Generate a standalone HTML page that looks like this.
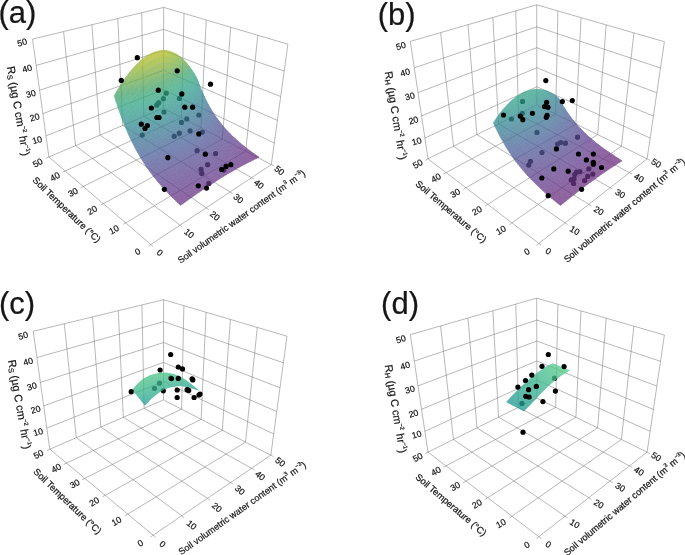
<!DOCTYPE html><html><head><meta charset="utf-8"><title>Figure</title><style>html,body{margin:0;padding:0;background:#fff}svg{display:block;will-change:transform}text{font-family:"Liberation Sans",Arial,sans-serif;fill:#161616;stroke:#161616;stroke-width:0.22px}</style></head><body>
<svg width="685" height="555" viewBox="0 0 685 555">
<rect width="685" height="555" fill="#fff"/>
<defs></defs>
<g id="panel-a">
<line x1="150.9" y1="244.5" x2="48.9" y2="157.0" stroke="#7c7c7c" stroke-width="0.55"/>
<line x1="150.9" y1="244.5" x2="271.3" y2="164.6" stroke="#7c7c7c" stroke-width="0.55"/>
<line x1="48.9" y1="157.0" x2="32.5" y2="39.1" stroke="#7c7c7c" stroke-width="0.55"/>
<line x1="271.3" y1="164.6" x2="287.9" y2="44.2" stroke="#7c7c7c" stroke-width="0.55"/>
<line x1="180.0" y1="225.2" x2="75.5" y2="145.6" stroke="#7c7c7c" stroke-width="0.55"/>
<line x1="125.7" y1="222.9" x2="245.7" y2="151.2" stroke="#7c7c7c" stroke-width="0.55"/>
<line x1="75.5" y1="145.6" x2="63.6" y2="31.6" stroke="#7c7c7c" stroke-width="0.55"/>
<line x1="45.9" y1="135.9" x2="163.4" y2="89.6" stroke="#7c7c7c" stroke-width="0.55"/>
<line x1="245.7" y1="151.2" x2="257.8" y2="35.2" stroke="#7c7c7c" stroke-width="0.55"/>
<line x1="274.3" y1="143.1" x2="163.4" y2="89.6" stroke="#7c7c7c" stroke-width="0.55"/>
<line x1="206.3" y1="207.8" x2="100.0" y2="135.1" stroke="#7c7c7c" stroke-width="0.55"/>
<line x1="103.3" y1="203.7" x2="222.4" y2="139.0" stroke="#7c7c7c" stroke-width="0.55"/>
<line x1="100.0" y1="135.1" x2="91.9" y2="24.8" stroke="#7c7c7c" stroke-width="0.55"/>
<line x1="42.8" y1="113.6" x2="163.5" y2="70.4" stroke="#7c7c7c" stroke-width="0.55"/>
<line x1="222.4" y1="139.0" x2="230.7" y2="27.2" stroke="#7c7c7c" stroke-width="0.55"/>
<line x1="277.4" y1="120.4" x2="163.5" y2="70.4" stroke="#7c7c7c" stroke-width="0.55"/>
<line x1="230.0" y1="192.0" x2="122.7" y2="125.4" stroke="#7c7c7c" stroke-width="0.55"/>
<line x1="83.2" y1="186.5" x2="201.0" y2="127.8" stroke="#7c7c7c" stroke-width="0.55"/>
<line x1="122.7" y1="125.4" x2="117.8" y2="18.5" stroke="#7c7c7c" stroke-width="0.55"/>
<line x1="39.6" y1="90.2" x2="163.5" y2="50.4" stroke="#7c7c7c" stroke-width="0.55"/>
<line x1="201.0" y1="127.8" x2="206.2" y2="20.0" stroke="#7c7c7c" stroke-width="0.55"/>
<line x1="280.7" y1="96.5" x2="163.5" y2="50.4" stroke="#7c7c7c" stroke-width="0.55"/>
<line x1="251.6" y1="177.7" x2="143.8" y2="116.4" stroke="#7c7c7c" stroke-width="0.55"/>
<line x1="65.2" y1="171.0" x2="181.4" y2="117.5" stroke="#7c7c7c" stroke-width="0.55"/>
<line x1="143.8" y1="116.4" x2="141.7" y2="12.7" stroke="#7c7c7c" stroke-width="0.55"/>
<line x1="36.2" y1="65.4" x2="163.6" y2="29.4" stroke="#7c7c7c" stroke-width="0.55"/>
<line x1="181.4" y1="117.5" x2="184.0" y2="13.4" stroke="#7c7c7c" stroke-width="0.55"/>
<line x1="284.2" y1="71.1" x2="163.6" y2="29.4" stroke="#7c7c7c" stroke-width="0.55"/>
<line x1="271.3" y1="164.6" x2="163.4" y2="108.1" stroke="#7c7c7c" stroke-width="0.55"/>
<line x1="48.9" y1="157.0" x2="163.4" y2="108.1" stroke="#7c7c7c" stroke-width="0.55"/>
<line x1="163.4" y1="108.1" x2="163.7" y2="7.4" stroke="#7c7c7c" stroke-width="0.55"/>
<line x1="32.5" y1="39.1" x2="163.7" y2="7.4" stroke="#7c7c7c" stroke-width="0.55"/>
<line x1="287.9" y1="44.2" x2="163.7" y2="7.4" stroke="#7c7c7c" stroke-width="0.55"/>
<line x1="150.9" y1="244.5" x2="148.4" y2="246.2" stroke="#7c7c7c" stroke-width="0.55"/>
<line x1="150.9" y1="244.5" x2="153.2" y2="246.5" stroke="#7c7c7c" stroke-width="0.55"/>
<line x1="125.7" y1="222.9" x2="123.1" y2="224.4" stroke="#7c7c7c" stroke-width="0.55"/>
<line x1="180.0" y1="225.2" x2="182.4" y2="227.0" stroke="#7c7c7c" stroke-width="0.55"/>
<line x1="103.3" y1="203.7" x2="100.7" y2="205.1" stroke="#7c7c7c" stroke-width="0.55"/>
<line x1="206.3" y1="207.8" x2="208.7" y2="209.5" stroke="#7c7c7c" stroke-width="0.55"/>
<line x1="83.2" y1="186.5" x2="80.6" y2="187.8" stroke="#7c7c7c" stroke-width="0.55"/>
<line x1="230.0" y1="192.0" x2="232.5" y2="193.6" stroke="#7c7c7c" stroke-width="0.55"/>
<line x1="65.2" y1="171.0" x2="62.5" y2="172.3" stroke="#7c7c7c" stroke-width="0.55"/>
<line x1="251.6" y1="177.7" x2="254.2" y2="179.2" stroke="#7c7c7c" stroke-width="0.55"/>
<line x1="48.9" y1="157.0" x2="46.1" y2="158.2" stroke="#7c7c7c" stroke-width="0.55"/>
<line x1="271.3" y1="164.6" x2="274.0" y2="166.0" stroke="#7c7c7c" stroke-width="0.55"/>
<circle cx="166.2" cy="93.2" r="2.6" fill="#000"/>
<circle cx="163.4" cy="98.7" r="2.6" fill="#000"/>
<circle cx="158.7" cy="102.7" r="2.6" fill="#000"/>
<circle cx="156.7" cy="105.2" r="2.6" fill="#000"/>
<circle cx="179.4" cy="98.4" r="2.6" fill="#000"/>
<circle cx="164.0" cy="112.0" r="2.6" fill="#000"/>
<circle cx="198.8" cy="115.0" r="2.6" fill="#000"/>
<circle cx="186.7" cy="118.9" r="2.6" fill="#000"/>
<circle cx="181.5" cy="122.4" r="2.6" fill="#000"/>
<circle cx="190.1" cy="130.9" r="2.6" fill="#000"/>
<circle cx="202.3" cy="132.0" r="2.6" fill="#000"/>
<circle cx="179.4" cy="133.2" r="2.6" fill="#000"/>
<circle cx="174.2" cy="136.3" r="2.6" fill="#000"/>
<circle cx="142.2" cy="135.1" r="2.6" fill="#000"/>
<circle cx="197.1" cy="150.7" r="2.6" fill="#000"/>
<circle cx="215.6" cy="153.5" r="2.6" fill="#000"/>
<circle cx="207.6" cy="164.7" r="2.6" fill="#000"/>
<circle cx="201.1" cy="169.4" r="2.6" fill="#000"/>
<circle cx="201.8" cy="173.4" r="2.6" fill="#000"/>
<circle cx="223.8" cy="170.1" r="2.6" fill="#000"/>
<circle cx="208.8" cy="183.4" r="2.6" fill="#000"/>
<g opacity="0.77" stroke-width="0.7" stroke-linejoin="round">
<path d="M195.4 77.4L198.2 81.8L196.9 78.3L194.2 73.6Z" fill="#33a28b" stroke="#33a28b"/>
<path d="M196.7 81.0L199.4 85.1L198.2 81.8L195.4 77.4Z" fill="#349c8d" stroke="#349c8d"/>
<path d="M197.9 84.5L200.6 88.2L199.4 85.1L196.7 81.0Z" fill="#34968f" stroke="#34968f"/>
<path d="M192.6 73.4L195.4 77.4L194.2 73.6L191.4 69.2Z" fill="#39a781" stroke="#39a781"/>
<path d="M199.2 87.8L201.9 91.2L200.6 88.2L197.9 84.5Z" fill="#359191" stroke="#359191"/>
<path d="M193.9 77.4L196.7 81.0L195.4 77.4L192.6 73.4Z" fill="#35a487" stroke="#35a487"/>
<path d="M200.4 91.0L203.2 94.1L201.9 91.2L199.2 87.8Z" fill="#358c92" stroke="#358c92"/>
<path d="M195.1 81.1L197.9 84.5L196.7 81.0L193.9 77.4Z" fill="#33a08c" stroke="#33a08c"/>
<path d="M189.7 69.8L192.6 73.4L191.4 69.2L188.4 65.3Z" fill="#43a572" stroke="#43a572"/>
<path d="M201.7 94.0L204.4 96.8L203.2 94.1L200.4 91.0Z" fill="#378794" stroke="#378794"/>
<path d="M196.4 84.7L199.2 87.8L197.9 84.5L195.1 81.1Z" fill="#349a8e" stroke="#349a8e"/>
<path d="M191.0 74.1L193.9 77.4L192.6 73.4L189.7 69.8Z" fill="#3ba87e" stroke="#3ba87e"/>
<path d="M203.0 96.9L205.7 99.5L204.4 96.8L201.7 94.0Z" fill="#3a8295" stroke="#3a8295"/>
<path d="M197.6 88.2L200.4 91.0L199.2 87.8L196.4 84.7Z" fill="#359590" stroke="#359590"/>
<path d="M192.2 78.1L195.1 81.1L193.9 77.4L191.0 74.1Z" fill="#37a585" stroke="#37a585"/>
<path d="M186.7 66.6L189.7 69.8L188.4 65.3L185.5 61.8Z" fill="#56a862" stroke="#56a862"/>
<path d="M204.3 99.6L207.0 102.0L205.7 99.5L203.0 96.9Z" fill="#3d7d96" stroke="#3d7d96"/>
<path d="M198.9 91.4L201.7 94.0L200.4 91.0L197.6 88.2Z" fill="#359091" stroke="#359091"/>
<path d="M193.5 82.0L196.4 84.7L195.1 81.1L192.2 78.1Z" fill="#34a28a" stroke="#34a28a"/>
<path d="M188.0 71.2L191.0 74.1L189.7 69.8L186.7 66.6Z" fill="#45a570" stroke="#45a570"/>
<path d="M205.6 102.3L208.3 104.4L207.0 102.0L204.3 99.6Z" fill="#407997" stroke="#407997"/>
<path d="M200.2 94.6L203.0 96.9L201.7 94.0L198.9 91.4Z" fill="#368b93" stroke="#368b93"/>
<path d="M194.8 85.7L197.6 88.2L196.4 84.7L193.5 82.0Z" fill="#349d8d" stroke="#349d8d"/>
<path d="M189.3 75.5L192.2 78.1L191.0 74.1L188.0 71.2Z" fill="#3da77b" stroke="#3da77b"/>
<path d="M206.9 104.8L209.6 106.8L208.3 104.4L205.6 102.3Z" fill="#437598" stroke="#437598"/>
<path d="M183.7 63.8L186.7 66.6L185.5 61.8L182.4 58.7Z" fill="#6aac54" stroke="#6aac54"/>
<path d="M201.5 97.6L204.3 99.6L203.0 96.9L200.2 94.6Z" fill="#388694" stroke="#388694"/>
<path d="M196.1 89.2L198.9 91.4L197.6 88.2L194.8 85.7Z" fill="#34978f" stroke="#34978f"/>
<path d="M190.5 79.6L193.5 82.0L192.2 78.1L189.3 75.5Z" fill="#38a683" stroke="#38a683"/>
<path d="M208.2 107.3L210.9 109.0L209.6 106.8L206.9 104.8Z" fill="#457198" stroke="#457198"/>
<path d="M184.9 68.7L188.0 71.2L186.7 66.6L183.7 63.8Z" fill="#56a862" stroke="#56a862"/>
<path d="M202.8 100.4L205.6 102.3L204.3 99.6L201.5 97.6Z" fill="#3b8195" stroke="#3b8195"/>
<path d="M197.3 92.6L200.2 94.6L198.9 91.4L196.1 89.2Z" fill="#359291" stroke="#359291"/>
<path d="M191.8 83.5L194.8 85.7L193.5 82.0L190.5 79.6Z" fill="#34a389" stroke="#34a389"/>
<path d="M209.5 109.6L212.2 111.2L210.9 109.0L208.2 107.3Z" fill="#476d99" stroke="#476d99"/>
<path d="M186.2 73.3L189.3 75.5L188.0 71.2L184.9 68.7Z" fill="#45a570" stroke="#45a570"/>
<path d="M204.1 103.2L206.9 104.8L205.6 102.3L202.8 100.4Z" fill="#3e7c96" stroke="#3e7c96"/>
<path d="M180.5 61.5L183.7 63.8L182.4 58.7L179.2 56.1Z" fill="#7cb047" stroke="#7cb047"/>
<path d="M198.6 95.8L201.5 97.6L200.2 94.6L197.3 92.6Z" fill="#358d92" stroke="#358d92"/>
<path d="M193.1 87.3L196.1 89.2L194.8 85.7L191.8 83.5Z" fill="#349e8d" stroke="#349e8d"/>
<path d="M210.8 111.9L213.5 113.3L212.2 111.2L209.5 109.6Z" fill="#4a699a" stroke="#4a699a"/>
<path d="M187.5 77.6L190.5 79.6L189.3 75.5L186.2 73.3Z" fill="#3da77b" stroke="#3da77b"/>
<path d="M205.4 105.8L208.2 107.3L206.9 104.8L204.1 103.2Z" fill="#417897" stroke="#417897"/>
<path d="M181.8 66.6L184.9 68.7L183.7 63.8L180.5 61.5Z" fill="#67ab56" stroke="#67ab56"/>
<path d="M199.9 98.8L202.8 100.4L201.5 97.6L198.6 95.8Z" fill="#378894" stroke="#378894"/>
<path d="M194.4 90.8L197.3 92.6L196.1 89.2L193.1 87.3Z" fill="#34988f" stroke="#34988f"/>
<path d="M212.1 114.1L214.9 115.3L213.5 113.3L210.8 111.9Z" fill="#4c669a" stroke="#4c669a"/>
<path d="M188.8 81.7L191.8 83.5L190.5 79.6L187.5 77.6Z" fill="#38a683" stroke="#38a683"/>
<path d="M206.7 108.3L209.5 109.6L208.2 107.3L205.4 105.8Z" fill="#437398" stroke="#437398"/>
<path d="M183.1 71.4L186.2 73.3L184.9 68.7L181.8 66.6Z" fill="#53a765" stroke="#53a765"/>
<path d="M201.2 101.8L204.1 103.2L202.8 100.4L199.9 98.8Z" fill="#3a8395" stroke="#3a8395"/>
<path d="M177.3 59.6L180.5 61.5L179.2 56.1L176.0 54.0Z" fill="#8bb33e" stroke="#8bb33e"/>
<path d="M195.7 94.2L198.6 95.8L197.3 92.6L194.4 90.8Z" fill="#359390" stroke="#359390"/>
<path d="M213.5 116.2L216.2 117.2L214.9 115.3L212.1 114.1Z" fill="#4e629b" stroke="#4e629b"/>
<path d="M190.1 85.7L193.1 87.3L191.8 83.5L188.8 81.7Z" fill="#34a389" stroke="#34a389"/>
<path d="M208.0 110.8L210.8 111.9L209.5 109.6L206.7 108.3Z" fill="#466f99" stroke="#466f99"/>
<path d="M184.4 76.0L187.5 77.6L186.2 73.3L183.1 71.4Z" fill="#44a572" stroke="#44a572"/>
<path d="M202.5 104.6L205.4 105.8L204.1 103.2L201.2 101.8Z" fill="#3d7e96" stroke="#3d7e96"/>
<path d="M178.6 64.9L181.8 66.6L180.5 61.5L177.3 59.6Z" fill="#76af4c" stroke="#76af4c"/>
<path d="M197.0 97.5L199.9 98.8L198.6 95.8L195.7 94.2Z" fill="#358e92" stroke="#358e92"/>
<path d="M214.8 118.2L217.5 119.1L216.2 117.2L213.5 116.2Z" fill="#505f9a" stroke="#505f9a"/>
<path d="M191.4 89.4L194.4 90.8L193.1 87.3L190.1 85.7Z" fill="#349e8d" stroke="#349e8d"/>
<path d="M209.4 113.1L212.1 114.1L210.8 111.9L208.0 110.8Z" fill="#486c99" stroke="#486c99"/>
<path d="M185.7 80.3L188.8 81.7L187.5 77.6L184.4 76.0Z" fill="#3ba77d" stroke="#3ba77d"/>
<path d="M203.9 107.3L206.7 108.3L205.4 105.8L202.5 104.6Z" fill="#407997" stroke="#407997"/>
<path d="M180.0 69.9L183.1 71.4L181.8 66.6L178.6 64.9Z" fill="#61aa5b" stroke="#61aa5b"/>
<path d="M198.3 100.6L201.2 101.8L199.9 98.8L197.0 97.5Z" fill="#368993" stroke="#368993"/>
<path d="M174.1 58.2L177.3 59.6L176.0 54.0L172.7 52.4Z" fill="#97b637" stroke="#97b637"/>
<path d="M216.2 120.2L218.9 120.9L217.5 119.1L214.8 118.2Z" fill="#525c99" stroke="#525c99"/>
<path d="M192.7 93.0L195.7 94.2L194.4 90.8L191.4 89.4Z" fill="#34988e" stroke="#34988e"/>
<path d="M210.7 115.4L213.5 116.2L212.1 114.1L209.4 113.1Z" fill="#4a689a" stroke="#4a689a"/>
<path d="M187.0 84.4L190.1 85.7L188.8 81.7L185.7 80.3Z" fill="#37a584" stroke="#37a584"/>
<path d="M205.2 109.8L208.0 110.8L206.7 108.3L203.9 107.3Z" fill="#427597" stroke="#427597"/>
<path d="M181.3 74.7L184.4 76.0L183.1 71.4L180.0 69.9Z" fill="#4da669" stroke="#4da669"/>
<path d="M199.6 103.6L202.5 104.6L201.2 101.8L198.3 100.6Z" fill="#398494" stroke="#398494"/>
<path d="M175.4 63.7L178.6 64.9L177.3 59.6L174.1 58.2Z" fill="#82b143" stroke="#82b143"/>
<path d="M217.5 122.1L220.3 122.7L218.9 120.9L216.2 120.2Z" fill="#535a98" stroke="#535a98"/>
<path d="M194.0 96.4L197.0 97.5L195.7 94.2L192.7 93.0Z" fill="#359390" stroke="#359390"/>
<path d="M212.0 117.5L214.8 118.2L213.5 116.2L210.7 115.4Z" fill="#4c659b" stroke="#4c659b"/>
<path d="M188.3 88.4L191.4 89.4L190.1 85.7L187.0 84.4Z" fill="#34a28a" stroke="#34a28a"/>
<path d="M206.5 112.3L209.4 113.1L208.0 110.8L205.2 109.8Z" fill="#457198" stroke="#457198"/>
<path d="M182.6 79.2L185.7 80.3L184.4 76.0L181.3 74.7Z" fill="#41a675" stroke="#41a675"/>
<path d="M200.9 106.4L203.9 107.3L202.5 104.6L199.6 103.6Z" fill="#3c7f95" stroke="#3c7f95"/>
<path d="M176.7 68.9L180.0 69.9L178.6 64.9L175.4 63.7Z" fill="#6dad52" stroke="#6dad52"/>
<path d="M218.9 123.9L221.6 124.4L220.3 122.7L217.5 122.1Z" fill="#555797" stroke="#555797"/>
<path d="M195.3 99.7L198.3 100.6L197.0 97.5L194.0 96.4Z" fill="#358e92" stroke="#358e92"/>
<path d="M170.7 57.2L174.1 58.2L172.7 52.4L169.4 51.2Z" fill="#a1b831" stroke="#a1b831"/>
<path d="M213.4 119.6L216.2 120.2L214.8 118.2L212.0 117.5Z" fill="#4e629a" stroke="#4e629a"/>
<path d="M189.7 92.1L192.7 93.0L191.4 89.4L188.3 88.4Z" fill="#349d8d" stroke="#349d8d"/>
<path d="M207.9 114.7L210.7 115.4L209.4 113.1L206.5 112.3Z" fill="#476d99" stroke="#476d99"/>
<path d="M183.9 83.5L187.0 84.4L185.7 80.3L182.6 79.2Z" fill="#39a880" stroke="#39a880"/>
<path d="M202.3 109.1L205.2 109.8L203.9 107.3L200.9 106.4Z" fill="#3f7a96" stroke="#3f7a96"/>
<path d="M178.0 73.8L181.3 74.7L180.0 69.9L176.7 68.9Z" fill="#59a861" stroke="#59a861"/>
<path d="M220.3 125.7L223.0 126.1L221.6 124.4L218.9 123.9Z" fill="#575596" stroke="#575596"/>
<path d="M196.7 102.8L199.6 103.6L198.3 100.6L195.3 99.7Z" fill="#368993" stroke="#368993"/>
<path d="M172.1 62.9L175.4 63.7L174.1 58.2L170.7 57.2Z" fill="#8cb33e" stroke="#8cb33e"/>
<path d="M214.8 121.7L217.5 122.1L216.2 120.2L213.4 119.6Z" fill="#505f99" stroke="#505f99"/>
<path d="M191.0 95.7L194.0 96.4L192.7 93.0L189.7 92.1Z" fill="#34978f" stroke="#34978f"/>
<path d="M209.2 117.0L212.0 117.5L210.7 115.4L207.9 114.7Z" fill="#496a9a" stroke="#496a9a"/>
<path d="M185.2 87.6L188.3 88.4L187.0 84.4L183.9 83.5Z" fill="#36a486" stroke="#36a486"/>
<path d="M203.6 111.8L206.5 112.3L205.2 109.8L202.3 109.1Z" fill="#427697" stroke="#427697"/>
<path d="M179.4 78.5L182.6 79.2L181.3 74.7L178.0 73.8Z" fill="#46a46e" stroke="#46a46e"/>
<path d="M221.7 127.4L224.4 127.7L223.0 126.1L220.3 125.7Z" fill="#585295" stroke="#585295"/>
<path d="M198.0 105.8L200.9 106.4L199.6 103.6L196.7 102.8Z" fill="#398494" stroke="#398494"/>
<path d="M173.4 68.2L176.7 68.9L175.4 63.7L172.1 62.9Z" fill="#77af4b" stroke="#77af4b"/>
<path d="M216.1 123.6L218.9 123.9L217.5 122.1L214.8 121.7Z" fill="#525c98" stroke="#525c98"/>
<path d="M192.3 99.1L195.3 99.7L194.0 96.4L191.0 95.7Z" fill="#359291" stroke="#359291"/>
<path d="M167.3 56.7L170.7 57.2L169.4 51.2L165.9 50.6Z" fill="#a9ba2c" stroke="#a9ba2c"/>
<path d="M210.6 119.2L213.4 119.6L212.0 117.5L209.2 117.0Z" fill="#4b669a" stroke="#4b669a"/>
<path d="M186.5 91.5L189.7 92.1L188.3 88.4L185.2 87.6Z" fill="#33a18c" stroke="#33a18c"/>
<path d="M205.0 114.3L207.9 114.7L206.5 112.3L203.6 111.8Z" fill="#447298" stroke="#447298"/>
<path d="M180.7 82.9L183.9 83.5L182.6 79.2L179.4 78.5Z" fill="#3ea77a" stroke="#3ea77a"/>
<path d="M223.1 129.1L225.8 129.3L224.4 127.7L221.7 127.4Z" fill="#5a5094" stroke="#5a5094"/>
<path d="M199.3 108.7L202.3 109.1L200.9 106.4L198.0 105.8Z" fill="#3c7f95" stroke="#3c7f95"/>
<path d="M174.7 73.3L178.0 73.8L176.7 68.9L173.4 68.2Z" fill="#62aa5a" stroke="#62aa5a"/>
<path d="M217.5 125.5L220.3 125.7L218.9 123.9L216.1 123.6Z" fill="#545997" stroke="#545997"/>
<path d="M193.6 102.3L196.7 102.8L195.3 99.7L192.3 99.1Z" fill="#358d92" stroke="#358d92"/>
<path d="M168.7 62.5L172.1 62.9L170.7 57.2L167.3 56.7Z" fill="#93b539" stroke="#93b539"/>
<path d="M211.9 121.4L214.8 121.7L213.4 119.6L210.6 119.2Z" fill="#4d639b" stroke="#4d639b"/>
<path d="M187.9 95.2L191.0 95.7L189.7 92.1L186.5 91.5Z" fill="#349b8d" stroke="#349b8d"/>
<path d="M206.3 116.7L209.2 117.0L207.9 114.7L205.0 114.3Z" fill="#476e99" stroke="#476e99"/>
<path d="M182.0 87.1L185.2 87.6L183.9 83.5L180.7 82.9Z" fill="#38a683" stroke="#38a683"/>
<path d="M224.5 130.8L227.2 130.8L225.8 129.3L223.1 129.1Z" fill="#5b4e93" stroke="#5b4e93"/>
<path d="M200.7 111.4L203.6 111.8L202.3 109.1L199.3 108.7Z" fill="#3f7a96" stroke="#3f7a96"/>
<path d="M176.1 78.1L179.4 78.5L178.0 73.8L174.7 73.3Z" fill="#4ea668" stroke="#4ea668"/>
<path d="M218.9 127.4L221.7 127.4L220.3 125.7L217.5 125.5Z" fill="#565696" stroke="#565696"/>
<path d="M194.9 105.4L198.0 105.8L196.7 102.8L193.6 102.3Z" fill="#378894" stroke="#378894"/>
<path d="M170.0 68.0L173.4 68.2L172.1 62.9L168.7 62.5Z" fill="#7eb046" stroke="#7eb046"/>
<path d="M213.3 123.5L216.1 123.6L214.8 121.7L211.9 121.4Z" fill="#4f609a" stroke="#4f609a"/>
<path d="M189.2 98.7L192.3 99.1L191.0 95.7L187.9 95.2Z" fill="#34968f" stroke="#34968f"/>
<path d="M163.8 56.7L167.3 56.7L165.9 50.6L162.5 50.5Z" fill="#adbb2a" stroke="#adbb2a"/>
<path d="M207.7 119.0L210.6 119.2L209.2 117.0L206.3 116.7Z" fill="#496a9a" stroke="#496a9a"/>
<path d="M183.4 91.1L186.5 91.5L185.2 87.6L182.0 87.1Z" fill="#35a389" stroke="#35a389"/>
<path d="M225.9 132.4L228.6 132.3L227.2 130.8L224.5 130.8Z" fill="#5c4c92" stroke="#5c4c92"/>
<path d="M202.0 114.1L205.0 114.3L203.6 111.8L200.7 111.4Z" fill="#427697" stroke="#427697"/>
<path d="M177.4 82.7L180.7 82.9L179.4 78.5L176.1 78.1Z" fill="#41a675" stroke="#41a675"/>
<path d="M220.3 129.1L223.1 129.1L221.7 127.4L218.9 127.4Z" fill="#575495" stroke="#575495"/>
<path d="M196.3 108.4L199.3 108.7L198.0 105.8L194.9 105.4Z" fill="#3a8395" stroke="#3a8395"/>
<path d="M171.4 73.2L174.7 73.3L173.4 68.2L170.0 68.0Z" fill="#69ac55" stroke="#69ac55"/>
<path d="M214.7 125.5L217.5 125.5L216.1 123.6L213.3 123.5Z" fill="#515d99" stroke="#515d99"/>
<path d="M190.5 102.1L193.6 102.3L192.3 99.1L189.2 98.7Z" fill="#359191" stroke="#359191"/>
<path d="M165.2 62.6L168.7 62.5L167.3 56.7L163.8 56.7Z" fill="#99b636" stroke="#99b636"/>
<path d="M209.0 121.3L211.9 121.4L210.6 119.2L207.7 119.0Z" fill="#4b679a" stroke="#4b679a"/>
<path d="M184.7 95.0L187.9 95.2L186.5 91.5L183.4 91.1Z" fill="#339f8c" stroke="#339f8c"/>
<path d="M227.3 133.9L230.1 133.8L228.6 132.3L225.9 132.4Z" fill="#5e4a92" stroke="#5e4a92"/>
<path d="M203.4 116.6L206.3 116.7L205.0 114.3L202.0 114.1Z" fill="#447298" stroke="#447298"/>
<path d="M178.8 87.0L182.0 87.1L180.7 82.9L177.4 82.7Z" fill="#39a880" stroke="#39a880"/>
<path d="M221.7 130.9L224.5 130.8L223.1 129.1L220.3 129.1Z" fill="#595295" stroke="#595295"/>
<path d="M197.6 111.3L200.7 111.4L199.3 108.7L196.3 108.4Z" fill="#3d7e96" stroke="#3d7e96"/>
<path d="M172.7 78.1L176.1 78.1L174.7 73.3L171.4 73.2Z" fill="#55a763" stroke="#55a763"/>
<path d="M216.1 127.4L218.9 127.4L217.5 125.5L214.7 125.5Z" fill="#535a98" stroke="#535a98"/>
<path d="M191.9 105.3L194.9 105.4L193.6 102.3L190.5 102.1Z" fill="#368c93" stroke="#368c93"/>
<path d="M166.6 68.2L170.0 68.0L168.7 62.5L165.2 62.6Z" fill="#84b242" stroke="#84b242"/>
<path d="M210.4 123.5L213.3 123.5L211.9 121.4L209.0 121.3Z" fill="#4d649b" stroke="#4d649b"/>
<path d="M186.0 98.6L189.2 98.7L187.9 95.2L184.7 95.0Z" fill="#34998e" stroke="#34998e"/>
<path d="M228.8 135.4L231.5 135.2L230.1 133.8L227.3 133.9Z" fill="#5f4891" stroke="#5f4891"/>
<path d="M160.3 57.2L163.8 56.7L162.5 50.5L158.9 50.9Z" fill="#b0bb29" stroke="#b0bb29"/>
<path d="M204.7 119.0L207.7 119.0L206.3 116.7L203.4 116.6Z" fill="#476e99" stroke="#476e99"/>
<path d="M180.1 91.1L183.4 91.1L182.0 87.1L178.8 87.0Z" fill="#36a586" stroke="#36a586"/>
<path d="M223.1 132.6L225.9 132.4L224.5 130.8L221.7 130.9Z" fill="#5a5094" stroke="#5a5094"/>
<path d="M199.0 114.0L202.0 114.1L200.7 111.4L197.6 111.3Z" fill="#407a97" stroke="#407a97"/>
<path d="M174.1 82.8L177.4 82.7L176.1 78.1L172.7 78.1Z" fill="#44a571" stroke="#44a571"/>
<path d="M217.5 129.3L220.3 129.1L218.9 127.4L216.1 127.4Z" fill="#555797" stroke="#555797"/>
<path d="M193.2 108.4L196.3 108.4L194.9 105.4L191.9 105.3Z" fill="#388794" stroke="#388794"/>
<path d="M168.0 73.5L171.4 73.2L170.0 68.0L166.6 68.2Z" fill="#6fad51" stroke="#6fad51"/>
<path d="M211.8 125.6L214.7 125.5L213.3 123.5L210.4 123.5Z" fill="#4f609a" stroke="#4f609a"/>
<path d="M187.4 102.1L190.5 102.1L189.2 98.7L186.0 98.6Z" fill="#359490" stroke="#359490"/>
<path d="M230.2 136.9L232.9 136.6L231.5 135.2L228.8 135.4Z" fill="#604791" stroke="#604791"/>
<path d="M161.7 63.2L165.2 62.6L163.8 56.7L160.3 57.2Z" fill="#9cb734" stroke="#9cb734"/>
<path d="M206.1 121.4L209.0 121.3L207.7 119.0L204.7 119.0Z" fill="#496a9a" stroke="#496a9a"/>
<path d="M181.5 95.1L184.7 95.0L183.4 91.1L180.1 91.1Z" fill="#33a18b" stroke="#33a18b"/>
<path d="M224.5 134.2L227.3 133.9L225.9 132.4L223.1 132.6Z" fill="#5c4d93" stroke="#5c4d93"/>
<path d="M200.3 116.7L203.4 116.6L202.0 114.1L199.0 114.0Z" fill="#427597" stroke="#427597"/>
<path d="M175.5 87.2L178.8 87.0L177.4 82.7L174.1 82.8Z" fill="#3ca77c" stroke="#3ca77c"/>
<path d="M218.9 131.1L221.7 130.9L220.3 129.1L217.5 129.3Z" fill="#575596" stroke="#575596"/>
<path d="M194.6 111.4L197.6 111.3L196.3 108.4L193.2 108.4Z" fill="#3b8295" stroke="#3b8295"/>
<path d="M169.4 78.5L172.7 78.1L171.4 73.2L168.0 73.5Z" fill="#5aa860" stroke="#5aa860"/>
<path d="M213.2 127.6L216.1 127.4L214.7 125.5L211.8 125.6Z" fill="#515d99" stroke="#515d99"/>
<path d="M188.7 105.4L191.9 105.3L190.5 102.1L187.4 102.1Z" fill="#358e92" stroke="#358e92"/>
<path d="M231.7 138.4L234.4 138.0L232.9 136.6L230.2 136.9Z" fill="#614590" stroke="#614590"/>
<path d="M163.1 68.9L166.6 68.2L165.2 62.6L161.7 63.2Z" fill="#87b240" stroke="#87b240"/>
<path d="M207.5 123.7L210.4 123.5L209.0 121.3L206.1 121.4Z" fill="#4b679a" stroke="#4b679a"/>
<path d="M182.8 98.8L186.0 98.6L184.7 95.0L181.5 95.1Z" fill="#349b8d" stroke="#349b8d"/>
<path d="M226.0 135.8L228.8 135.4L227.3 133.9L224.5 134.2Z" fill="#5d4c92" stroke="#5d4c92"/>
<path d="M156.8 58.2L160.3 57.2L158.9 50.9L155.3 51.8Z" fill="#b1bb29" stroke="#b1bb29"/>
<path d="M201.7 119.2L204.7 119.0L203.4 116.6L200.3 116.7Z" fill="#457198" stroke="#457198"/>
<path d="M176.8 91.4L180.1 91.1L178.8 87.0L175.5 87.2Z" fill="#37a684" stroke="#37a684"/>
<path d="M220.3 132.9L223.1 132.6L221.7 130.9L218.9 131.1Z" fill="#585395" stroke="#585395"/>
<path d="M195.9 114.2L199.0 114.0L197.6 111.3L194.6 111.4Z" fill="#3e7d96" stroke="#3e7d96"/>
<path d="M170.7 83.3L174.1 82.8L172.7 78.1L169.4 78.5Z" fill="#47a46d" stroke="#47a46d"/>
<path d="M214.6 129.6L217.5 129.3L216.1 127.4L213.2 127.6Z" fill="#535b98" stroke="#535b98"/>
<path d="M190.1 108.6L193.2 108.4L191.9 105.3L188.7 105.4Z" fill="#368a93" stroke="#368a93"/>
<path d="M233.1 139.8L235.9 139.3L234.4 138.0L231.7 138.4Z" fill="#62448f" stroke="#62448f"/>
<path d="M164.5 74.2L168.0 73.5L166.6 68.2L163.1 68.9Z" fill="#72ae4f" stroke="#72ae4f"/>
<path d="M208.8 125.8L211.8 125.6L210.4 123.5L207.5 123.7Z" fill="#4d649b" stroke="#4d649b"/>
<path d="M184.2 102.4L187.4 102.1L186.0 98.6L182.8 98.8Z" fill="#34968f" stroke="#34968f"/>
<path d="M227.4 137.4L230.2 136.9L228.8 135.4L226.0 135.8Z" fill="#5e4a92" stroke="#5e4a92"/>
<path d="M158.2 64.2L161.7 63.2L160.3 57.2L156.8 58.2Z" fill="#9eb733" stroke="#9eb733"/>
<path d="M203.1 121.6L206.1 121.4L204.7 119.0L201.7 119.2Z" fill="#476d99" stroke="#476d99"/>
<path d="M178.2 95.5L181.5 95.1L180.1 91.1L176.8 91.4Z" fill="#34a38a" stroke="#34a38a"/>
<path d="M221.7 134.6L224.5 134.2L223.1 132.6L220.3 132.9Z" fill="#5a5094" stroke="#5a5094"/>
<path d="M197.3 116.9L200.3 116.7L199.0 114.0L195.9 114.2Z" fill="#407897" stroke="#407897"/>
<path d="M172.1 87.8L175.5 87.2L174.1 82.8L170.7 83.3Z" fill="#3ea779" stroke="#3ea779"/>
<path d="M216.0 131.5L218.9 131.1L217.5 129.3L214.6 129.6Z" fill="#555897" stroke="#555897"/>
<path d="M191.4 111.7L194.6 111.4L193.2 108.4L190.1 108.6Z" fill="#398494" stroke="#398494"/>
<path d="M234.6 141.2L237.3 140.6L235.9 139.3L233.1 139.8Z" fill="#63428f" stroke="#63428f"/>
<path d="M165.9 79.3L169.4 78.5L168.0 73.5L164.5 74.2Z" fill="#5da95d" stroke="#5da95d"/>
<path d="M210.2 128.0L213.2 127.6L211.8 125.6L208.8 125.8Z" fill="#4f609a" stroke="#4f609a"/>
<path d="M185.5 105.8L188.7 105.4L187.4 102.1L184.2 102.4Z" fill="#359191" stroke="#359191"/>
<path d="M228.9 138.9L231.7 138.4L230.2 136.9L227.4 137.4Z" fill="#5f4891" stroke="#5f4891"/>
<path d="M159.6 69.9L163.1 68.9L161.7 63.2L158.2 64.2Z" fill="#89b33f" stroke="#89b33f"/>
<path d="M204.5 124.0L207.5 123.7L206.1 121.4L203.1 121.6Z" fill="#496a9a" stroke="#496a9a"/>
<path d="M179.5 99.3L182.8 98.8L181.5 95.1L178.2 95.5Z" fill="#349e8d" stroke="#349e8d"/>
<path d="M223.2 136.3L226.0 135.8L224.5 134.2L221.7 134.6Z" fill="#5b4e93" stroke="#5b4e93"/>
<path d="M153.2 59.6L156.8 58.2L155.3 51.8L151.7 53.2Z" fill="#b1bb29" stroke="#b1bb29"/>
<path d="M198.6 119.6L201.7 119.2L200.3 116.7L197.3 116.9Z" fill="#437498" stroke="#437498"/>
<path d="M173.5 92.1L176.8 91.4L175.5 87.2L172.1 87.8Z" fill="#38a782" stroke="#38a782"/>
<path d="M217.4 133.3L220.3 132.9L218.9 131.1L216.0 131.5Z" fill="#565596" stroke="#565596"/>
<path d="M192.8 114.6L195.9 114.2L194.6 111.4L191.4 111.7Z" fill="#3c7f95" stroke="#3c7f95"/>
<path d="M236.1 142.5L238.8 141.9L237.3 140.6L234.6 141.2Z" fill="#64418e" stroke="#64418e"/>
<path d="M167.3 84.1L170.7 83.3L169.4 78.5L165.9 79.3Z" fill="#4aa56b" stroke="#4aa56b"/>
<path d="M211.6 130.0L214.6 129.6L213.2 127.6L210.2 128.0Z" fill="#515d99" stroke="#515d99"/>
<path d="M186.9 109.1L190.1 108.6L188.7 105.4L185.5 105.8Z" fill="#368c93" stroke="#368c93"/>
<path d="M230.3 140.4L233.1 139.8L231.7 138.4L228.9 138.9Z" fill="#604690" stroke="#604690"/>
<path d="M161.0 75.3L164.5 74.2L163.1 68.9L159.6 69.9Z" fill="#74ae4d" stroke="#74ae4d"/>
<path d="M205.8 126.3L208.8 125.8L207.5 123.7L204.5 124.0Z" fill="#4b669a" stroke="#4b669a"/>
<path d="M180.9 102.9L184.2 102.4L182.8 98.8L179.5 99.3Z" fill="#34988f" stroke="#34988f"/>
<path d="M224.6 137.9L227.4 137.4L226.0 135.8L223.2 136.3Z" fill="#5c4c93" stroke="#5c4c93"/>
<path d="M154.6 65.7L158.2 64.2L156.8 58.2L153.2 59.6Z" fill="#9eb733" stroke="#9eb733"/>
<path d="M200.0 122.1L203.1 121.6L201.7 119.2L198.6 119.6Z" fill="#457098" stroke="#457098"/>
<path d="M174.8 96.2L178.2 95.5L176.8 91.4L173.5 92.1Z" fill="#35a388" stroke="#35a388"/>
<path d="M218.8 135.1L221.7 134.6L220.3 132.9L217.4 133.3Z" fill="#585395" stroke="#585395"/>
<path d="M194.2 117.4L197.3 116.9L195.9 114.2L192.8 114.6Z" fill="#3f7b96" stroke="#3f7b96"/>
<path d="M237.6 143.9L240.3 143.2L238.8 141.9L236.1 142.5Z" fill="#65408e" stroke="#65408e"/>
<path d="M168.7 88.7L172.1 87.8L170.7 83.3L167.3 84.1Z" fill="#40a677" stroke="#40a677"/>
<path d="M213.1 132.0L216.0 131.5L214.6 129.6L211.6 130.0Z" fill="#535b98" stroke="#535b98"/>
<path d="M188.2 112.2L191.4 111.7L190.1 108.6L186.9 109.1Z" fill="#388794" stroke="#388794"/>
<path d="M231.8 141.8L234.6 141.2L233.1 139.8L230.3 140.4Z" fill="#614590" stroke="#614590"/>
<path d="M162.4 80.4L165.9 79.3L164.5 74.2L161.0 75.3Z" fill="#5faa5c" stroke="#5faa5c"/>
<path d="M207.2 128.5L210.2 128.0L208.8 125.8L205.8 126.3Z" fill="#4d639b" stroke="#4d639b"/>
<path d="M182.3 106.4L185.5 105.8L184.2 102.4L180.9 102.9Z" fill="#359390" stroke="#359390"/>
<path d="M226.0 139.5L228.9 138.9L227.4 137.4L224.6 137.9Z" fill="#5e4a92" stroke="#5e4a92"/>
<path d="M156.0 71.4L159.6 69.9L158.2 64.2L154.6 65.7Z" fill="#89b33f" stroke="#89b33f"/>
<path d="M201.4 124.5L204.5 124.0L203.1 121.6L200.0 122.1Z" fill="#486c99" stroke="#486c99"/>
<path d="M176.2 100.0L179.5 99.3L178.2 95.5L174.8 96.2Z" fill="#339f8c" stroke="#339f8c"/>
<path d="M220.3 136.9L223.2 136.3L221.7 134.6L218.8 135.1Z" fill="#595194" stroke="#595194"/>
<path d="M149.5 61.6L153.2 59.6L151.7 53.2L148.0 55.2Z" fill="#afbb29" stroke="#afbb29"/>
<path d="M195.5 120.1L198.6 119.6L197.3 116.9L194.2 117.4Z" fill="#417697" stroke="#417697"/>
<path d="M239.1 145.2L241.8 144.4L240.3 143.2L237.6 143.9Z" fill="#663e8c" stroke="#663e8c"/>
<path d="M170.1 93.0L173.5 92.1L172.1 87.8L168.7 88.7Z" fill="#39a781" stroke="#39a781"/>
<path d="M214.5 133.9L217.4 133.3L216.0 131.5L213.1 132.0Z" fill="#555897" stroke="#555897"/>
<path d="M189.6 115.2L192.8 114.6L191.4 111.7L188.2 112.2Z" fill="#3b8295" stroke="#3b8295"/>
<path d="M233.3 143.3L236.1 142.5L234.6 141.2L231.8 141.8Z" fill="#62438f" stroke="#62438f"/>
<path d="M163.8 85.3L167.3 84.1L165.9 79.3L162.4 80.4Z" fill="#4ca56a" stroke="#4ca56a"/>
<path d="M208.6 130.6L211.6 130.0L210.2 128.0L207.2 128.5Z" fill="#4f609a" stroke="#4f609a"/>
<path d="M183.6 109.8L186.9 109.1L185.5 105.8L182.3 106.4Z" fill="#358e92" stroke="#358e92"/>
<path d="M227.5 141.1L230.3 140.4L228.9 138.9L226.0 139.5Z" fill="#5f4991" stroke="#5f4991"/>
<path d="M157.5 76.8L161.0 75.3L159.6 69.9L156.0 71.4Z" fill="#74ae4d" stroke="#74ae4d"/>
<path d="M202.8 126.9L205.8 126.3L204.5 124.0L201.4 124.5Z" fill="#4a699a" stroke="#4a699a"/>
<path d="M177.6 103.8L180.9 102.9L179.5 99.3L176.2 100.0Z" fill="#34998e" stroke="#34998e"/>
<path d="M221.7 138.6L224.6 137.9L223.2 136.3L220.3 136.9Z" fill="#5b4f93" stroke="#5b4f93"/>
<path d="M151.0 67.6L154.6 65.7L153.2 59.6L149.5 61.6Z" fill="#9cb734" stroke="#9cb734"/>
<path d="M196.9 122.7L200.0 122.1L198.6 119.6L195.5 120.1Z" fill="#447298" stroke="#447298"/>
<path d="M240.6 146.5L243.3 145.7L241.8 144.4L239.1 145.2Z" fill="#663d8b" stroke="#663d8b"/>
<path d="M171.4 97.1L174.8 96.2L173.5 92.1L170.1 93.0Z" fill="#35a487" stroke="#35a487"/>
<path d="M215.9 135.8L218.8 135.1L217.4 133.3L214.5 133.9Z" fill="#565596" stroke="#565596"/>
<path d="M191.0 118.1L194.2 117.4L192.8 114.6L189.6 115.2Z" fill="#3e7d96" stroke="#3e7d96"/>
<path d="M234.8 144.7L237.6 143.9L236.1 142.5L233.3 143.3Z" fill="#63428f" stroke="#63428f"/>
<path d="M165.2 89.9L168.7 88.7L167.3 84.1L163.8 85.3Z" fill="#40a676" stroke="#40a676"/>
<path d="M210.1 132.6L213.1 132.0L211.6 130.0L208.6 130.6Z" fill="#515d99" stroke="#515d99"/>
<path d="M185.0 113.0L188.2 112.2L186.9 109.1L183.6 109.8Z" fill="#378994" stroke="#378994"/>
<path d="M229.0 142.6L231.8 141.8L230.3 140.4L227.5 141.1Z" fill="#604791" stroke="#604791"/>
<path d="M158.9 82.0L162.4 80.4L161.0 75.3L157.5 76.8Z" fill="#5faa5c" stroke="#5faa5c"/>
<path d="M204.2 129.1L207.2 128.5L205.8 126.3L202.8 126.9Z" fill="#4c659b" stroke="#4c659b"/>
<path d="M178.9 107.3L182.3 106.4L180.9 102.9L177.6 103.8Z" fill="#359490" stroke="#359490"/>
<path d="M223.2 140.2L226.0 139.5L224.6 137.9L221.7 138.6Z" fill="#5c4d93" stroke="#5c4d93"/>
<path d="M152.4 73.3L156.0 71.4L154.6 65.7L151.0 67.6Z" fill="#87b240" stroke="#87b240"/>
<path d="M198.3 125.2L201.4 124.5L200.0 122.1L196.9 122.7Z" fill="#466e99" stroke="#466e99"/>
<path d="M242.1 147.8L244.8 146.9L243.3 145.7L240.6 146.5Z" fill="#673b8a" stroke="#673b8a"/>
<path d="M172.8 101.1L176.2 100.0L174.8 96.2L171.4 97.1Z" fill="#33a08c" stroke="#33a08c"/>
<path d="M217.3 137.6L220.3 136.9L218.8 135.1L215.9 135.8Z" fill="#585395" stroke="#585395"/>
<path d="M145.8 64.0L149.5 61.6L148.0 55.2L144.3 57.7Z" fill="#adbb2a" stroke="#adbb2a"/>
<path d="M192.4 120.9L195.5 120.1L194.2 117.4L191.0 118.1Z" fill="#407897" stroke="#407897"/>
<path d="M236.3 146.0L239.1 145.2L237.6 143.9L234.8 144.7Z" fill="#64418e" stroke="#64418e"/>
<path d="M166.6 94.3L170.1 93.0L168.7 88.7L165.2 89.9Z" fill="#39a781" stroke="#39a781"/>
<path d="M211.5 134.6L214.5 133.9L213.1 132.0L210.1 132.6Z" fill="#535a98" stroke="#535a98"/>
<path d="M186.4 116.0L189.6 115.2L188.2 112.2L185.0 113.0Z" fill="#3a8395" stroke="#3a8395"/>
<path d="M230.5 144.1L233.3 143.3L231.8 141.8L229.0 142.6Z" fill="#614590" stroke="#614590"/>
<path d="M160.3 86.8L163.8 85.3L162.4 80.4L158.9 82.0Z" fill="#4ba56a" stroke="#4ba56a"/>
<path d="M205.6 131.3L208.6 130.6L207.2 128.5L204.2 129.1Z" fill="#4e629b" stroke="#4e629b"/>
<path d="M180.3 110.7L183.6 109.8L182.3 106.4L178.9 107.3Z" fill="#358f92" stroke="#358f92"/>
<path d="M224.6 141.9L227.5 141.1L226.0 139.5L223.2 140.2Z" fill="#5d4b92" stroke="#5d4b92"/>
<path d="M153.9 78.7L157.5 76.8L156.0 71.4L152.4 73.3Z" fill="#72ae4f" stroke="#72ae4f"/>
<path d="M199.7 127.6L202.8 126.9L201.4 124.5L198.3 125.2Z" fill="#496b99" stroke="#496b99"/>
<path d="M243.6 149.0L246.4 148.1L244.8 146.9L242.1 147.8Z" fill="#683a88" stroke="#683a88"/>
<path d="M174.2 104.9L177.6 103.8L176.2 100.0L172.8 101.1Z" fill="#349a8e" stroke="#349a8e"/>
<path d="M218.8 139.4L221.7 138.6L220.3 136.9L217.3 137.6Z" fill="#595194" stroke="#595194"/>
<path d="M147.3 70.0L151.0 67.6L149.5 61.6L145.8 64.0Z" fill="#98b636" stroke="#98b636"/>
<path d="M193.7 123.5L196.9 122.7L195.5 120.1L192.4 120.9Z" fill="#437498" stroke="#437498"/>
<path d="M237.8 147.4L240.6 146.5L239.1 145.2L236.3 146.0Z" fill="#653f8d" stroke="#653f8d"/>
<path d="M168.0 98.4L171.4 97.1L170.1 93.0L166.6 94.3Z" fill="#36a487" stroke="#36a487"/>
<path d="M212.9 136.6L215.9 135.8L214.5 133.9L211.5 134.6Z" fill="#555897" stroke="#555897"/>
<path d="M187.8 119.0L191.0 118.1L189.6 115.2L186.4 116.0Z" fill="#3d7f96" stroke="#3d7f96"/>
<path d="M232.0 145.5L234.8 144.7L233.3 143.3L230.5 144.1Z" fill="#62448f" stroke="#62448f"/>
<path d="M161.7 91.5L165.2 89.9L163.8 85.3L160.3 86.8Z" fill="#40a676" stroke="#40a676"/>
<path d="M207.0 133.4L210.1 132.6L208.6 130.6L205.6 131.3Z" fill="#505f99" stroke="#505f99"/>
<path d="M181.7 114.0L185.0 113.0L183.6 109.8L180.3 110.7Z" fill="#368a93" stroke="#368a93"/>
<path d="M226.1 143.4L229.0 142.6L227.5 141.1L224.6 141.9Z" fill="#5e4991" stroke="#5e4991"/>
<path d="M155.3 83.9L158.9 82.0L157.5 76.8L153.9 78.7Z" fill="#5da95d" stroke="#5da95d"/>
<path d="M201.1 129.9L204.2 129.1L202.8 126.9L199.7 127.6Z" fill="#4b679a" stroke="#4b679a"/>
<path d="M245.2 150.2L247.9 149.3L246.4 148.1L243.6 149.0Z" fill="#693987" stroke="#693987"/>
<path d="M175.6 108.4L178.9 107.3L177.6 103.8L174.2 104.9Z" fill="#359590" stroke="#359590"/>
<path d="M220.2 141.1L223.2 140.2L221.7 138.6L218.8 139.4Z" fill="#5b4f93" stroke="#5b4f93"/>
<path d="M148.8 75.7L152.4 73.3L151.0 67.6L147.3 70.0Z" fill="#84b243" stroke="#84b243"/>
<path d="M195.1 126.1L198.3 125.2L196.9 122.7L193.7 123.5Z" fill="#457098" stroke="#457098"/>
<path d="M239.3 148.7L242.1 147.8L240.6 146.5L237.8 147.4Z" fill="#663e8c" stroke="#663e8c"/>
<path d="M169.4 102.4L172.8 101.1L171.4 97.1L168.0 98.4Z" fill="#33a18c" stroke="#33a18c"/>
<path d="M214.4 138.4L217.3 137.6L215.9 135.8L212.9 136.6Z" fill="#565596" stroke="#565596"/>
<path d="M142.1 67.0L145.8 64.0L144.3 57.7L140.6 60.7Z" fill="#a9ba2c" stroke="#a9ba2c"/>
<path d="M189.1 121.8L192.4 120.9L191.0 118.1L187.8 119.0Z" fill="#3f7a96" stroke="#3f7a96"/>
<path d="M233.5 147.0L236.3 146.0L234.8 144.7L232.0 145.5Z" fill="#63438f" stroke="#63438f"/>
<path d="M163.1 95.9L166.6 94.3L165.2 89.9L161.7 91.5Z" fill="#39a781" stroke="#39a781"/>
<path d="M208.4 135.5L211.5 134.6L210.1 132.6L207.0 133.4Z" fill="#525c98" stroke="#525c98"/>
<path d="M183.1 117.1L186.4 116.0L185.0 113.0L181.7 114.0Z" fill="#398594" stroke="#398594"/>
<path d="M227.6 145.0L230.5 144.1L229.0 142.6L226.1 143.4Z" fill="#604791" stroke="#604791"/>
<path d="M156.7 88.7L160.3 86.8L158.9 82.0L155.3 83.9Z" fill="#4aa56b" stroke="#4aa56b"/>
<path d="M202.5 132.2L205.6 131.3L204.2 129.1L201.1 129.9Z" fill="#4d649b" stroke="#4d649b"/>
<path d="M246.7 151.5L249.5 150.4L247.9 149.3L245.2 150.2Z" fill="#693886" stroke="#693886"/>
<path d="M177.0 111.9L180.3 110.7L178.9 107.3L175.6 108.4Z" fill="#359091" stroke="#359091"/>
<path d="M221.7 142.7L224.6 141.9L223.2 140.2L220.2 141.1Z" fill="#5c4d93" stroke="#5c4d93"/>
<path d="M150.2 81.1L153.9 78.7L152.4 73.3L148.8 75.7Z" fill="#6ead51" stroke="#6ead51"/>
<path d="M196.5 128.5L199.7 127.6L198.3 125.2L195.1 126.1Z" fill="#486c99" stroke="#486c99"/>
<path d="M240.9 150.0L243.6 149.0L242.1 147.8L239.3 148.7Z" fill="#673c8b" stroke="#673c8b"/>
<path d="M170.8 106.2L174.2 104.9L172.8 101.1L169.4 102.4Z" fill="#349b8e" stroke="#349b8e"/>
<path d="M215.8 140.3L218.8 139.4L217.3 137.6L214.4 138.4Z" fill="#585395" stroke="#585395"/>
<path d="M143.6 72.9L147.3 70.0L145.8 64.0L142.1 67.0Z" fill="#93b539" stroke="#93b539"/>
<path d="M190.5 124.5L193.7 123.5L192.4 120.9L189.1 121.8Z" fill="#427697" stroke="#427697"/>
<path d="M235.0 148.4L237.8 147.4L236.3 146.0L233.5 147.0Z" fill="#64418e" stroke="#64418e"/>
<path d="M164.5 100.0L168.0 98.4L166.6 94.3L163.1 95.9Z" fill="#36a487" stroke="#36a487"/>
<path d="M209.9 137.5L212.9 136.6L211.5 134.6L208.4 135.5Z" fill="#545997" stroke="#545997"/>
<path d="M184.5 120.1L187.8 119.0L186.4 116.0L183.1 117.1Z" fill="#3c8095" stroke="#3c8095"/>
<path d="M229.1 146.5L232.0 145.5L230.5 144.1L227.6 145.0Z" fill="#614690" stroke="#614690"/>
<path d="M158.1 93.4L161.7 91.5L160.3 86.8L156.7 88.7Z" fill="#40a677" stroke="#40a677"/>
<path d="M203.9 134.4L207.0 133.4L205.6 131.3L202.5 132.2Z" fill="#4f619a" stroke="#4f619a"/>
<path d="M248.3 152.7L251.0 151.6L249.5 150.4L246.7 151.5Z" fill="#6a3785" stroke="#6a3785"/>
<path d="M178.4 115.2L181.7 114.0L180.3 110.7L177.0 111.9Z" fill="#368b93" stroke="#368b93"/>
<path d="M223.2 144.4L226.1 143.4L224.6 141.9L221.7 142.7Z" fill="#5d4b92" stroke="#5d4b92"/>
<path d="M151.7 86.2L155.3 83.9L153.9 78.7L150.2 81.1Z" fill="#5aa860" stroke="#5aa860"/>
<path d="M198.0 130.9L201.1 129.9L199.7 127.6L196.5 128.5Z" fill="#4a699a" stroke="#4a699a"/>
<path d="M242.4 151.3L245.2 150.2L243.6 149.0L240.9 150.0Z" fill="#673b89" stroke="#673b89"/>
<path d="M172.2 109.8L175.6 108.4L174.2 104.9L170.8 106.2Z" fill="#34958f" stroke="#34958f"/>
<path d="M217.3 142.0L220.2 141.1L218.8 139.4L215.8 140.3Z" fill="#5a5194" stroke="#5a5194"/>
<path d="M145.1 78.5L148.8 75.7L147.3 70.0L143.6 72.9Z" fill="#7eb046" stroke="#7eb046"/>
<path d="M191.9 127.1L195.1 126.1L193.7 123.5L190.5 124.5Z" fill="#447298" stroke="#447298"/>
<path d="M236.5 149.7L239.3 148.7L237.8 147.4L235.0 148.4Z" fill="#65408e" stroke="#65408e"/>
<path d="M165.9 104.0L169.4 102.4L168.0 98.4L164.5 100.0Z" fill="#33a08c" stroke="#33a08c"/>
<path d="M211.3 139.4L214.4 138.4L212.9 136.6L209.9 137.5Z" fill="#555796" stroke="#555796"/>
<path d="M138.4 70.4L142.1 67.0L140.6 60.7L136.9 64.2Z" fill="#a1b831" stroke="#a1b831"/>
<path d="M185.9 122.9L189.1 121.8L187.8 119.0L184.5 120.1Z" fill="#3f7b96" stroke="#3f7b96"/>
<path d="M230.6 148.0L233.5 147.0L232.0 145.5L229.1 146.5Z" fill="#624490" stroke="#624490"/>
<path d="M159.6 97.8L163.1 95.9L161.7 91.5L158.1 93.4Z" fill="#39a781" stroke="#39a781"/>
<path d="M205.4 136.5L208.4 135.5L207.0 133.4L203.9 134.4Z" fill="#515e99" stroke="#515e99"/>
<path d="M249.9 153.9L252.6 152.8L251.0 151.6L248.3 152.7Z" fill="#6b3584" stroke="#6b3584"/>
<path d="M179.8 118.3L183.1 117.1L181.7 114.0L178.4 115.2Z" fill="#388694" stroke="#388694"/>
<path d="M224.7 146.0L227.6 145.0L226.1 143.4L223.2 144.4Z" fill="#5e4991" stroke="#5e4991"/>
<path d="M153.1 91.0L156.7 88.7L155.3 83.9L151.7 86.2Z" fill="#47a46e" stroke="#47a46e"/>
<path d="M199.4 133.2L202.5 132.2L201.1 129.9L198.0 130.9Z" fill="#4c659b" stroke="#4c659b"/>
<path d="M244.0 152.6L246.7 151.5L245.2 150.2L242.4 151.3Z" fill="#683a88" stroke="#683a88"/>
<path d="M173.6 113.3L177.0 111.9L175.6 108.4L172.2 109.8Z" fill="#359091" stroke="#359091"/>
<path d="M218.7 143.8L221.7 142.7L220.2 141.1L217.3 142.0Z" fill="#5b4e93" stroke="#5b4e93"/>
<path d="M146.6 83.8L150.2 81.1L148.8 75.7L145.1 78.5Z" fill="#69ac55" stroke="#69ac55"/>
<path d="M193.3 129.6L196.5 128.5L195.1 126.1L191.9 127.1Z" fill="#476e99" stroke="#476e99"/>
<path d="M238.0 151.1L240.9 150.0L239.3 148.7L236.5 149.7Z" fill="#653e8c" stroke="#653e8c"/>
<path d="M167.3 107.8L170.8 106.2L169.4 102.4L165.9 104.0Z" fill="#349b8e" stroke="#349b8e"/>
<path d="M212.8 141.3L215.8 140.3L214.4 138.4L211.3 139.4Z" fill="#575496" stroke="#575496"/>
<path d="M139.9 76.2L143.6 72.9L142.1 67.0L138.4 70.4Z" fill="#8cb33e" stroke="#8cb33e"/>
<path d="M187.3 125.7L190.5 124.5L189.1 121.8L185.9 122.9Z" fill="#417797" stroke="#417797"/>
<path d="M232.1 149.4L235.0 148.4L233.5 147.0L230.6 148.0Z" fill="#63438f" stroke="#63438f"/>
<path d="M161.0 101.9L164.5 100.0L163.1 95.9L159.6 97.8Z" fill="#35a487" stroke="#35a487"/>
<path d="M206.8 138.5L209.9 137.5L208.4 135.5L205.4 136.5Z" fill="#535b98" stroke="#535b98"/>
<path d="M251.5 155.0L254.2 153.9L252.6 152.8L249.9 153.9Z" fill="#6b3483" stroke="#6b3483"/>
<path d="M181.1 121.3L184.5 120.1L183.1 117.1L179.8 118.3Z" fill="#3b8195" stroke="#3b8195"/>
<path d="M226.2 147.5L229.1 146.5L227.6 145.0L224.7 146.0Z" fill="#604791" stroke="#604791"/>
<path d="M154.6 95.6L158.1 93.4L156.7 88.7L153.1 91.0Z" fill="#3ea779" stroke="#3ea779"/>
<path d="M200.8 135.4L203.9 134.4L202.5 132.2L199.4 133.2Z" fill="#4e629b" stroke="#4e629b"/>
<path d="M245.5 153.8L248.3 152.7L246.7 151.5L244.0 152.6Z" fill="#693887" stroke="#693887"/>
<path d="M175.0 116.6L178.4 115.2L177.0 111.9L173.6 113.3Z" fill="#368b93" stroke="#368b93"/>
<path d="M220.2 145.4L223.2 144.4L221.7 142.7L218.7 143.8Z" fill="#5c4c93" stroke="#5c4c93"/>
<path d="M148.0 88.9L151.7 86.2L150.2 81.1L146.6 83.8Z" fill="#55a764" stroke="#55a764"/>
<path d="M194.8 132.0L198.0 130.9L196.5 128.5L193.3 129.6Z" fill="#496a9a" stroke="#496a9a"/>
<path d="M239.6 152.4L242.4 151.3L240.9 150.0L238.0 151.1Z" fill="#663d8b" stroke="#663d8b"/>
<path d="M168.7 111.5L172.2 109.8L170.8 106.2L167.3 107.8Z" fill="#34958f" stroke="#34958f"/>
<path d="M214.2 143.1L217.3 142.0L215.8 140.3L212.8 141.3Z" fill="#585295" stroke="#585295"/>
<path d="M141.4 81.7L145.1 78.5L143.6 72.9L139.9 76.2Z" fill="#77af4b" stroke="#77af4b"/>
<path d="M188.7 128.3L191.9 127.1L190.5 124.5L187.3 125.7Z" fill="#447398" stroke="#447398"/>
<path d="M233.6 150.8L236.5 149.7L235.0 148.4L232.1 149.4Z" fill="#64418f" stroke="#64418f"/>
<path d="M162.4 105.9L165.9 104.0L164.5 100.0L161.0 101.9Z" fill="#33a08c" stroke="#33a08c"/>
<path d="M208.2 140.5L211.3 139.4L209.9 137.5L206.8 138.5Z" fill="#545897" stroke="#545897"/>
<path d="M253.0 156.2L255.8 155.0L254.2 153.9L251.5 155.0Z" fill="#6c3483" stroke="#6c3483"/>
<path d="M134.6 74.3L138.4 70.4L136.9 64.2L133.1 68.3Z" fill="#97b637" stroke="#97b637"/>
<path d="M182.5 124.2L185.9 122.9L184.5 120.1L181.1 121.3Z" fill="#3e7c96" stroke="#3e7c96"/>
<path d="M227.7 149.1L230.6 148.0L229.1 146.5L226.2 147.5Z" fill="#614690" stroke="#614690"/>
<path d="M156.0 100.0L159.6 97.8L158.1 93.4L154.6 95.6Z" fill="#38a782" stroke="#38a782"/>
<path d="M202.2 137.6L205.4 136.5L203.9 134.4L200.8 135.4Z" fill="#505f9a" stroke="#505f9a"/>
<path d="M247.1 155.0L249.9 153.9L248.3 152.7L245.5 153.8Z" fill="#6a3786" stroke="#6a3786"/>
<path d="M176.4 119.8L179.8 118.3L178.4 115.2L175.0 116.6Z" fill="#388694" stroke="#388694"/>
<path d="M221.7 147.1L224.7 146.0L223.2 144.4L220.2 145.4Z" fill="#5d4b92" stroke="#5d4b92"/>
<path d="M149.5 93.6L153.1 91.0L151.7 86.2L148.0 88.9Z" fill="#44a571" stroke="#44a571"/>
<path d="M196.2 134.4L199.4 133.2L198.0 130.9L194.8 132.0Z" fill="#4b679a" stroke="#4b679a"/>
<path d="M241.1 153.7L244.0 152.6L242.4 151.3L239.6 152.4Z" fill="#673c8a" stroke="#673c8a"/>
<path d="M170.1 115.0L173.6 113.3L172.2 109.8L168.7 111.5Z" fill="#359091" stroke="#359091"/>
<path d="M215.7 144.9L218.7 143.8L217.3 142.0L214.2 143.1Z" fill="#5a5094" stroke="#5a5094"/>
<path d="M142.9 87.0L146.6 83.8L145.1 78.5L141.4 81.7Z" fill="#62aa5a" stroke="#62aa5a"/>
<path d="M190.1 130.9L193.3 129.6L191.9 127.1L188.7 128.3Z" fill="#466f99" stroke="#466f99"/>
<path d="M235.2 152.2L238.0 151.1L236.5 149.7L233.6 150.8Z" fill="#64408e" stroke="#64408e"/>
<path d="M163.8 109.7L167.3 107.8L165.9 104.0L162.4 105.9Z" fill="#349a8e" stroke="#349a8e"/>
<path d="M209.7 142.4L212.8 141.3L211.3 139.4L208.2 140.5Z" fill="#565696" stroke="#565696"/>
<path d="M254.7 157.4L257.4 156.1L255.8 155.0L253.0 156.2Z" fill="#6c3382" stroke="#6c3382"/>
<path d="M136.2 80.0L139.9 76.2L138.4 70.4L134.6 74.3Z" fill="#83b143" stroke="#83b143"/>
<path d="M184.0 127.0L187.3 125.7L185.9 122.9L182.5 124.2Z" fill="#417897" stroke="#417897"/>
<path d="M229.2 150.6L232.1 149.4L230.6 148.0L227.7 149.1Z" fill="#624490" stroke="#624490"/>
<path d="M157.4 104.1L161.0 101.9L159.6 97.8L156.0 100.0Z" fill="#35a388" stroke="#35a388"/>
<path d="M203.7 139.7L206.8 138.5L205.4 136.5L202.2 137.6Z" fill="#525c98" stroke="#525c98"/>
<path d="M248.7 156.3L251.5 155.0L249.9 153.9L247.1 155.0Z" fill="#6a3685" stroke="#6a3685"/>
<path d="M177.8 122.8L181.1 121.3L179.8 118.3L176.4 119.8Z" fill="#3b8195" stroke="#3b8195"/>
<path d="M223.2 148.7L226.2 147.5L224.7 146.0L221.7 147.1Z" fill="#5f4991" stroke="#5f4991"/>
<path d="M150.9 98.2L154.6 95.6L153.1 91.0L149.5 93.6Z" fill="#3ca77c" stroke="#3ca77c"/>
<path d="M197.6 136.7L200.8 135.4L199.4 133.2L196.2 134.4Z" fill="#4d639b" stroke="#4d639b"/>
<path d="M242.7 155.0L245.5 153.8L244.0 152.6L241.1 153.7Z" fill="#683a89" stroke="#683a89"/>
<path d="M171.5 118.3L175.0 116.6L173.6 113.3L170.1 115.0Z" fill="#368b93" stroke="#368b93"/>
<path d="M217.2 146.6L220.2 145.4L218.7 143.8L215.7 144.9Z" fill="#5b4e93" stroke="#5b4e93"/>
<path d="M144.3 91.9L148.0 88.9L146.6 83.8L142.9 87.0Z" fill="#4ea668" stroke="#4ea668"/>
<path d="M191.5 133.3L194.8 132.0L193.3 129.6L190.1 130.9Z" fill="#486b99" stroke="#486b99"/>
<path d="M236.7 153.6L239.6 152.4L238.0 151.1L235.2 152.2Z" fill="#653f8d" stroke="#653f8d"/>
<path d="M165.2 113.4L168.7 111.5L167.3 107.8L163.8 109.7Z" fill="#359590" stroke="#359590"/>
<path d="M211.2 144.3L214.2 143.1L212.8 141.3L209.7 142.4Z" fill="#585395" stroke="#585395"/>
<path d="M256.3 158.5L259.0 157.2L257.4 156.1L254.7 157.4Z" fill="#6d3281" stroke="#6d3281"/>
<path d="M137.7 85.4L141.4 81.7L139.9 76.2L136.2 80.0Z" fill="#6dad52" stroke="#6dad52"/>
<path d="M185.4 129.7L188.7 128.3L187.3 125.7L184.0 127.0Z" fill="#437398" stroke="#437398"/>
<path d="M230.7 152.0L233.6 150.8L232.1 149.4L229.2 150.6Z" fill="#63438f" stroke="#63438f"/>
<path d="M158.8 108.1L162.4 105.9L161.0 101.9L157.4 104.1Z" fill="#339f8c" stroke="#339f8c"/>
<path d="M205.1 141.7L208.2 140.5L206.8 138.5L203.7 139.7Z" fill="#545997" stroke="#545997"/>
<path d="M250.3 157.5L253.0 156.2L251.5 155.0L248.7 156.3Z" fill="#6b3584" stroke="#6b3584"/>
<path d="M130.9 78.7L134.6 74.3L133.1 68.3L129.3 72.8Z" fill="#8cb33d" stroke="#8cb33d"/>
<path d="M179.2 125.8L182.5 124.2L181.1 121.3L177.8 122.8Z" fill="#3e7c96" stroke="#3e7c96"/>
<path d="M224.7 150.3L227.7 149.1L226.2 147.5L223.2 148.7Z" fill="#604791" stroke="#604791"/>
<path d="M152.4 102.5L156.0 100.0L154.6 95.6L150.9 98.2Z" fill="#37a684" stroke="#37a684"/>
<path d="M199.0 138.8L202.2 137.6L200.8 135.4L197.6 136.7Z" fill="#4f609a" stroke="#4f609a"/>
<path d="M244.3 156.3L247.1 155.0L245.5 153.8L242.7 155.0Z" fill="#693987" stroke="#693987"/>
<path d="M172.9 121.5L176.4 119.8L175.0 116.6L171.5 118.3Z" fill="#388694" stroke="#388694"/>
<path d="M218.7 148.3L221.7 147.1L220.2 145.4L217.2 146.6Z" fill="#5d4c92" stroke="#5d4c92"/>
<path d="M145.8 96.6L149.5 93.6L148.0 88.9L144.3 91.9Z" fill="#41a675" stroke="#41a675"/>
<path d="M192.9 135.7L196.2 134.4L194.8 132.0L191.5 133.3Z" fill="#4a679a" stroke="#4a679a"/>
<path d="M238.2 155.0L241.1 153.7L239.6 152.4L236.7 153.6Z" fill="#663d8b" stroke="#663d8b"/>
<path d="M166.6 116.9L170.1 115.0L168.7 111.5L165.2 113.4Z" fill="#359091" stroke="#359091"/>
<path d="M212.6 146.1L215.7 144.9L214.2 143.1L211.2 144.3Z" fill="#595194" stroke="#595194"/>
<path d="M139.1 90.5L142.9 87.0L141.4 81.7L137.7 85.4Z" fill="#59a861" stroke="#59a861"/>
<path d="M186.8 132.3L190.1 130.9L188.7 128.3L185.4 129.7Z" fill="#466f99" stroke="#466f99"/>
<path d="M232.2 153.5L235.2 152.2L233.6 150.8L230.7 152.0Z" fill="#64428f" stroke="#64428f"/>
<path d="M160.3 111.9L163.8 109.7L162.4 105.9L158.8 108.1Z" fill="#34998e" stroke="#34998e"/>
<path d="M206.6 143.6L209.7 142.4L208.2 140.5L205.1 141.7Z" fill="#555796" stroke="#555796"/>
<path d="M251.9 158.7L254.7 157.4L253.0 156.2L250.3 157.5Z" fill="#6b3483" stroke="#6b3483"/>
<path d="M132.4 84.2L136.2 80.0L134.6 74.3L130.9 78.7Z" fill="#77af4b" stroke="#77af4b"/>
<path d="M180.6 128.6L184.0 127.0L182.5 124.2L179.2 125.8Z" fill="#417897" stroke="#417897"/>
<path d="M226.2 151.8L229.2 150.6L227.7 149.1L224.7 150.3Z" fill="#614690" stroke="#614690"/>
<path d="M153.8 106.7L157.4 104.1L156.0 100.0L152.4 102.5Z" fill="#34a28a" stroke="#34a28a"/>
<path d="M200.5 141.0L203.7 139.7L202.2 137.6L199.0 138.8Z" fill="#515d99" stroke="#515d99"/>
<path d="M245.8 157.6L248.7 156.3L247.1 155.0L244.3 156.3Z" fill="#693886" stroke="#693886"/>
<path d="M174.3 124.5L177.8 122.8L176.4 119.8L172.9 121.5Z" fill="#3b8195" stroke="#3b8195"/>
<path d="M220.2 149.9L223.2 148.7L221.7 147.1L218.7 148.3Z" fill="#5e4a92" stroke="#5e4a92"/>
<path d="M147.3 101.1L150.9 98.2L149.5 93.6L145.8 96.6Z" fill="#39a880" stroke="#39a880"/>
<path d="M194.4 138.0L197.6 136.7L196.2 134.4L192.9 135.7Z" fill="#4c649b" stroke="#4c649b"/>
<path d="M239.8 156.3L242.7 155.0L241.1 153.7L238.2 155.0Z" fill="#673c8a" stroke="#673c8a"/>
<path d="M168.0 120.2L171.5 118.3L170.1 115.0L166.6 116.9Z" fill="#368b93" stroke="#368b93"/>
<path d="M214.1 147.9L217.2 146.6L215.7 144.9L212.6 146.1Z" fill="#5b4f94" stroke="#5b4f94"/>
<path d="M140.6 95.4L144.3 91.9L142.9 87.0L139.1 90.5Z" fill="#46a46e" stroke="#46a46e"/>
<path d="M188.2 134.8L191.5 133.3L190.1 130.9L186.8 132.3Z" fill="#486c99" stroke="#486c99"/>
<path d="M233.8 154.9L236.7 153.6L235.2 152.2L232.2 153.5Z" fill="#64408e" stroke="#64408e"/>
<path d="M161.7 115.5L165.2 113.4L163.8 109.7L160.3 111.9Z" fill="#359490" stroke="#359490"/>
<path d="M208.0 145.6L211.2 144.3L209.7 142.4L206.6 143.6Z" fill="#575496" stroke="#575496"/>
<path d="M253.5 159.8L256.3 158.5L254.7 157.4L251.9 158.7Z" fill="#6c3382" stroke="#6c3382"/>
<path d="M133.9 89.4L137.7 85.4L136.2 80.0L132.4 84.2Z" fill="#62aa5a" stroke="#62aa5a"/>
<path d="M182.0 131.3L185.4 129.7L184.0 127.0L180.6 128.6Z" fill="#437498" stroke="#437498"/>
<path d="M227.7 153.3L230.7 152.0L229.2 150.6L226.2 151.8Z" fill="#62448f" stroke="#62448f"/>
<path d="M155.2 110.6L158.8 108.1L157.4 104.1L153.8 106.7Z" fill="#349d8d" stroke="#349d8d"/>
<path d="M201.9 143.0L205.1 141.7L203.7 139.7L200.5 141.0Z" fill="#535a98" stroke="#535a98"/>
<path d="M247.4 158.8L250.3 157.5L248.7 156.3L245.8 157.6Z" fill="#6a3785" stroke="#6a3785"/>
<path d="M127.1 83.5L130.9 78.7L129.3 72.8L125.5 77.8Z" fill="#7fb146" stroke="#7fb146"/>
<path d="M175.8 127.5L179.2 125.8L177.8 122.8L174.3 124.5Z" fill="#3e7c96" stroke="#3e7c96"/>
<path d="M221.7 151.5L224.7 150.3L223.2 148.7L220.2 149.9Z" fill="#5f4891" stroke="#5f4891"/>
<path d="M148.7 105.4L152.4 102.5L150.9 98.2L147.3 101.1Z" fill="#36a586" stroke="#36a586"/>
<path d="M195.8 140.2L199.0 138.8L197.6 136.7L194.4 138.0Z" fill="#4f619a" stroke="#4f619a"/>
<path d="M241.4 157.6L244.3 156.3L242.7 155.0L239.8 156.3Z" fill="#683a89" stroke="#683a89"/>
<path d="M169.5 123.4L172.9 121.5L171.5 118.3L168.0 120.2Z" fill="#388694" stroke="#388694"/>
<path d="M215.6 149.6L218.7 148.3L217.2 146.6L214.1 147.9Z" fill="#5c4d93" stroke="#5c4d93"/>
<path d="M142.1 100.0L145.8 96.6L144.3 91.9L140.6 95.4Z" fill="#3ea77a" stroke="#3ea77a"/>
<path d="M189.6 137.2L192.9 135.7L191.5 133.3L188.2 134.8Z" fill="#4a689a" stroke="#4a689a"/>
<path d="M235.3 156.3L238.2 155.0L236.7 153.6L233.8 154.9Z" fill="#653f8d" stroke="#653f8d"/>
<path d="M163.1 119.0L166.6 116.9L165.2 113.4L161.7 115.5Z" fill="#358f92" stroke="#358f92"/>
<path d="M209.5 147.4L212.6 146.1L211.2 144.3L208.0 145.6Z" fill="#585295" stroke="#585295"/>
<path d="M135.4 94.4L139.1 90.5L137.7 85.4L133.9 89.4Z" fill="#4ea668" stroke="#4ea668"/>
<path d="M183.4 133.9L186.8 132.3L185.4 129.7L182.0 131.3Z" fill="#467098" stroke="#467098"/>
<path d="M229.3 154.8L232.2 153.5L230.7 152.0L227.7 153.3Z" fill="#63438f" stroke="#63438f"/>
<path d="M156.7 114.4L160.3 111.9L158.8 108.1L155.2 110.6Z" fill="#34988f" stroke="#34988f"/>
<path d="M203.4 145.0L206.6 143.6L205.1 141.7L201.9 143.0Z" fill="#555897" stroke="#555897"/>
<path d="M249.0 160.0L251.9 158.7L250.3 157.5L247.4 158.8Z" fill="#6b3684" stroke="#6b3684"/>
<path d="M128.6 88.8L132.4 84.2L130.9 78.7L127.1 83.5Z" fill="#69ac55" stroke="#69ac55"/>
<path d="M177.2 130.3L180.6 128.6L179.2 125.8L175.8 127.5Z" fill="#417897" stroke="#417897"/>
<path d="M223.2 153.1L226.2 151.8L224.7 150.3L221.7 151.5Z" fill="#604790" stroke="#604790"/>
<path d="M150.1 109.5L153.8 106.7L152.4 102.5L148.7 105.4Z" fill="#33a18b" stroke="#33a18b"/>
<path d="M197.2 142.4L200.5 141.0L199.0 138.8L195.8 140.2Z" fill="#515e99" stroke="#515e99"/>
<path d="M243.0 158.9L245.8 157.6L244.3 156.3L241.4 157.6Z" fill="#683988" stroke="#683988"/>
<path d="M170.9 126.4L174.3 124.5L172.9 121.5L169.5 123.4Z" fill="#3b8195" stroke="#3b8195"/>
<path d="M217.1 151.3L220.2 149.9L218.7 148.3L215.6 149.6Z" fill="#5d4b92" stroke="#5d4b92"/>
<path d="M143.6 104.4L147.3 101.1L145.8 96.6L142.1 100.0Z" fill="#38a683" stroke="#38a683"/>
<path d="M191.1 139.5L194.4 138.0L192.9 135.7L189.6 137.2Z" fill="#4c659b" stroke="#4c659b"/>
<path d="M236.9 157.6L239.8 156.3L238.2 155.0L235.3 156.3Z" fill="#663d8b" stroke="#663d8b"/>
<path d="M164.5 122.3L168.0 120.2L166.6 116.9L163.1 119.0Z" fill="#368a93" stroke="#368a93"/>
<path d="M211.0 149.2L214.1 147.9L212.6 146.1L209.5 147.4Z" fill="#5a5094" stroke="#5a5094"/>
<path d="M136.9 99.2L140.6 95.4L139.1 90.5L135.4 94.4Z" fill="#42a675" stroke="#42a675"/>
<path d="M184.9 136.4L188.2 134.8L186.8 132.3L183.4 133.9Z" fill="#486c99" stroke="#486c99"/>
<path d="M230.8 156.2L233.8 154.9L232.2 153.5L229.3 154.8Z" fill="#64418e" stroke="#64418e"/>
<path d="M158.1 117.9L161.7 115.5L160.3 111.9L156.7 114.4Z" fill="#359390" stroke="#359390"/>
<path d="M204.9 147.0L208.0 145.6L206.6 143.6L203.4 145.0Z" fill="#565596" stroke="#565596"/>
<path d="M250.7 161.2L253.5 159.8L251.9 158.7L249.0 160.0Z" fill="#6b3583" stroke="#6b3583"/>
<path d="M130.1 93.9L133.9 89.4L132.4 84.2L128.6 88.8Z" fill="#55a763" stroke="#55a763"/>
<path d="M178.6 133.0L182.0 131.3L180.6 128.6L177.2 130.3Z" fill="#437498" stroke="#437498"/>
<path d="M224.7 154.7L227.7 153.3L226.2 151.8L223.2 153.1Z" fill="#614590" stroke="#614590"/>
<path d="M151.6 113.4L155.2 110.6L153.8 106.7L150.1 109.5Z" fill="#349b8d" stroke="#349b8d"/>
<path d="M198.7 144.5L201.9 143.0L200.5 141.0L197.2 142.4Z" fill="#525b98" stroke="#525b98"/>
<path d="M244.6 160.2L247.4 158.8L245.8 157.6L243.0 158.9Z" fill="#693887" stroke="#693887"/>
<path d="M123.3 88.8L127.1 83.5L125.5 77.8L121.8 83.3Z" fill="#6ead51" stroke="#6ead51"/>
<path d="M172.3 129.4L175.8 127.5L174.3 124.5L170.9 126.4Z" fill="#3e7c96" stroke="#3e7c96"/>
<path d="M218.6 152.9L221.7 151.5L220.2 149.9L217.1 151.3Z" fill="#5e4991" stroke="#5e4991"/>
<path d="M145.0 108.6L148.7 105.4L147.3 101.1L143.6 104.4Z" fill="#35a388" stroke="#35a388"/>
<path d="M192.5 141.8L195.8 140.2L194.4 138.0L191.1 139.5Z" fill="#4e629a" stroke="#4e629a"/>
<path d="M238.5 159.0L241.4 157.6L239.8 156.3L236.9 157.6Z" fill="#673c8a" stroke="#673c8a"/>
<path d="M165.9 125.5L169.5 123.4L168.0 120.2L164.5 122.3Z" fill="#398594" stroke="#398594"/>
<path d="M212.5 151.0L215.6 149.6L214.1 147.9L211.0 149.2Z" fill="#5b4e93" stroke="#5b4e93"/>
<path d="M138.4 103.7L142.1 100.0L140.6 95.4L136.9 99.2Z" fill="#3aa880" stroke="#3aa880"/>
<path d="M186.3 138.8L189.6 137.2L188.2 134.8L184.9 136.4Z" fill="#4a689a" stroke="#4a689a"/>
<path d="M232.4 157.7L235.3 156.3L233.8 154.9L230.8 156.2Z" fill="#64408e" stroke="#64408e"/>
<path d="M159.5 121.4L163.1 119.0L161.7 115.5L158.1 117.9Z" fill="#358d92" stroke="#358d92"/>
<path d="M206.3 148.8L209.5 147.4L208.0 145.6L204.9 147.0Z" fill="#585395" stroke="#585395"/>
<path d="M131.6 98.8L135.4 94.4L133.9 89.4L130.1 93.9Z" fill="#45a570" stroke="#45a570"/>
<path d="M180.0 135.6L183.4 133.9L182.0 131.3L178.6 133.0Z" fill="#467098" stroke="#467098"/>
<path d="M226.2 156.2L229.3 154.8L227.7 153.3L224.7 154.7Z" fill="#62448f" stroke="#62448f"/>
<path d="M153.0 117.1L156.7 114.4L155.2 110.6L151.6 113.4Z" fill="#34968f" stroke="#34968f"/>
<path d="M200.2 146.5L203.4 145.0L201.9 143.0L198.7 144.5Z" fill="#545897" stroke="#545897"/>
<path d="M246.2 161.5L249.0 160.0L247.4 158.8L244.6 160.2Z" fill="#6a3786" stroke="#6a3786"/>
<path d="M124.8 93.9L128.6 88.8L127.1 83.5L123.3 88.8Z" fill="#5aa860" stroke="#5aa860"/>
<path d="M173.7 132.2L177.2 130.3L175.8 127.5L172.3 129.4Z" fill="#417797" stroke="#417797"/>
<path d="M220.1 154.5L223.2 153.1L221.7 151.5L218.6 152.9Z" fill="#5f4891" stroke="#5f4891"/>
<path d="M146.5 112.6L150.1 109.5L148.7 105.4L145.0 108.6Z" fill="#339f8c" stroke="#339f8c"/>
<path d="M194.0 143.9L197.2 142.4L195.8 140.2L192.5 141.8Z" fill="#505f99" stroke="#505f99"/>
<path d="M240.1 160.3L243.0 158.9L241.4 157.6L238.5 159.0Z" fill="#683a89" stroke="#683a89"/>
<path d="M167.4 128.6L170.9 126.4L169.5 123.4L165.9 125.5Z" fill="#3c8095" stroke="#3c8095"/>
<path d="M214.0 152.7L217.1 151.3L215.6 149.6L212.5 151.0Z" fill="#5d4c92" stroke="#5d4c92"/>
<path d="M139.8 108.0L143.6 104.4L142.1 100.0L138.4 103.7Z" fill="#36a586" stroke="#36a586"/>
<path d="M187.7 141.2L191.1 139.5L189.6 137.2L186.3 138.8Z" fill="#4c659b" stroke="#4c659b"/>
<path d="M233.9 159.1L236.9 157.6L235.3 156.3L232.4 157.7Z" fill="#653e8d" stroke="#653e8d"/>
<path d="M160.9 124.7L164.5 122.3L163.1 119.0L159.5 121.4Z" fill="#378994" stroke="#378994"/>
<path d="M207.8 150.7L211.0 149.2L209.5 147.4L206.3 148.8Z" fill="#595194" stroke="#595194"/>
<path d="M133.1 103.4L136.9 99.2L135.4 94.4L131.6 98.8Z" fill="#3ca77c" stroke="#3ca77c"/>
<path d="M181.5 138.2L184.9 136.4L183.4 133.9L180.0 135.6Z" fill="#486c99" stroke="#486c99"/>
<path d="M227.8 157.7L230.8 156.2L229.3 154.8L226.2 156.2Z" fill="#63428f" stroke="#63428f"/>
<path d="M154.5 120.6L158.1 117.9L156.7 114.4L153.0 117.1Z" fill="#359191" stroke="#359191"/>
<path d="M201.6 148.5L204.9 147.0L203.4 145.0L200.2 146.5Z" fill="#565696" stroke="#565696"/>
<path d="M247.8 162.7L250.7 161.2L249.0 160.0L246.2 161.5Z" fill="#6a3685" stroke="#6a3685"/>
<path d="M126.4 98.8L130.1 93.9L128.6 88.8L124.8 93.9Z" fill="#47a46d" stroke="#47a46d"/>
<path d="M175.1 134.9L178.6 133.0L177.2 130.3L173.7 132.2Z" fill="#437398" stroke="#437398"/>
<path d="M221.6 156.1L224.7 154.7L223.2 153.1L220.1 154.5Z" fill="#614690" stroke="#614690"/>
<path d="M147.9 116.4L151.6 113.4L150.1 109.5L146.5 112.6Z" fill="#34998e" stroke="#34998e"/>
<path d="M195.4 146.1L198.7 144.5L197.2 142.4L194.0 143.9Z" fill="#525c98" stroke="#525c98"/>
<path d="M241.6 161.6L244.6 160.2L243.0 158.9L240.1 160.3Z" fill="#683988" stroke="#683988"/>
<path d="M119.5 94.5L123.3 88.8L121.8 83.3L118.0 89.3Z" fill="#5ca95e" stroke="#5ca95e"/>
<path d="M168.8 131.5L172.3 129.4L170.9 126.4L167.4 128.6Z" fill="#3f7b96" stroke="#3f7b96"/>
<path d="M215.5 154.4L218.6 152.9L217.1 151.3L214.0 152.7Z" fill="#5e4a92" stroke="#5e4a92"/>
<path d="M141.3 112.1L145.0 108.6L143.6 104.4L139.8 108.0Z" fill="#33a18b" stroke="#33a18b"/>
<path d="M189.2 143.4L192.5 141.8L191.1 139.5L187.7 141.2Z" fill="#4e629a" stroke="#4e629a"/>
<path d="M235.5 160.4L238.5 159.0L236.9 157.6L233.9 159.1Z" fill="#663d8b" stroke="#663d8b"/>
<path d="M162.4 127.8L165.9 125.5L164.5 122.3L160.9 124.7Z" fill="#3a8395" stroke="#3a8395"/>
<path d="M209.3 152.5L212.5 151.0L211.0 149.2L207.8 150.7Z" fill="#5b4f93" stroke="#5b4f93"/>
<path d="M134.6 107.7L138.4 103.7L136.9 99.2L133.1 103.4Z" fill="#37a684" stroke="#37a684"/>
<path d="M182.9 140.6L186.3 138.8L184.9 136.4L181.5 138.2Z" fill="#4a689a" stroke="#4a689a"/>
<path d="M229.4 159.1L232.4 157.7L230.8 156.2L227.8 157.7Z" fill="#64418e" stroke="#64418e"/>
<path d="M155.9 124.0L159.5 121.4L158.1 117.9L154.5 120.6Z" fill="#368c93" stroke="#368c93"/>
<path d="M203.1 150.4L206.3 148.8L204.9 147.0L201.6 148.5Z" fill="#575495" stroke="#575495"/>
<path d="M127.9 103.5L131.6 98.8L130.1 93.9L126.4 98.8Z" fill="#3ea779" stroke="#3ea779"/>
<path d="M176.6 137.6L180.0 135.6L178.6 133.0L175.1 134.9Z" fill="#466f99" stroke="#466f99"/>
<path d="M223.2 157.6L226.2 156.2L224.7 154.7L221.6 156.1Z" fill="#624490" stroke="#624490"/>
<path d="M149.4 120.0L153.0 117.1L151.6 113.4L147.9 116.4Z" fill="#359490" stroke="#359490"/>
<path d="M196.9 148.1L200.2 146.5L198.7 144.5L195.4 146.1Z" fill="#545997" stroke="#545997"/>
<path d="M243.3 162.9L246.2 161.5L244.6 160.2L241.6 161.6Z" fill="#693887" stroke="#693887"/>
<path d="M121.1 99.4L124.8 93.9L123.3 88.8L119.5 94.5Z" fill="#49a56c" stroke="#49a56c"/>
<path d="M170.2 134.3L173.7 132.2L172.3 129.4L168.8 131.5Z" fill="#417797" stroke="#417797"/>
<path d="M217.0 156.0L220.1 154.5L218.6 152.9L215.5 154.4Z" fill="#5f4891" stroke="#5f4891"/>
<path d="M142.8 116.0L146.5 112.6L145.0 108.6L141.3 112.1Z" fill="#349c8d" stroke="#349c8d"/>
<path d="M190.6 145.6L194.0 143.9L192.5 141.8L189.2 143.4Z" fill="#505f99" stroke="#505f99"/>
<path d="M237.1 161.8L240.1 160.3L238.5 159.0L235.5 160.4Z" fill="#673c8a" stroke="#673c8a"/>
<path d="M163.8 130.9L167.4 128.6L165.9 125.5L162.4 127.8Z" fill="#3d7f96" stroke="#3d7f96"/>
<path d="M210.8 154.2L214.0 152.7L212.5 151.0L209.3 152.5Z" fill="#5c4d93" stroke="#5c4d93"/>
<path d="M136.1 111.9L139.8 108.0L138.4 103.7L134.6 107.7Z" fill="#34a38a" stroke="#34a38a"/>
<path d="M184.3 143.0L187.7 141.2L186.3 138.8L182.9 140.6Z" fill="#4c659b" stroke="#4c659b"/>
<path d="M230.9 160.6L233.9 159.1L232.4 157.7L229.4 159.1Z" fill="#65408e" stroke="#65408e"/>
<path d="M157.3 127.3L160.9 124.7L159.5 121.4L155.9 124.0Z" fill="#388794" stroke="#388794"/>
<path d="M204.6 152.3L207.8 150.7L206.3 148.8L203.1 150.4Z" fill="#595194" stroke="#595194"/>
<path d="M129.4 107.9L133.1 103.4L131.6 98.8L127.9 103.5Z" fill="#38a782" stroke="#38a782"/>
<path d="M178.0 140.1L181.5 138.2L180.0 135.6L176.6 137.6Z" fill="#486c99" stroke="#486c99"/>
<path d="M224.7 159.2L227.8 157.7L226.2 156.2L223.2 157.6Z" fill="#63438f" stroke="#63438f"/>
<path d="M150.8 123.5L154.5 120.6L153.0 117.1L149.4 120.0Z" fill="#358f92" stroke="#358f92"/>
<path d="M198.4 150.1L201.6 148.5L200.2 146.5L196.9 148.1Z" fill="#565696" stroke="#565696"/>
<path d="M244.9 164.2L247.8 162.7L246.2 161.5L243.3 162.9Z" fill="#6a3786" stroke="#6a3786"/>
<path d="M122.6 104.1L126.4 98.8L124.8 93.9L121.1 99.4Z" fill="#3fa678" stroke="#3fa678"/>
<path d="M171.7 137.0L175.1 134.9L173.7 132.2L170.2 134.3Z" fill="#447398" stroke="#447398"/>
<path d="M218.5 157.6L221.6 156.1L220.1 154.5L217.0 156.0Z" fill="#604790" stroke="#604790"/>
<path d="M144.2 119.7L147.9 116.4L146.5 112.6L142.8 116.0Z" fill="#34968f" stroke="#34968f"/>
<path d="M192.1 147.8L195.4 146.1L194.0 143.9L190.6 145.6Z" fill="#525c98" stroke="#525c98"/>
<path d="M238.7 163.2L241.6 161.6L240.1 160.3L237.1 161.8Z" fill="#683a89" stroke="#683a89"/>
<path d="M115.8 100.7L119.5 94.5L118.0 89.3L114.2 95.8Z" fill="#48a46d" stroke="#48a46d"/>
<path d="M165.2 133.8L168.8 131.5L167.4 128.6L163.8 130.9Z" fill="#3f7a96" stroke="#3f7a96"/>
<path d="M212.3 155.9L215.5 154.4L214.0 152.7L210.8 154.2Z" fill="#5d4b92" stroke="#5d4b92"/>
<path d="M137.6 115.9L141.3 112.1L139.8 108.0L136.1 111.9Z" fill="#349e8d" stroke="#349e8d"/>
<path d="M185.8 145.3L189.2 143.4L187.7 141.2L184.3 143.0Z" fill="#4e629a" stroke="#4e629a"/>
<path d="M232.5 162.0L235.5 160.4L233.9 159.1L230.9 160.6Z" fill="#663e8c" stroke="#663e8c"/>
<path d="M158.8 130.4L162.4 127.8L160.9 124.7L157.3 127.3Z" fill="#3b8295" stroke="#3b8295"/>
<path d="M206.1 154.1L209.3 152.5L207.8 150.7L204.6 152.3Z" fill="#5a4f94" stroke="#5a4f94"/>
<path d="M130.9 112.1L134.6 107.7L133.1 103.4L129.4 107.9Z" fill="#35a388" stroke="#35a388"/>
<path d="M179.5 142.5L182.9 140.6L181.5 138.2L178.0 140.1Z" fill="#4a689a" stroke="#4a689a"/>
<path d="M226.3 160.7L229.4 159.1L227.8 157.7L224.7 159.2Z" fill="#63428f" stroke="#63428f"/>
<path d="M152.2 126.9L155.9 124.0L154.5 120.6L150.8 123.5Z" fill="#368a93" stroke="#368a93"/>
<path d="M199.8 152.0L203.1 150.4L201.6 148.5L198.4 150.1Z" fill="#575495" stroke="#575495"/>
<path d="M124.1 108.6L127.9 103.5L126.4 98.8L122.6 104.1Z" fill="#39a782" stroke="#39a782"/>
<path d="M173.1 139.7L176.6 137.6L175.1 134.9L171.7 137.0Z" fill="#466f99" stroke="#466f99"/>
<path d="M220.1 159.2L223.2 157.6L221.6 156.1L218.5 157.6Z" fill="#614590" stroke="#614590"/>
<path d="M145.7 123.3L149.4 120.0L147.9 116.4L144.2 119.7Z" fill="#359191" stroke="#359191"/>
<path d="M193.6 149.8L196.9 148.1L195.4 146.1L192.1 147.8Z" fill="#545997" stroke="#545997"/>
<path d="M240.3 164.5L243.3 162.9L241.6 161.6L238.7 163.2Z" fill="#693988" stroke="#693988"/>
<path d="M117.3 105.3L121.1 99.4L119.5 94.5L115.8 100.7Z" fill="#3fa678" stroke="#3fa678"/>
<path d="M166.7 136.6L170.2 134.3L168.8 131.5L165.2 133.8Z" fill="#427697" stroke="#427697"/>
<path d="M213.9 157.6L217.0 156.0L215.5 154.4L212.3 155.9Z" fill="#5f4991" stroke="#5f4991"/>
<path d="M139.0 119.7L142.8 116.0L141.3 112.1L137.6 115.9Z" fill="#34988f" stroke="#34988f"/>
<path d="M187.3 147.5L190.6 145.6L189.2 143.4L185.8 145.3Z" fill="#505f99" stroke="#505f99"/>
<path d="M234.1 163.4L237.1 161.8L235.5 160.4L232.5 162.0Z" fill="#673d8b" stroke="#673d8b"/>
<path d="M160.2 133.4L163.8 130.9L162.4 127.8L158.8 130.4Z" fill="#3e7d96" stroke="#3e7d96"/>
<path d="M207.6 155.9L210.8 154.2L209.3 152.5L206.1 154.1Z" fill="#5c4d93" stroke="#5c4d93"/>
<path d="M132.3 116.2L136.1 111.9L134.6 107.7L130.9 112.1Z" fill="#339f8c" stroke="#339f8c"/>
<path d="M180.9 144.9L184.3 143.0L182.9 140.6L179.5 142.5Z" fill="#4c659b" stroke="#4c659b"/>
<path d="M227.9 162.1L230.9 160.6L229.4 159.1L226.3 160.7Z" fill="#64408e" stroke="#64408e"/>
<path d="M153.7 130.1L157.3 127.3L155.9 124.0L152.2 126.9Z" fill="#398494" stroke="#398494"/>
<path d="M201.3 153.9L204.6 152.3L203.1 150.4L199.8 152.0Z" fill="#595295" stroke="#595295"/>
<path d="M125.6 112.8L129.4 107.9L127.9 103.5L124.1 108.6Z" fill="#35a488" stroke="#35a488"/>
<path d="M174.5 142.2L178.0 140.1L176.6 137.6L173.1 139.7Z" fill="#486b99" stroke="#486b99"/>
<path d="M221.6 160.8L224.7 159.2L223.2 157.6L220.1 159.2Z" fill="#62448f" stroke="#62448f"/>
<path d="M147.1 126.7L150.8 123.5L149.4 120.0L145.7 123.3Z" fill="#368c93" stroke="#368c93"/>
<path d="M195.0 151.9L198.4 150.1L196.9 148.1L193.6 149.8Z" fill="#555796" stroke="#555796"/>
<path d="M241.9 165.8L244.9 164.2L243.3 162.9L240.3 164.5Z" fill="#693886" stroke="#693886"/>
<path d="M118.8 109.8L122.6 104.1L121.1 99.4L117.3 105.3Z" fill="#38a782" stroke="#38a782"/>
<path d="M168.1 139.3L171.7 137.0L170.2 134.3L166.7 136.6Z" fill="#447298" stroke="#447298"/>
<path d="M215.4 159.2L218.5 157.6L217.0 156.0L213.9 157.6Z" fill="#604791" stroke="#604791"/>
<path d="M140.5 123.3L144.2 119.7L142.8 116.0L139.0 119.7Z" fill="#359390" stroke="#359390"/>
<path d="M188.7 149.6L192.1 147.8L190.6 145.6L187.3 147.5Z" fill="#525c98" stroke="#525c98"/>
<path d="M235.7 164.7L238.7 163.2L237.1 161.8L234.1 163.4Z" fill="#673b8a" stroke="#673b8a"/>
<path d="M161.6 136.3L165.2 133.8L163.8 130.9L160.2 133.4Z" fill="#407897" stroke="#407897"/>
<path d="M209.1 157.6L212.3 155.9L210.8 154.2L207.6 155.9Z" fill="#5d4b92" stroke="#5d4b92"/>
<path d="M133.8 120.0L137.6 115.9L136.1 111.9L132.3 116.2Z" fill="#34998e" stroke="#34998e"/>
<path d="M182.4 147.2L185.8 145.3L184.3 143.0L180.9 144.9Z" fill="#4e629a" stroke="#4e629a"/>
<path d="M229.4 163.6L232.5 162.0L230.9 160.6L227.9 162.1Z" fill="#653f8d" stroke="#653f8d"/>
<path d="M155.1 133.2L158.8 130.4L157.3 127.3L153.7 130.1Z" fill="#3c8095" stroke="#3c8095"/>
<path d="M202.8 155.8L206.1 154.1L204.6 152.3L201.3 153.9Z" fill="#5a5094" stroke="#5a5094"/>
<path d="M127.1 116.9L130.9 112.1L129.4 107.9L125.6 112.8Z" fill="#33a08c" stroke="#33a08c"/>
<path d="M176.0 144.6L179.5 142.5L178.0 140.1L174.5 142.2Z" fill="#4b679a" stroke="#4b679a"/>
<path d="M223.2 162.3L226.3 160.7L224.7 159.2L221.6 160.8Z" fill="#63428f" stroke="#63428f"/>
<path d="M148.6 130.0L152.2 126.9L150.8 123.5L147.1 126.7Z" fill="#388794" stroke="#388794"/>
<path d="M196.5 153.8L199.8 152.0L198.4 150.1L195.0 151.9Z" fill="#575495" stroke="#575495"/>
<path d="M120.3 114.0L124.1 108.6L122.6 104.1L118.8 109.8Z" fill="#35a488" stroke="#35a488"/>
<path d="M169.6 141.9L173.1 139.7L171.7 137.0L168.1 139.3Z" fill="#476e99" stroke="#476e99"/>
<path d="M216.9 160.8L220.1 159.2L218.5 157.6L215.4 159.2Z" fill="#614690" stroke="#614690"/>
<path d="M141.9 126.8L145.7 123.3L144.2 119.7L140.5 123.3Z" fill="#358e92" stroke="#358e92"/>
<path d="M190.2 151.7L193.6 149.8L192.1 147.8L188.7 149.6Z" fill="#545997" stroke="#545997"/>
<path d="M237.3 166.1L240.3 164.5L238.7 163.2L235.7 164.7Z" fill="#683a88" stroke="#683a88"/>
<path d="M163.1 139.1L166.7 136.6L165.2 133.8L161.6 136.3Z" fill="#437498" stroke="#437498"/>
<path d="M210.6 159.3L213.9 157.6L212.3 155.9L209.1 157.6Z" fill="#5e4991" stroke="#5e4991"/>
<path d="M135.3 123.7L139.0 119.7L137.6 115.9L133.8 120.0Z" fill="#359490" stroke="#359490"/>
<path d="M183.8 149.4L187.3 147.5L185.8 145.3L182.4 147.2Z" fill="#505e99" stroke="#505e99"/>
<path d="M231.0 165.0L234.1 163.4L232.5 162.0L229.4 163.6Z" fill="#663d8c" stroke="#663d8c"/>
<path d="M156.6 136.1L160.2 133.4L158.8 130.4L155.1 133.2Z" fill="#3f7b96" stroke="#3f7b96"/>
<path d="M204.3 157.6L207.6 155.9L206.1 154.1L202.8 155.8Z" fill="#5c4d93" stroke="#5c4d93"/>
<path d="M128.5 120.7L132.3 116.2L130.9 112.1L127.1 116.9Z" fill="#349a8e" stroke="#349a8e"/>
<path d="M177.4 147.0L180.9 144.9L179.5 142.5L176.0 144.6Z" fill="#4c649b" stroke="#4c649b"/>
<path d="M224.8 163.8L227.9 162.1L226.3 160.7L223.2 162.3Z" fill="#64418e" stroke="#64418e"/>
<path d="M150.0 133.1L153.7 130.1L152.2 126.9L148.6 130.0Z" fill="#3b8295" stroke="#3b8295"/>
<path d="M198.0 155.7L201.3 153.9L199.8 152.0L196.5 153.8Z" fill="#595295" stroke="#595295"/>
<path d="M121.8 118.0L125.6 112.8L124.1 108.6L120.3 114.0Z" fill="#339f8c" stroke="#339f8c"/>
<path d="M171.0 144.4L174.5 142.2L173.1 139.7L169.6 141.9Z" fill="#496a9a" stroke="#496a9a"/>
<path d="M218.5 162.4L221.6 160.8L220.1 159.2L216.9 160.8Z" fill="#624490" stroke="#624490"/>
<path d="M143.4 130.1L147.1 126.7L145.7 123.3L141.9 126.8Z" fill="#378993" stroke="#378993"/>
<path d="M191.7 153.7L195.0 151.9L193.6 149.8L190.2 151.7Z" fill="#555796" stroke="#555796"/>
<path d="M238.9 167.4L241.9 165.8L240.3 164.5L237.3 166.1Z" fill="#693987" stroke="#693987"/>
<path d="M164.5 141.8L168.1 139.3L166.7 136.6L163.1 139.1Z" fill="#457098" stroke="#457098"/>
<path d="M212.2 160.9L215.4 159.2L213.9 157.6L210.6 159.3Z" fill="#5f4891" stroke="#5f4891"/>
<path d="M136.7 127.2L140.5 123.3L139.0 119.7L135.3 123.7Z" fill="#358f92" stroke="#358f92"/>
<path d="M185.3 151.6L188.7 149.6L187.3 147.5L183.8 149.4Z" fill="#525c98" stroke="#525c98"/>
<path d="M232.6 166.4L235.7 164.7L234.1 163.4L231.0 165.0Z" fill="#673c8a" stroke="#673c8a"/>
<path d="M158.0 139.0L161.6 136.3L160.2 133.4L156.6 136.1Z" fill="#417797" stroke="#417797"/>
<path d="M205.9 159.3L209.1 157.6L207.6 155.9L204.3 157.6Z" fill="#5d4c92" stroke="#5d4c92"/>
<path d="M130.0 124.4L133.8 120.0L132.3 116.2L128.5 120.7Z" fill="#359490" stroke="#359490"/>
<path d="M178.9 149.3L182.4 147.2L180.9 144.9L177.4 147.0Z" fill="#4f619a" stroke="#4f619a"/>
<path d="M226.3 165.2L229.4 163.6L227.9 162.1L224.8 163.8Z" fill="#65408e" stroke="#65408e"/>
<path d="M151.4 136.2L155.1 133.2L153.7 130.1L150.0 133.1Z" fill="#3e7d96" stroke="#3e7d96"/>
<path d="M199.5 157.6L202.8 155.8L201.3 153.9L198.0 155.7Z" fill="#5a5094" stroke="#5a5094"/>
<path d="M123.3 121.9L127.1 116.9L125.6 112.8L121.8 118.0Z" fill="#349a8e" stroke="#349a8e"/>
<path d="M172.5 146.9L176.0 144.6L174.5 142.2L171.0 144.4Z" fill="#4b679a" stroke="#4b679a"/>
<path d="M220.0 164.0L223.2 162.3L221.6 160.8L218.5 162.4Z" fill="#63438f" stroke="#63438f"/>
<path d="M144.8 133.3L148.6 130.0L147.1 126.7L143.4 130.1Z" fill="#3a8495" stroke="#3a8495"/>
<path d="M193.2 155.7L196.5 153.8L195.0 151.9L191.7 153.7Z" fill="#575495" stroke="#575495"/>
<path d="M166.0 144.4L169.6 141.9L168.1 139.3L164.5 141.8Z" fill="#486c99" stroke="#486c99"/>
<path d="M213.7 162.6L216.9 160.8L215.4 159.2L212.2 160.9Z" fill="#604690" stroke="#604690"/>
<path d="M138.2 130.6L141.9 126.8L140.5 123.3L136.7 127.2Z" fill="#368a93" stroke="#368a93"/>
<path d="M186.8 153.7L190.2 151.7L188.7 149.6L185.3 151.6Z" fill="#545997" stroke="#545997"/>
<path d="M234.2 167.8L237.3 166.1L235.7 164.7L232.6 166.4Z" fill="#683b89" stroke="#683b89"/>
<path d="M159.5 141.7L163.1 139.1L161.6 136.3L158.0 139.0Z" fill="#447298" stroke="#447298"/>
<path d="M207.4 161.0L210.6 159.3L209.1 157.6L205.9 159.3Z" fill="#5e4a92" stroke="#5e4a92"/>
<path d="M131.5 128.0L135.3 123.7L133.8 120.0L130.0 124.4Z" fill="#358f91" stroke="#358f91"/>
<path d="M180.4 151.5L183.8 149.4L182.4 147.2L178.9 149.3Z" fill="#515e99" stroke="#515e99"/>
<path d="M227.9 166.7L231.0 165.0L229.4 163.6L226.3 165.2Z" fill="#663e8c" stroke="#663e8c"/>
<path d="M152.9 139.1L156.6 136.1L155.1 133.2L151.4 136.2Z" fill="#407997" stroke="#407997"/>
<path d="M201.0 159.4L204.3 157.6L202.8 155.8L199.5 157.6Z" fill="#5b4e93" stroke="#5b4e93"/>
<path d="M124.8 125.6L128.5 120.7L127.1 116.9L123.3 121.9Z" fill="#359490" stroke="#359490"/>
<path d="M173.9 149.2L177.4 147.0L176.0 144.6L172.5 146.9Z" fill="#4d639b" stroke="#4d639b"/>
<path d="M221.6 165.5L224.8 163.8L223.2 162.3L220.0 164.0Z" fill="#64418f" stroke="#64418f"/>
<path d="M146.3 136.4L150.0 133.1L148.6 130.0L144.8 133.3Z" fill="#3d7f95" stroke="#3d7f95"/>
<path d="M194.7 157.6L198.0 155.7L196.5 153.8L193.2 155.7Z" fill="#595295" stroke="#595295"/>
<path d="M167.4 146.9L171.0 144.4L169.6 141.9L166.0 144.4Z" fill="#4a699a" stroke="#4a699a"/>
<path d="M215.3 164.2L218.5 162.4L216.9 160.8L213.7 162.6Z" fill="#614590" stroke="#614590"/>
<path d="M139.6 133.8L143.4 130.1L141.9 126.8L138.2 130.6Z" fill="#398594" stroke="#398594"/>
<path d="M188.3 155.7L191.7 153.7L190.2 151.7L186.8 153.7Z" fill="#565696" stroke="#565696"/>
<path d="M235.9 169.1L238.9 167.4L237.3 166.1L234.2 167.8Z" fill="#683988" stroke="#683988"/>
<path d="M160.9 144.4L164.5 141.8L163.1 139.1L159.5 141.7Z" fill="#466e99" stroke="#466e99"/>
<path d="M208.9 162.7L212.2 160.9L210.6 159.3L207.4 161.0Z" fill="#5f4891" stroke="#5f4891"/>
<path d="M132.9 131.4L136.7 127.2L135.3 123.7L131.5 128.0Z" fill="#368b93" stroke="#368b93"/>
<path d="M181.8 153.7L185.3 151.6L183.8 149.4L180.4 151.5Z" fill="#525b98" stroke="#525b98"/>
<path d="M229.5 168.1L232.6 166.4L231.0 165.0L227.9 166.7Z" fill="#663d8b" stroke="#663d8b"/>
<path d="M154.3 141.9L158.0 139.0L156.6 136.1L152.9 139.1Z" fill="#437498" stroke="#437498"/>
<path d="M202.6 161.2L205.9 159.3L204.3 157.6L201.0 159.4Z" fill="#5d4c92" stroke="#5d4c92"/>
<path d="M126.2 129.1L130.0 124.4L128.5 120.7L124.8 125.6Z" fill="#358f92" stroke="#358f92"/>
<path d="M175.4 151.5L178.9 149.3L177.4 147.0L173.9 149.2Z" fill="#4f609a" stroke="#4f609a"/>
<path d="M223.2 167.0L226.3 165.2L224.8 163.8L221.6 165.5Z" fill="#64408e" stroke="#64408e"/>
<path d="M147.7 139.4L151.4 136.2L150.0 133.1L146.3 136.4Z" fill="#3f7a96" stroke="#3f7a96"/>
<path d="M196.2 159.5L199.5 157.6L198.0 155.7L194.7 157.6Z" fill="#5a5094" stroke="#5a5094"/>
<path d="M168.9 149.3L172.5 146.9L171.0 144.4L167.4 146.9Z" fill="#4c659b" stroke="#4c659b"/>
<path d="M216.8 165.7L220.0 164.0L218.5 162.4L215.3 164.2Z" fill="#62438f" stroke="#62438f"/>
<path d="M141.1 136.9L144.8 133.3L143.4 130.1L139.6 133.8Z" fill="#3c8095" stroke="#3c8095"/>
<path d="M189.8 157.7L193.2 155.7L191.7 153.7L188.3 155.7Z" fill="#575495" stroke="#575495"/>
<path d="M162.4 147.0L166.0 144.4L164.5 141.8L160.9 144.4Z" fill="#496b99" stroke="#496b99"/>
<path d="M210.5 164.4L213.7 162.6L212.2 160.9L208.9 162.7Z" fill="#604690" stroke="#604690"/>
<path d="M134.4 134.6L138.2 130.6L136.7 127.2L132.9 131.4Z" fill="#398594" stroke="#398594"/>
<path d="M183.3 155.8L186.8 153.7L185.3 151.6L181.8 153.7Z" fill="#545897" stroke="#545897"/>
<path d="M231.2 169.5L234.2 167.8L232.6 166.4L229.5 168.1Z" fill="#673b8a" stroke="#673b8a"/>
<path d="M155.8 144.6L159.5 141.7L158.0 139.0L154.3 141.9Z" fill="#457098" stroke="#457098"/>
<path d="M204.1 162.9L207.4 161.0L205.9 159.3L202.6 161.2Z" fill="#5e4a92" stroke="#5e4a92"/>
<path d="M127.7 132.5L131.5 128.0L130.0 124.4L126.2 129.1Z" fill="#368a93" stroke="#368a93"/>
<path d="M176.9 153.7L180.4 151.5L178.9 149.3L175.4 151.5Z" fill="#515d99" stroke="#515d99"/>
<path d="M224.8 168.4L227.9 166.7L226.3 165.2L223.2 167.0Z" fill="#653f8d" stroke="#653f8d"/>
<path d="M149.2 142.2L152.9 139.1L151.4 136.2L147.7 139.4Z" fill="#427697" stroke="#427697"/>
<path d="M197.7 161.3L201.0 159.4L199.5 157.6L196.2 159.5Z" fill="#5b4e93" stroke="#5b4e93"/>
<path d="M170.3 151.6L173.9 149.2L172.5 146.9L168.9 149.3Z" fill="#4e629b" stroke="#4e629b"/>
<path d="M218.4 167.3L221.6 165.5L220.0 164.0L216.8 165.7Z" fill="#63428f" stroke="#63428f"/>
<path d="M142.5 139.9L146.3 136.4L144.8 133.3L141.1 136.9Z" fill="#3f7b96" stroke="#3f7b96"/>
<path d="M191.3 159.6L194.7 157.6L193.2 155.7L189.8 157.7Z" fill="#595295" stroke="#595295"/>
<path d="M163.8 149.4L167.4 146.9L166.0 144.4L162.4 147.0Z" fill="#4b679a" stroke="#4b679a"/>
<path d="M212.0 166.0L215.3 164.2L213.7 162.6L210.5 164.4Z" fill="#614590" stroke="#614590"/>
<path d="M135.8 137.7L139.6 133.8L138.2 130.6L134.4 134.6Z" fill="#3c8095" stroke="#3c8095"/>
<path d="M184.8 157.8L188.3 155.7L186.8 153.7L183.3 155.8Z" fill="#565696" stroke="#565696"/>
<path d="M232.8 170.9L235.9 169.1L234.2 167.8L231.2 169.5Z" fill="#683a88" stroke="#683a88"/>
<path d="M157.2 147.2L160.9 144.4L159.5 141.7L155.8 144.6Z" fill="#476c99" stroke="#476c99"/>
<path d="M205.6 164.6L208.9 162.7L207.4 161.0L204.1 162.9Z" fill="#5f4891" stroke="#5f4891"/>
<path d="M129.1 135.8L132.9 131.4L131.5 128.0L127.7 132.5Z" fill="#398594" stroke="#398594"/>
<path d="M178.3 155.9L181.8 153.7L180.4 151.5L176.9 153.7Z" fill="#535a98" stroke="#535a98"/>
<path d="M226.4 169.9L229.5 168.1L227.9 166.7L224.8 168.4Z" fill="#663d8b" stroke="#663d8b"/>
<path d="M150.6 145.0L154.3 141.9L152.9 139.1L149.2 142.2Z" fill="#447298" stroke="#447298"/>
<path d="M199.2 163.1L202.6 161.2L201.0 159.4L197.7 161.3Z" fill="#5d4c92" stroke="#5d4c92"/>
<path d="M171.8 153.9L175.4 151.5L173.9 149.2L170.3 151.6Z" fill="#505f9a" stroke="#505f9a"/>
<path d="M220.0 168.8L223.2 167.0L221.6 165.5L218.4 167.3Z" fill="#64408e" stroke="#64408e"/>
<path d="M144.0 142.8L147.7 139.4L146.3 136.4L142.5 139.9Z" fill="#417797" stroke="#417797"/>
<path d="M192.8 161.5L196.2 159.5L194.7 157.6L191.3 159.6Z" fill="#5a4f94" stroke="#5a4f94"/>
<path d="M165.3 151.8L168.9 149.3L167.4 146.9L163.8 149.4Z" fill="#4d649b" stroke="#4d649b"/>
<path d="M213.6 167.6L216.8 165.7L215.3 164.2L212.0 166.0Z" fill="#62438f" stroke="#62438f"/>
<path d="M137.3 140.7L141.1 136.9L139.6 133.8L135.8 137.7Z" fill="#3e7c96" stroke="#3e7c96"/>
<path d="M186.3 159.8L189.8 157.7L188.3 155.7L184.8 157.8Z" fill="#585495" stroke="#585495"/>
<path d="M158.7 149.7L162.4 147.0L160.9 144.4L157.2 147.2Z" fill="#4a699a" stroke="#4a699a"/>
<path d="M207.2 166.3L210.5 164.4L208.9 162.7L205.6 164.6Z" fill="#604690" stroke="#604690"/>
<path d="M130.6 138.9L134.4 134.6L132.9 131.4L129.1 135.8Z" fill="#3c8095" stroke="#3c8095"/>
<path d="M179.8 158.0L183.3 155.8L181.8 153.7L178.3 155.9Z" fill="#555897" stroke="#555897"/>
<path d="M228.0 171.3L231.2 169.5L229.5 168.1L226.4 169.9Z" fill="#673c8a" stroke="#673c8a"/>
<path d="M152.1 147.6L155.8 144.6L154.3 141.9L150.6 145.0Z" fill="#476e99" stroke="#476e99"/>
<path d="M200.7 164.8L204.1 162.9L202.6 161.2L199.2 163.1Z" fill="#5e4a92" stroke="#5e4a92"/>
<path d="M173.3 156.1L176.9 153.7L175.4 151.5L171.8 153.9Z" fill="#525c98" stroke="#525c98"/>
<path d="M221.6 170.3L224.8 168.4L223.2 167.0L220.0 168.8Z" fill="#653f8d" stroke="#653f8d"/>
<path d="M145.4 145.6L149.2 142.2L147.7 139.4L144.0 142.8Z" fill="#447398" stroke="#447398"/>
<path d="M194.3 163.3L197.7 161.3L196.2 159.5L192.8 161.5Z" fill="#5c4d93" stroke="#5c4d93"/>
<path d="M166.7 154.2L170.3 151.6L168.9 149.3L165.3 151.8Z" fill="#4f619a" stroke="#4f619a"/>
<path d="M215.2 169.1L218.4 167.3L216.8 165.7L213.6 167.6Z" fill="#63428f" stroke="#63428f"/>
<path d="M138.7 143.6L142.5 139.9L141.1 136.9L137.3 140.7Z" fill="#417797" stroke="#417797"/>
<path d="M187.8 161.7L191.3 159.6L189.8 157.7L186.3 159.8Z" fill="#595194" stroke="#595194"/>
<path d="M160.2 152.2L163.8 149.4L162.4 147.0L158.7 149.7Z" fill="#4c659b" stroke="#4c659b"/>
<path d="M208.7 167.9L212.0 166.0L210.5 164.4L207.2 166.3Z" fill="#614590" stroke="#614590"/>
<path d="M132.0 141.9L135.8 137.7L134.4 134.6L130.6 138.9Z" fill="#3e7c96" stroke="#3e7c96"/>
<path d="M181.3 160.0L184.8 157.8L183.3 155.8L179.8 158.0Z" fill="#565596" stroke="#565596"/>
<path d="M229.6 172.7L232.8 170.9L231.2 169.5L228.0 171.3Z" fill="#683a89" stroke="#683a89"/>
<path d="M153.5 150.2L157.2 147.2L155.8 144.6L152.1 147.6Z" fill="#496a9a" stroke="#496a9a"/>
<path d="M202.3 166.6L205.6 164.6L204.1 162.9L200.7 164.8Z" fill="#5f4891" stroke="#5f4891"/>
<path d="M174.8 158.2L178.3 155.9L176.9 153.7L173.3 156.1Z" fill="#545997" stroke="#545997"/>
<path d="M223.2 171.7L226.4 169.9L224.8 168.4L221.6 170.3Z" fill="#663d8c" stroke="#663d8c"/>
<path d="M146.9 148.3L150.6 145.0L149.2 142.2L145.4 145.6Z" fill="#466f99" stroke="#466f99"/>
<path d="M195.8 165.1L199.2 163.1L197.7 161.3L194.3 163.3Z" fill="#5d4c92" stroke="#5d4c92"/>
<path d="M168.2 156.4L171.8 153.9L170.3 151.6L166.7 154.2Z" fill="#515e99" stroke="#515e99"/>
<path d="M216.8 170.7L220.0 168.8L218.4 167.3L215.2 169.1Z" fill="#64418e" stroke="#64418e"/>
<path d="M140.2 146.4L144.0 142.8L142.5 139.9L138.7 143.6Z" fill="#447398" stroke="#447398"/>
<path d="M189.3 163.6L192.8 161.5L191.3 159.6L187.8 161.7Z" fill="#5a4f94" stroke="#5a4f94"/>
<path d="M161.6 154.5L165.3 151.8L163.8 149.4L160.2 152.2Z" fill="#4e629b" stroke="#4e629b"/>
<path d="M210.3 169.5L213.6 167.6L212.0 166.0L208.7 167.9Z" fill="#62438f" stroke="#62438f"/>
<path d="M133.5 144.8L137.3 140.7L135.8 137.7L132.0 141.9Z" fill="#417797" stroke="#417797"/>
<path d="M182.8 162.0L186.3 159.8L184.8 157.8L181.3 160.0Z" fill="#585395" stroke="#585395"/>
<path d="M155.0 152.7L158.7 149.7L157.2 147.2L153.5 150.2Z" fill="#4b679a" stroke="#4b679a"/>
<path d="M203.8 168.2L207.2 166.3L205.6 164.6L202.3 166.6Z" fill="#604690" stroke="#604690"/>
<path d="M176.3 160.3L179.8 158.0L178.3 155.9L174.8 158.2Z" fill="#555796" stroke="#555796"/>
<path d="M224.8 173.2L228.0 171.3L226.4 169.9L223.2 171.7Z" fill="#673c8a" stroke="#673c8a"/>
<path d="M148.3 150.9L152.1 147.6L150.6 145.0L146.9 148.3Z" fill="#486b99" stroke="#486b99"/>
<path d="M197.4 166.9L200.7 164.8L199.2 163.1L195.8 165.1Z" fill="#5e4a92" stroke="#5e4a92"/>
<path d="M169.7 158.6L173.3 156.1L171.8 153.9L168.2 156.4Z" fill="#535b98" stroke="#535b98"/>
<path d="M218.4 172.2L221.6 170.3L220.0 168.8L216.8 170.7Z" fill="#653f8d" stroke="#653f8d"/>
<path d="M141.6 149.1L145.4 145.6L144.0 142.8L140.2 146.4Z" fill="#466f99" stroke="#466f99"/>
<path d="M190.8 165.5L194.3 163.3L192.8 161.5L189.3 163.6Z" fill="#5c4d93" stroke="#5c4d93"/>
<path d="M163.1 156.8L166.7 154.2L165.3 151.8L161.6 154.5Z" fill="#505f9a" stroke="#505f9a"/>
<path d="M211.9 171.1L215.2 169.1L213.6 167.6L210.3 169.5Z" fill="#63428f" stroke="#63428f"/>
<path d="M134.9 147.6L138.7 143.6L137.3 140.7L133.5 144.8Z" fill="#447398" stroke="#447398"/>
<path d="M184.3 163.9L187.8 161.7L186.3 159.8L182.8 162.0Z" fill="#595194" stroke="#595194"/>
<path d="M156.5 155.1L160.2 152.2L158.7 149.7L155.0 152.7Z" fill="#4d639b" stroke="#4d639b"/>
<path d="M205.4 169.9L208.7 167.9L207.2 166.3L203.8 168.2Z" fill="#614590" stroke="#614590"/>
<path d="M177.8 162.4L181.3 160.0L179.8 158.0L176.3 160.3Z" fill="#575496" stroke="#575496"/>
<path d="M226.5 174.6L229.6 172.7L228.0 171.3L224.8 173.2Z" fill="#683b89" stroke="#683b89"/>
<path d="M149.8 153.4L153.5 150.2L152.1 147.6L148.3 150.9Z" fill="#4a679a" stroke="#4a679a"/>
<path d="M198.9 168.6L202.3 166.6L200.7 164.8L197.4 166.9Z" fill="#5f4891" stroke="#5f4891"/>
<path d="M171.2 160.7L174.8 158.2L173.3 156.1L169.7 158.6Z" fill="#545897" stroke="#545897"/>
<path d="M220.0 173.7L223.2 171.7L221.6 170.3L218.4 172.2Z" fill="#663e8c" stroke="#663e8c"/>
<path d="M143.1 151.7L146.9 148.3L145.4 145.6L141.6 149.1Z" fill="#486b99" stroke="#486b99"/>
<path d="M192.4 167.3L195.8 165.1L194.3 163.3L190.8 165.5Z" fill="#5d4b92" stroke="#5d4b92"/>
<path d="M164.6 159.1L168.2 156.4L166.7 154.2L163.1 156.8Z" fill="#525c98" stroke="#525c98"/>
<path d="M213.5 172.6L216.8 170.7L215.2 169.1L211.9 171.1Z" fill="#64418e" stroke="#64418e"/>
<path d="M136.4 150.3L140.2 146.4L138.7 143.6L134.9 147.6Z" fill="#466f99" stroke="#466f99"/>
<path d="M185.8 165.8L189.3 163.6L187.8 161.7L184.3 163.9Z" fill="#5b4f93" stroke="#5b4f93"/>
<path d="M157.9 157.4L161.6 154.5L160.2 152.2L156.5 155.1Z" fill="#4f609a" stroke="#4f609a"/>
<path d="M207.0 171.5L210.3 169.5L208.7 167.9L205.4 169.9Z" fill="#62438f" stroke="#62438f"/>
<path d="M179.3 164.3L182.8 162.0L181.3 160.0L177.8 162.4Z" fill="#585295" stroke="#585295"/>
<path d="M151.2 155.8L155.0 152.7L153.5 150.2L149.8 153.4Z" fill="#4c649b" stroke="#4c649b"/>
<path d="M200.4 170.3L203.8 168.2L202.3 166.6L198.9 168.6Z" fill="#604690" stroke="#604690"/>
<path d="M172.7 162.8L176.3 160.3L174.8 158.2L171.2 160.7Z" fill="#565696" stroke="#565696"/>
<path d="M221.6 175.1L224.8 173.2L223.2 171.7L220.0 173.7Z" fill="#673c8b" stroke="#673c8b"/>
<path d="M144.6 154.3L148.3 150.9L146.9 148.3L143.1 151.7Z" fill="#4a689a" stroke="#4a689a"/>
<path d="M193.9 169.0L197.4 166.9L195.8 165.1L192.4 167.3Z" fill="#5e4991" stroke="#5e4991"/>
<path d="M166.0 161.2L169.7 158.6L168.2 156.4L164.6 159.1Z" fill="#535a97" stroke="#535a97"/>
<path d="M215.1 174.2L218.4 172.2L216.8 170.7L213.5 172.6Z" fill="#653f8d" stroke="#653f8d"/>
<path d="M137.8 152.9L141.6 149.1L140.2 146.4L136.4 150.3Z" fill="#486b99" stroke="#486b99"/>
<path d="M187.3 167.7L190.8 165.5L189.3 163.6L185.8 165.8Z" fill="#5c4d93" stroke="#5c4d93"/>
<path d="M159.4 159.7L163.1 156.8L161.6 154.5L157.9 157.4Z" fill="#515d99" stroke="#515d99"/>
<path d="M208.6 173.1L211.9 171.1L210.3 169.5L207.0 171.5Z" fill="#63428f" stroke="#63428f"/>
<path d="M180.8 166.3L184.3 163.9L182.8 162.0L179.3 164.3Z" fill="#5a5094" stroke="#5a5094"/>
<path d="M152.7 158.1L156.5 155.1L155.0 152.7L151.2 155.8Z" fill="#4f619a" stroke="#4f619a"/>
<path d="M202.0 172.0L205.4 169.9L203.8 168.2L200.4 170.3Z" fill="#614590" stroke="#614590"/>
<path d="M174.2 164.8L177.8 162.4L176.3 160.3L172.7 162.8Z" fill="#585395" stroke="#585395"/>
<path d="M223.2 176.6L226.5 174.6L224.8 173.2L221.6 175.1Z" fill="#673b89" stroke="#673b89"/>
<path d="M146.0 156.7L149.8 153.4L148.3 150.9L144.6 154.3Z" fill="#4c659b" stroke="#4c659b"/>
<path d="M195.5 170.7L198.9 168.6L197.4 166.9L193.9 169.0Z" fill="#5f4891" stroke="#5f4891"/>
<path d="M167.5 163.3L171.2 160.7L169.7 158.6L166.0 161.2Z" fill="#555796" stroke="#555796"/>
<path d="M216.7 175.7L220.0 173.7L218.4 172.2L215.1 174.2Z" fill="#663e8c" stroke="#663e8c"/>
<path d="M139.3 155.4L143.1 151.7L141.6 149.1L137.8 152.9Z" fill="#4a689a" stroke="#4a689a"/>
<path d="M188.9 169.5L192.4 167.3L190.8 165.5L187.3 167.7Z" fill="#5d4b92" stroke="#5d4b92"/>
<path d="M160.9 161.8L164.6 159.1L163.1 156.8L159.4 159.7Z" fill="#535a98" stroke="#535a98"/>
<path d="M210.1 174.7L213.5 172.6L211.9 171.1L208.6 173.1Z" fill="#64418e" stroke="#64418e"/>
<path d="M182.3 168.1L185.8 165.8L184.3 163.9L180.8 166.3Z" fill="#5b4e93" stroke="#5b4e93"/>
<path d="M154.2 160.4L157.9 157.4L156.5 155.1L152.7 158.1Z" fill="#515e99" stroke="#515e99"/>
<path d="M203.6 173.6L207.0 171.5L205.4 169.9L202.0 172.0Z" fill="#62438f" stroke="#62438f"/>
<path d="M175.7 166.8L179.3 164.3L177.8 162.4L174.2 164.8Z" fill="#595194" stroke="#595194"/>
<path d="M147.5 159.1L151.2 155.8L149.8 153.4L146.0 156.7Z" fill="#4e619a" stroke="#4e619a"/>
<path d="M197.0 172.4L200.4 170.3L198.9 168.6L195.5 170.7Z" fill="#604690" stroke="#604690"/>
<path d="M169.0 165.4L172.7 162.8L171.2 160.7L167.5 163.3Z" fill="#575496" stroke="#575496"/>
<path d="M218.3 177.1L221.6 175.1L220.0 173.7L216.7 175.7Z" fill="#673c8b" stroke="#673c8b"/>
<path d="M140.7 157.8L144.6 154.3L143.1 151.7L139.3 155.4Z" fill="#4c649b" stroke="#4c649b"/>
<path d="M190.4 171.2L193.9 169.0L192.4 167.3L188.9 169.5Z" fill="#5f4991" stroke="#5f4991"/>
<path d="M162.3 164.0L166.0 161.2L164.6 159.1L160.9 161.8Z" fill="#555897" stroke="#555897"/>
<path d="M211.7 176.2L215.1 174.2L213.5 172.6L210.1 174.7Z" fill="#653f8d" stroke="#653f8d"/>
<path d="M183.8 170.0L187.3 167.7L185.8 165.8L182.3 168.1Z" fill="#5d4c92" stroke="#5d4c92"/>
<path d="M155.6 162.6L159.4 159.7L157.9 157.4L154.2 160.4Z" fill="#525b98" stroke="#525b98"/>
<path d="M205.2 175.2L208.6 173.1L207.0 171.5L203.6 173.6Z" fill="#63428f" stroke="#63428f"/>
<path d="M177.2 168.7L180.8 166.3L179.3 164.3L175.7 166.8Z" fill="#5b4f94" stroke="#5b4f94"/>
<path d="M148.9 161.3L152.7 158.1L151.2 155.8L147.5 159.1Z" fill="#505e99" stroke="#505e99"/>
<path d="M198.6 174.1L202.0 172.0L200.4 170.3L197.0 172.4Z" fill="#614590" stroke="#614590"/>
<path d="M170.5 167.4L174.2 164.8L172.7 162.8L169.0 165.4Z" fill="#585295" stroke="#585295"/>
<path d="M219.9 178.6L223.2 176.6L221.6 175.1L218.3 177.1Z" fill="#673b89" stroke="#673b89"/>
<path d="M142.2 160.2L146.0 156.7L144.6 154.3L140.7 157.8Z" fill="#4e619a" stroke="#4e619a"/>
<path d="M192.0 173.0L195.5 170.7L193.9 169.0L190.4 171.2Z" fill="#604791" stroke="#604791"/>
<path d="M163.8 166.1L167.5 163.3L166.0 161.2L162.3 164.0Z" fill="#565596" stroke="#565596"/>
<path d="M213.4 177.7L216.7 175.7L215.1 174.2L211.7 176.2Z" fill="#663e8c" stroke="#663e8c"/>
<path d="M185.3 171.8L188.9 169.5L187.3 167.7L183.8 170.0Z" fill="#5e4a92" stroke="#5e4a92"/>
<path d="M157.1 164.8L160.9 161.8L159.4 159.7L155.6 162.6Z" fill="#545897" stroke="#545897"/>
<path d="M206.8 176.8L210.1 174.7L208.6 173.1L205.2 175.2Z" fill="#64418e" stroke="#64418e"/>
<path d="M178.7 170.6L182.3 168.1L180.8 166.3L177.2 168.7Z" fill="#5c4d93" stroke="#5c4d93"/>
<path d="M150.4 163.6L154.2 160.4L152.7 158.1L148.9 161.3Z" fill="#525b98" stroke="#525b98"/>
<path d="M200.2 175.7L203.6 173.6L202.0 172.0L198.6 174.1Z" fill="#62438f" stroke="#62438f"/>
<path d="M172.0 169.3L175.7 166.8L174.2 164.8L170.5 167.4Z" fill="#5a5094" stroke="#5a5094"/>
<path d="M143.7 162.5L147.5 159.1L146.0 156.7L142.2 160.2Z" fill="#505e99" stroke="#505e99"/>
<path d="M193.5 174.7L197.0 172.4L195.5 170.7L192.0 173.0Z" fill="#614690" stroke="#614690"/>
<path d="M165.3 168.1L169.0 165.4L167.5 163.3L163.8 166.1Z" fill="#585395" stroke="#585395"/>
<path d="M215.0 179.2L218.3 177.1L216.7 175.7L213.4 177.7Z" fill="#673c8b" stroke="#673c8b"/>
<path d="M186.9 173.6L190.4 171.2L188.9 169.5L185.3 171.8Z" fill="#5f4891" stroke="#5f4891"/>
<path d="M158.6 166.9L162.3 164.0L160.9 161.8L157.1 164.8Z" fill="#565696" stroke="#565696"/>
<path d="M208.4 178.3L211.7 176.2L210.1 174.7L206.8 176.8Z" fill="#653f8d" stroke="#653f8d"/>
<path d="M180.2 172.4L183.8 170.0L182.3 168.1L178.7 170.6Z" fill="#5d4b92" stroke="#5d4b92"/>
<path d="M151.9 165.7L155.6 162.6L154.2 160.4L150.4 163.6Z" fill="#545997" stroke="#545997"/>
<path d="M201.7 177.4L205.2 175.2L203.6 173.6L200.2 175.7Z" fill="#63428f" stroke="#63428f"/>
<path d="M173.5 171.2L177.2 168.7L175.7 166.8L172.0 169.3Z" fill="#5b4e93" stroke="#5b4e93"/>
<path d="M145.1 164.7L148.9 161.3L147.5 159.1L143.7 162.5Z" fill="#525b98" stroke="#525b98"/>
<path d="M195.1 176.3L198.6 174.1L197.0 172.4L193.5 174.7Z" fill="#624490" stroke="#624490"/>
<path d="M166.8 170.1L170.5 167.4L169.0 165.4L165.3 168.1Z" fill="#595194" stroke="#595194"/>
<path d="M216.6 180.7L219.9 178.6L218.3 177.1L215.0 179.2Z" fill="#673b89" stroke="#673b89"/>
<path d="M188.4 175.3L192.0 173.0L190.4 171.2L186.9 173.6Z" fill="#604790" stroke="#604790"/>
<path d="M160.1 168.9L163.8 166.1L162.3 164.0L158.6 166.9Z" fill="#575495" stroke="#575495"/>
<path d="M210.0 179.9L213.4 177.7L211.7 176.2L208.4 178.3Z" fill="#663e8c" stroke="#663e8c"/>
<path d="M181.8 174.2L185.3 171.8L183.8 170.0L180.2 172.4Z" fill="#5e4991" stroke="#5e4991"/>
<path d="M153.3 167.9L157.1 164.8L155.6 162.6L151.9 165.7Z" fill="#565696" stroke="#565696"/>
<path d="M203.3 178.9L206.8 176.8L205.2 175.2L201.7 177.4Z" fill="#64408e" stroke="#64408e"/>
<path d="M175.1 173.1L178.7 170.6L177.2 168.7L173.5 171.2Z" fill="#5d4c92" stroke="#5d4c92"/>
<path d="M146.6 166.9L150.4 163.6L148.9 161.3L145.1 164.7Z" fill="#545997" stroke="#545997"/>
<path d="M196.7 178.0L200.2 175.7L198.6 174.1L195.1 176.3Z" fill="#63438f" stroke="#63438f"/>
<path d="M168.3 172.0L172.0 169.3L170.5 167.4L166.8 170.1Z" fill="#5b4f93" stroke="#5b4f93"/>
<path d="M190.0 177.0L193.5 174.7L192.0 173.0L188.4 175.3Z" fill="#614590" stroke="#614590"/>
<path d="M161.6 170.9L165.3 168.1L163.8 166.1L160.1 168.9Z" fill="#595194" stroke="#595194"/>
<path d="M211.6 181.4L215.0 179.2L213.4 177.7L210.0 179.9Z" fill="#673c8b" stroke="#673c8b"/>
<path d="M183.3 176.0L186.9 173.6L185.3 171.8L181.8 174.2Z" fill="#5f4891" stroke="#5f4891"/>
<path d="M154.8 169.9L158.6 166.9L157.1 164.8L153.3 167.9Z" fill="#575495" stroke="#575495"/>
<path d="M204.9 180.5L208.4 178.3L206.8 176.8L203.3 178.9Z" fill="#653f8d" stroke="#653f8d"/>
<path d="M176.6 174.9L180.2 172.4L178.7 170.6L175.1 173.1Z" fill="#5e4a92" stroke="#5e4a92"/>
<path d="M148.1 169.0L151.9 165.7L150.4 163.6L146.6 166.9Z" fill="#565696" stroke="#565696"/>
<path d="M198.3 179.6L201.7 177.4L200.2 175.7L196.7 178.0Z" fill="#64418e" stroke="#64418e"/>
<path d="M169.8 173.9L173.5 171.2L172.0 169.3L168.3 172.0Z" fill="#5c4d93" stroke="#5c4d93"/>
<path d="M191.6 178.7L195.1 176.3L193.5 174.7L190.0 177.0Z" fill="#62448f" stroke="#62448f"/>
<path d="M163.1 172.9L166.8 170.1L165.3 168.1L161.6 170.9Z" fill="#5a4f94" stroke="#5a4f94"/>
<path d="M213.2 182.9L216.6 180.7L215.0 179.2L211.6 181.4Z" fill="#673b89" stroke="#673b89"/>
<path d="M184.8 177.7L188.4 175.3L186.9 173.6L183.3 176.0Z" fill="#614690" stroke="#614690"/>
<path d="M156.3 171.9L160.1 168.9L158.6 166.9L154.8 169.9Z" fill="#595294" stroke="#595294"/>
<path d="M206.6 182.1L210.0 179.9L208.4 178.3L204.9 180.5Z" fill="#663d8c" stroke="#663d8c"/>
<path d="M178.1 176.7L181.8 174.2L180.2 172.4L176.6 174.9Z" fill="#5f4891" stroke="#5f4891"/>
<path d="M149.5 171.1L153.3 167.9L151.9 165.7L148.1 169.0Z" fill="#575495" stroke="#575495"/>
<path d="M199.9 181.2L203.3 178.9L201.7 177.4L198.3 179.6Z" fill="#64408e" stroke="#64408e"/>
<path d="M171.4 175.7L175.1 173.1L173.5 171.2L169.8 173.9Z" fill="#5d4b92" stroke="#5d4b92"/>
<path d="M193.1 180.3L196.7 178.0L195.1 176.3L191.6 178.7Z" fill="#63428f" stroke="#63428f"/>
<path d="M164.6 174.8L168.3 172.0L166.8 170.1L163.1 172.9Z" fill="#5c4d93" stroke="#5c4d93"/>
<path d="M186.4 179.4L190.0 177.0L188.4 175.3L184.8 177.7Z" fill="#624490" stroke="#624490"/>
<path d="M157.8 173.9L161.6 170.9L160.1 168.9L156.3 171.9Z" fill="#5a4f94" stroke="#5a4f94"/>
<path d="M208.2 183.6L211.6 181.4L210.0 179.9L206.6 182.1Z" fill="#673c8a" stroke="#673c8a"/>
<path d="M179.7 178.5L183.3 176.0L181.8 174.2L178.1 176.7Z" fill="#604790" stroke="#604790"/>
<path d="M151.0 173.1L154.8 169.9L153.3 167.9L149.5 171.1Z" fill="#595194" stroke="#595194"/>
<path d="M201.5 182.8L204.9 180.5L203.3 178.9L199.9 181.2Z" fill="#653f8d" stroke="#653f8d"/>
<path d="M172.9 177.5L176.6 174.9L175.1 173.1L171.4 175.7Z" fill="#5f4991" stroke="#5f4991"/>
<path d="M194.7 181.9L198.3 179.6L196.7 178.0L193.1 180.3Z" fill="#64418e" stroke="#64418e"/>
<path d="M166.1 176.6L169.8 173.9L168.3 172.0L164.6 174.8Z" fill="#5d4b92" stroke="#5d4b92"/>
<path d="M188.0 181.1L191.6 178.7L190.0 177.0L186.4 179.4Z" fill="#62438f" stroke="#62438f"/>
<path d="M159.3 175.8L163.1 172.9L161.6 170.9L157.8 173.9Z" fill="#5c4d93" stroke="#5c4d93"/>
<path d="M209.8 185.1L213.2 182.9L211.6 181.4L208.2 183.6Z" fill="#683b89" stroke="#683b89"/>
<path d="M181.2 180.2L184.8 177.7L183.3 176.0L179.7 178.5Z" fill="#614590" stroke="#614590"/>
<path d="M152.5 175.0L156.3 171.9L154.8 169.9L151.0 173.1Z" fill="#5a4f94" stroke="#5a4f94"/>
<path d="M203.1 184.3L206.6 182.1L204.9 180.5L201.5 182.8Z" fill="#663d8b" stroke="#663d8b"/>
<path d="M174.4 179.3L178.1 176.7L176.6 174.9L172.9 177.5Z" fill="#604791" stroke="#604791"/>
<path d="M196.3 183.5L199.9 181.2L198.3 179.6L194.7 181.9Z" fill="#65408e" stroke="#65408e"/>
<path d="M167.6 178.5L171.4 175.7L169.8 173.9L166.1 176.6Z" fill="#5e4991" stroke="#5e4991"/>
<path d="M189.6 182.7L193.1 180.3L191.6 178.7L188.0 181.1Z" fill="#63428f" stroke="#63428f"/>
<path d="M160.8 177.7L164.6 174.8L163.1 172.9L159.3 175.8Z" fill="#5d4b92" stroke="#5d4b92"/>
<path d="M182.8 181.9L186.4 179.4L184.8 177.7L181.2 180.2Z" fill="#62448f" stroke="#62448f"/>
<path d="M154.0 177.0L157.8 173.9L156.3 171.9L152.5 175.0Z" fill="#5c4d93" stroke="#5c4d93"/>
<path d="M204.7 185.9L208.2 183.6L206.6 182.1L203.1 184.3Z" fill="#673c8a" stroke="#673c8a"/>
<path d="M176.0 181.1L179.7 178.5L178.1 176.7L174.4 179.3Z" fill="#614690" stroke="#614690"/>
<path d="M197.9 185.1L201.5 182.8L199.9 181.2L196.3 183.5Z" fill="#663e8c" stroke="#663e8c"/>
<path d="M169.2 180.3L172.9 177.5L171.4 175.7L167.6 178.5Z" fill="#5f4891" stroke="#5f4891"/>
<path d="M191.2 184.3L194.7 181.9L193.1 180.3L189.6 182.7Z" fill="#64408e" stroke="#64408e"/>
<path d="M162.3 179.5L166.1 176.6L164.6 174.8L160.8 177.7Z" fill="#5e4a92" stroke="#5e4a92"/>
<path d="M184.3 183.6L188.0 181.1L186.4 179.4L182.8 181.9Z" fill="#63428f" stroke="#63428f"/>
<path d="M155.5 178.8L159.3 175.8L157.8 173.9L154.0 177.0Z" fill="#5d4b92" stroke="#5d4b92"/>
<path d="M206.3 187.4L209.8 185.1L208.2 183.6L204.7 185.9Z" fill="#683a89" stroke="#683a89"/>
<path d="M177.5 182.8L181.2 180.2L179.7 178.5L176.0 181.1Z" fill="#624490" stroke="#624490"/>
<path d="M199.6 186.7L203.1 184.3L201.5 182.8L197.9 185.1Z" fill="#663d8b" stroke="#663d8b"/>
<path d="M170.7 182.0L174.4 179.3L172.9 177.5L169.2 180.3Z" fill="#604690" stroke="#604690"/>
<path d="M192.8 185.9L196.3 183.5L194.7 181.9L191.2 184.3Z" fill="#653f8d" stroke="#653f8d"/>
<path d="M163.9 181.3L167.6 178.5L166.1 176.6L162.3 179.5Z" fill="#5f4891" stroke="#5f4891"/>
<path d="M185.9 185.2L189.6 182.7L188.0 181.1L184.3 183.6Z" fill="#64418e" stroke="#64418e"/>
<path d="M157.0 180.7L160.8 177.7L159.3 175.8L155.5 178.8Z" fill="#5e4a92" stroke="#5e4a92"/>
<path d="M179.1 184.5L182.8 181.9L181.2 180.2L177.5 182.8Z" fill="#63438f" stroke="#63438f"/>
<path d="M201.2 188.2L204.7 185.9L203.1 184.3L199.6 186.7Z" fill="#673b8a" stroke="#673b8a"/>
<path d="M172.3 183.8L176.0 181.1L174.4 179.3L170.7 182.0Z" fill="#614590" stroke="#614590"/>
<path d="M194.4 187.5L197.9 185.1L196.3 183.5L192.8 185.9Z" fill="#663d8c" stroke="#663d8c"/>
<path d="M165.4 183.1L169.2 180.3L167.6 178.5L163.9 181.3Z" fill="#604690" stroke="#604690"/>
<path d="M187.5 186.8L191.2 184.3L189.6 182.7L185.9 185.2Z" fill="#65408e" stroke="#65408e"/>
<path d="M158.5 182.5L162.3 179.5L160.8 177.7L157.0 180.7Z" fill="#5f4891" stroke="#5f4891"/>
<path d="M180.7 186.1L184.3 183.6L182.8 181.9L179.1 184.5Z" fill="#64418f" stroke="#64418f"/>
<path d="M202.8 189.7L206.3 187.4L204.7 185.9L201.2 188.2Z" fill="#683a88" stroke="#683a88"/>
<path d="M173.8 185.5L177.5 182.8L176.0 181.1L172.3 183.8Z" fill="#62438f" stroke="#62438f"/>
<path d="M196.0 189.1L199.6 186.7L197.9 185.1L194.4 187.5Z" fill="#673c8a" stroke="#673c8a"/>
<path d="M166.9 184.8L170.7 182.0L169.2 180.3L165.4 183.1Z" fill="#614590" stroke="#614590"/>
<path d="M189.1 188.4L192.8 185.9L191.2 184.3L187.5 186.8Z" fill="#663e8c" stroke="#663e8c"/>
<path d="M160.0 184.3L163.9 181.3L162.3 179.5L158.5 182.5Z" fill="#604690" stroke="#604690"/>
<path d="M182.3 187.8L185.9 185.2L184.3 183.6L180.7 186.1Z" fill="#64408e" stroke="#64408e"/>
<path d="M175.4 187.1L179.1 184.5L177.5 182.8L173.8 185.5Z" fill="#63428f" stroke="#63428f"/>
<path d="M197.6 190.6L201.2 188.2L199.6 186.7L196.0 189.1Z" fill="#683b89" stroke="#683b89"/>
<path d="M168.5 186.5L172.3 183.8L170.7 182.0L166.9 184.8Z" fill="#62438f" stroke="#62438f"/>
<path d="M190.7 190.0L194.4 187.5L192.8 185.9L189.1 188.4Z" fill="#663d8b" stroke="#663d8b"/>
<path d="M161.6 186.0L165.4 183.1L163.9 181.3L160.0 184.3Z" fill="#614590" stroke="#614590"/>
<path d="M183.8 189.4L187.5 186.8L185.9 185.2L182.3 187.8Z" fill="#653f8d" stroke="#653f8d"/>
<path d="M176.9 188.8L180.7 186.1L179.1 184.5L175.4 187.1Z" fill="#64408e" stroke="#64408e"/>
<path d="M199.3 192.1L202.8 189.7L201.2 188.2L197.6 190.6Z" fill="#683988" stroke="#683988"/>
<path d="M170.0 188.2L173.8 185.5L172.3 183.8L168.5 186.5Z" fill="#63428f" stroke="#63428f"/>
<path d="M192.4 191.6L196.0 189.1L194.4 187.5L190.7 190.0Z" fill="#673b8a" stroke="#673b8a"/>
<path d="M163.1 187.7L166.9 184.8L165.4 183.1L161.6 186.0Z" fill="#62438f" stroke="#62438f"/>
<path d="M185.4 191.0L189.1 188.4L187.5 186.8L183.8 189.4Z" fill="#663d8b" stroke="#663d8b"/>
<path d="M178.5 190.4L182.3 187.8L180.7 186.1L176.9 188.8Z" fill="#653f8d" stroke="#653f8d"/>
<path d="M171.6 189.9L175.4 187.1L173.8 185.5L170.0 188.2Z" fill="#64418e" stroke="#64418e"/>
<path d="M194.0 193.1L197.6 190.6L196.0 189.1L192.4 191.6Z" fill="#683a88" stroke="#683a88"/>
<path d="M164.6 189.4L168.5 186.5L166.9 184.8L163.1 187.7Z" fill="#63428f" stroke="#63428f"/>
<path d="M187.1 192.6L190.7 190.0L189.1 188.4L185.4 191.0Z" fill="#673c8a" stroke="#673c8a"/>
<path d="M180.1 192.0L183.8 189.4L182.3 187.8L178.5 190.4Z" fill="#663d8c" stroke="#663d8c"/>
<path d="M173.2 191.5L176.9 188.8L175.4 187.1L171.6 189.9Z" fill="#653f8d" stroke="#653f8d"/>
<path d="M195.6 194.6L199.3 192.1L197.6 190.6L194.0 193.1Z" fill="#693987" stroke="#693987"/>
<path d="M166.2 191.1L170.0 188.2L168.5 186.5L164.6 189.4Z" fill="#64418e" stroke="#64418e"/>
<path d="M188.7 194.1L192.4 191.6L190.7 190.0L187.1 192.6Z" fill="#683a89" stroke="#683a89"/>
<path d="M181.7 193.6L185.4 191.0L183.8 189.4L180.1 192.0Z" fill="#673c8a" stroke="#673c8a"/>
<path d="M174.8 193.2L178.5 190.4L176.9 188.8L173.2 191.5Z" fill="#663e8c" stroke="#663e8c"/>
<path d="M167.8 192.7L171.6 189.9L170.0 188.2L166.2 191.1Z" fill="#653f8d" stroke="#653f8d"/>
<path d="M190.3 195.7L194.0 193.1L192.4 191.6L188.7 194.1Z" fill="#693988" stroke="#693988"/>
<path d="M183.3 195.2L187.1 192.6L185.4 191.0L181.7 193.6Z" fill="#683b89" stroke="#683b89"/>
<path d="M176.3 194.8L180.1 192.0L178.5 190.4L174.8 193.2Z" fill="#673c8a" stroke="#673c8a"/>
<path d="M169.3 194.4L173.2 191.5L171.6 189.9L167.8 192.7Z" fill="#663e8c" stroke="#663e8c"/>
<path d="M192.0 197.2L195.6 194.6L194.0 193.1L190.3 195.7Z" fill="#693887" stroke="#693887"/>
<path d="M185.0 196.8L188.7 194.1L187.1 192.6L183.3 195.2Z" fill="#683988" stroke="#683988"/>
<path d="M177.9 196.3L181.7 193.6L180.1 192.0L176.3 194.8Z" fill="#683b89" stroke="#683b89"/>
<path d="M170.9 196.0L174.8 193.2L173.2 191.5L169.3 194.4Z" fill="#673c8a" stroke="#673c8a"/>
<path d="M186.6 198.3L190.3 195.7L188.7 194.1L185.0 196.8Z" fill="#693887" stroke="#693887"/>
<path d="M179.6 197.9L183.3 195.2L181.7 193.6L177.9 196.3Z" fill="#683a88" stroke="#683a88"/>
<path d="M172.5 197.6L176.3 194.8L174.8 193.2L170.9 196.0Z" fill="#683b89" stroke="#683b89"/>
<path d="M188.2 199.8L192.0 197.2L190.3 195.7L186.6 198.3Z" fill="#6a3786" stroke="#6a3786"/>
<path d="M181.2 199.5L185.0 196.8L183.3 195.2L179.6 197.9Z" fill="#693887" stroke="#693887"/>
<path d="M174.1 199.1L177.9 196.3L176.3 194.8L172.5 197.6Z" fill="#683a88" stroke="#683a88"/>
<path d="M182.8 201.0L186.6 198.3L185.0 196.8L181.2 199.5Z" fill="#6a3786" stroke="#6a3786"/>
<path d="M175.7 200.7L179.6 197.9L177.9 196.3L174.1 199.1Z" fill="#693887" stroke="#693887"/>
<path d="M184.5 202.5L188.2 199.8L186.6 198.3L182.8 201.0Z" fill="#6a3685" stroke="#6a3685"/>
<path d="M177.4 202.3L181.2 199.5L179.6 197.9L175.7 200.7Z" fill="#6a3786" stroke="#6a3786"/>
<path d="M179.0 203.8L182.8 201.0L181.2 199.5L177.4 202.3Z" fill="#6a3685" stroke="#6a3685"/>
<path d="M180.6 205.3L184.5 202.5L182.8 201.0L179.0 203.8Z" fill="#6b3584" stroke="#6b3584"/>
</g>

<circle cx="137.3" cy="57.7" r="2.6" fill="#000"/>
<circle cx="121.3" cy="80.4" r="2.6" fill="#000"/>
<circle cx="177.2" cy="70.8" r="2.6" fill="#000"/>
<circle cx="210.5" cy="84.2" r="2.6" fill="#000"/>
<circle cx="158.3" cy="90.2" r="2.6" fill="#000"/>
<circle cx="181.8" cy="93.9" r="2.6" fill="#000"/>
<circle cx="151.4" cy="108.0" r="2.6" fill="#000"/>
<circle cx="184.8" cy="107.2" r="2.6" fill="#000"/>
<circle cx="192.6" cy="107.2" r="2.6" fill="#000"/>
<circle cx="156.9" cy="117.5" r="2.6" fill="#000"/>
<circle cx="159.0" cy="117.5" r="2.6" fill="#000"/>
<circle cx="141.3" cy="124.2" r="2.6" fill="#000"/>
<circle cx="147.4" cy="125.5" r="2.6" fill="#000"/>
<circle cx="145.0" cy="128.5" r="2.6" fill="#000"/>
<circle cx="198.8" cy="133.9" r="2.6" fill="#000"/>
<circle cx="167.9" cy="157.7" r="2.6" fill="#000"/>
<circle cx="205.3" cy="154.2" r="2.6" fill="#000"/>
<circle cx="221.7" cy="169.4" r="2.6" fill="#000"/>
<circle cx="226.1" cy="166.4" r="2.6" fill="#000"/>
<circle cx="230.8" cy="164.7" r="2.6" fill="#000"/>
<circle cx="164.4" cy="189.3" r="2.6" fill="#000"/>
<circle cx="198.3" cy="185.8" r="2.6" fill="#000"/>
<circle cx="206.5" cy="188.1" r="2.6" fill="#000"/>
<text transform="translate(22.2 42.4) rotate(-16.0)" font-size="8.8" text-anchor="middle" dominant-baseline="central" >50</text>
<text transform="translate(27.2 68.6) rotate(-16.0)" font-size="8.8" text-anchor="middle" dominant-baseline="central" >40</text>
<text transform="translate(30.8 93.8) rotate(-16.0)" font-size="8.8" text-anchor="middle" dominant-baseline="central" >30</text>
<text transform="translate(34.6 117.3) rotate(-16.0)" font-size="8.8" text-anchor="middle" dominant-baseline="central" >20</text>
<text transform="translate(37.1 140.1) rotate(-16.0)" font-size="8.8" text-anchor="middle" dominant-baseline="central" >10</text>
<text transform="translate(37.8 162.8) rotate(-30.0)" font-size="8.8" text-anchor="middle" dominant-baseline="central" >50</text>
<text transform="translate(55.0 176.7) rotate(-30.0)" font-size="8.8" text-anchor="middle" dominant-baseline="central" >40</text>
<text transform="translate(73.1 192.3) rotate(-30.0)" font-size="8.8" text-anchor="middle" dominant-baseline="central" >30</text>
<text transform="translate(92.3 210.2) rotate(-30.0)" font-size="8.8" text-anchor="middle" dominant-baseline="central" >20</text>
<text transform="translate(114.0 229.6) rotate(-30.0)" font-size="8.8" text-anchor="middle" dominant-baseline="central" >10</text>
<text transform="translate(137.5 251.8) rotate(-30.0)" font-size="8.8" text-anchor="middle" dominant-baseline="central" >0</text>
<text transform="translate(159.7 252.8) rotate(39.0)" font-size="8.8" text-anchor="middle" dominant-baseline="central" >0</text>
<text transform="translate(189.2 233.4) rotate(39.0)" font-size="8.8" text-anchor="middle" dominant-baseline="central" >10</text>
<text transform="translate(214.9 215.8) rotate(39.0)" font-size="8.8" text-anchor="middle" dominant-baseline="central" >20</text>
<text transform="translate(238.4 198.6) rotate(39.0)" font-size="8.8" text-anchor="middle" dominant-baseline="central" >30</text>
<text transform="translate(259.0 184.2) rotate(39.0)" font-size="8.8" text-anchor="middle" dominant-baseline="central" >40</text>
<text transform="translate(279.5 170.4) rotate(39.0)" font-size="8.8" text-anchor="middle" dominant-baseline="central" >50</text>
<text transform="translate(66.8 209.5) rotate(43.8)" font-size="9.4" text-anchor="middle" dominant-baseline="central" >Soil Temperature (°C)</text>
<text transform="translate(241.5 216.8) rotate(-35.4)" font-size="9.2" text-anchor="middle" dominant-baseline="central" >Soil volumetric water content (m<tspan font-size="5.8" dy="-3">3</tspan><tspan dy="3"> m</tspan><tspan font-size="5.8" dy="-3">−3</tspan><tspan dy="3">)</tspan></text>
<text transform="translate(18.6 111.0) rotate(80.1)" font-size="11.0" text-anchor="middle" dominant-baseline="central" >R<tspan font-size="7.4" dy="2.2">S</tspan><tspan dy="-2.2"> (µg C cm</tspan><tspan font-size="5.8" dy="-3">−2</tspan><tspan dy="3"> hr</tspan><tspan font-size="5.8" dy="-3">−1</tspan><tspan dy="3">)</tspan></text>
<text x="-1.5" y="22.7" font-size="31" fill="#000">(a)</text>
</g>
<g id="panel-b">
<line x1="538.8" y1="243.4" x2="428.0" y2="158.8" stroke="#7c7c7c" stroke-width="0.55"/>
<line x1="538.8" y1="243.4" x2="647.1" y2="158.8" stroke="#7c7c7c" stroke-width="0.55"/>
<line x1="428.0" y1="158.8" x2="410.3" y2="41.4" stroke="#7c7c7c" stroke-width="0.55"/>
<line x1="647.1" y1="158.8" x2="664.4" y2="41.7" stroke="#7c7c7c" stroke-width="0.55"/>
<line x1="565.1" y1="222.9" x2="453.5" y2="146.2" stroke="#7c7c7c" stroke-width="0.55"/>
<line x1="511.9" y1="222.9" x2="621.4" y2="146.2" stroke="#7c7c7c" stroke-width="0.55"/>
<line x1="453.5" y1="146.2" x2="440.6" y2="32.7" stroke="#7c7c7c" stroke-width="0.55"/>
<line x1="424.8" y1="138.0" x2="536.9" y2="86.7" stroke="#7c7c7c" stroke-width="0.55"/>
<line x1="621.4" y1="146.2" x2="633.9" y2="32.9" stroke="#7c7c7c" stroke-width="0.55"/>
<line x1="650.2" y1="138.1" x2="536.9" y2="86.7" stroke="#7c7c7c" stroke-width="0.55"/>
<line x1="588.8" y1="204.4" x2="476.9" y2="134.6" stroke="#7c7c7c" stroke-width="0.55"/>
<line x1="487.7" y1="204.4" x2="597.7" y2="134.6" stroke="#7c7c7c" stroke-width="0.55"/>
<line x1="476.9" y1="134.6" x2="468.0" y2="24.7" stroke="#7c7c7c" stroke-width="0.55"/>
<line x1="421.5" y1="116.0" x2="536.9" y2="67.7" stroke="#7c7c7c" stroke-width="0.55"/>
<line x1="597.7" y1="134.6" x2="606.2" y2="24.9" stroke="#7c7c7c" stroke-width="0.55"/>
<line x1="653.4" y1="116.1" x2="536.9" y2="67.7" stroke="#7c7c7c" stroke-width="0.55"/>
<line x1="610.1" y1="187.7" x2="498.5" y2="123.9" stroke="#7c7c7c" stroke-width="0.55"/>
<line x1="465.9" y1="187.8" x2="575.9" y2="124.0" stroke="#7c7c7c" stroke-width="0.55"/>
<line x1="498.5" y1="123.9" x2="492.9" y2="17.5" stroke="#7c7c7c" stroke-width="0.55"/>
<line x1="418.0" y1="92.6" x2="536.8" y2="47.7" stroke="#7c7c7c" stroke-width="0.55"/>
<line x1="575.9" y1="124.0" x2="581.0" y2="17.6" stroke="#7c7c7c" stroke-width="0.55"/>
<line x1="656.9" y1="92.8" x2="536.8" y2="47.7" stroke="#7c7c7c" stroke-width="0.55"/>
<line x1="629.5" y1="172.6" x2="518.4" y2="114.1" stroke="#7c7c7c" stroke-width="0.55"/>
<line x1="446.0" y1="172.6" x2="555.7" y2="114.1" stroke="#7c7c7c" stroke-width="0.55"/>
<line x1="518.4" y1="114.1" x2="515.8" y2="10.9" stroke="#7c7c7c" stroke-width="0.55"/>
<line x1="414.3" y1="67.8" x2="536.8" y2="26.8" stroke="#7c7c7c" stroke-width="0.55"/>
<line x1="555.7" y1="114.1" x2="557.9" y2="10.9" stroke="#7c7c7c" stroke-width="0.55"/>
<line x1="660.5" y1="68.0" x2="536.8" y2="26.8" stroke="#7c7c7c" stroke-width="0.55"/>
<line x1="647.1" y1="158.8" x2="536.9" y2="104.9" stroke="#7c7c7c" stroke-width="0.55"/>
<line x1="428.0" y1="158.8" x2="536.9" y2="104.9" stroke="#7c7c7c" stroke-width="0.55"/>
<line x1="536.9" y1="104.9" x2="536.7" y2="4.8" stroke="#7c7c7c" stroke-width="0.55"/>
<line x1="410.3" y1="41.4" x2="536.7" y2="4.8" stroke="#7c7c7c" stroke-width="0.55"/>
<line x1="664.4" y1="41.7" x2="536.7" y2="4.8" stroke="#7c7c7c" stroke-width="0.55"/>
<line x1="538.8" y1="243.4" x2="536.4" y2="245.3" stroke="#7c7c7c" stroke-width="0.55"/>
<line x1="538.8" y1="243.4" x2="541.2" y2="245.3" stroke="#7c7c7c" stroke-width="0.55"/>
<line x1="511.9" y1="222.9" x2="509.4" y2="224.6" stroke="#7c7c7c" stroke-width="0.55"/>
<line x1="565.1" y1="222.9" x2="567.6" y2="224.6" stroke="#7c7c7c" stroke-width="0.55"/>
<line x1="487.7" y1="204.4" x2="485.2" y2="206.0" stroke="#7c7c7c" stroke-width="0.55"/>
<line x1="588.8" y1="204.4" x2="591.3" y2="206.0" stroke="#7c7c7c" stroke-width="0.55"/>
<line x1="465.9" y1="187.8" x2="463.3" y2="189.3" stroke="#7c7c7c" stroke-width="0.55"/>
<line x1="610.1" y1="187.7" x2="612.7" y2="189.2" stroke="#7c7c7c" stroke-width="0.55"/>
<line x1="446.0" y1="172.6" x2="443.4" y2="174.0" stroke="#7c7c7c" stroke-width="0.55"/>
<line x1="629.5" y1="172.6" x2="632.1" y2="174.0" stroke="#7c7c7c" stroke-width="0.55"/>
<line x1="428.0" y1="158.8" x2="425.3" y2="160.2" stroke="#7c7c7c" stroke-width="0.55"/>
<line x1="647.1" y1="158.8" x2="649.8" y2="160.2" stroke="#7c7c7c" stroke-width="0.55"/>
<circle cx="522.5" cy="101.4" r="2.6" fill="#000"/>
<circle cx="522.3" cy="113.3" r="2.6" fill="#000"/>
<circle cx="511.4" cy="119.0" r="2.6" fill="#000"/>
<circle cx="537.0" cy="132.4" r="2.6" fill="#000"/>
<circle cx="577.5" cy="137.2" r="2.6" fill="#000"/>
<circle cx="557.6" cy="144.0" r="2.6" fill="#000"/>
<circle cx="560.6" cy="142.5" r="2.6" fill="#000"/>
<circle cx="565.4" cy="143.2" r="2.6" fill="#000"/>
<circle cx="542.0" cy="152.5" r="2.6" fill="#000"/>
<circle cx="530.5" cy="161.3" r="2.6" fill="#000"/>
<circle cx="528.7" cy="165.1" r="2.6" fill="#000"/>
<circle cx="588.8" cy="168.9" r="2.6" fill="#000"/>
<circle cx="592.8" cy="174.1" r="2.6" fill="#000"/>
<circle cx="587.7" cy="176.4" r="2.6" fill="#000"/>
<circle cx="584.6" cy="180.6" r="2.6" fill="#000"/>
<circle cx="579.9" cy="171.7" r="2.6" fill="#000"/>
<circle cx="576.4" cy="172.2" r="2.6" fill="#000"/>
<circle cx="574.7" cy="174.5" r="2.6" fill="#000"/>
<circle cx="571.2" cy="179.9" r="2.6" fill="#000"/>
<circle cx="574.0" cy="178.8" r="2.6" fill="#000"/>
<circle cx="573.6" cy="183.5" r="2.6" fill="#000"/>
<g opacity="0.77" stroke-width="0.7" stroke-linejoin="round">
<path d="M557.8 99.2L560.4 100.9L558.9 98.3L556.4 96.3Z" fill="#3e7c96" stroke="#3e7c96"/>
<path d="M559.3 101.9L561.8 103.5L560.4 100.9L557.8 99.2Z" fill="#417897" stroke="#417897"/>
<path d="M555.3 97.6L557.8 99.2L556.4 96.3L553.8 94.5Z" fill="#3a8495" stroke="#3a8495"/>
<path d="M560.7 104.6L563.2 105.9L561.8 103.5L559.3 101.9Z" fill="#437398" stroke="#437398"/>
<path d="M556.7 100.6L559.3 101.9L557.8 99.2L555.3 97.6Z" fill="#3d7e96" stroke="#3d7e96"/>
<path d="M562.2 107.1L564.7 108.3L563.2 105.9L560.7 104.6Z" fill="#466f99" stroke="#466f99"/>
<path d="M552.6 96.3L555.3 97.6L553.8 94.5L551.2 93.0Z" fill="#368a93" stroke="#368a93"/>
<path d="M558.2 103.4L560.7 104.6L559.3 101.9L556.7 100.6Z" fill="#407a97" stroke="#407a97"/>
<path d="M563.6 109.5L566.1 110.5L564.7 108.3L562.2 107.1Z" fill="#486b99" stroke="#486b99"/>
<path d="M554.1 99.4L556.7 100.6L555.3 97.6L552.6 96.3Z" fill="#398594" stroke="#398594"/>
<path d="M559.6 106.1L562.2 107.1L560.7 104.6L558.2 103.4Z" fill="#427597" stroke="#427597"/>
<path d="M565.1 111.9L567.6 112.7L566.1 110.5L563.6 109.5Z" fill="#4b679a" stroke="#4b679a"/>
<path d="M549.9 95.2L552.6 96.3L551.2 93.0L548.5 91.7Z" fill="#358f91" stroke="#358f91"/>
<path d="M555.5 102.4L558.2 103.4L556.7 100.6L554.1 99.4Z" fill="#3c7f95" stroke="#3c7f95"/>
<path d="M561.1 108.7L563.6 109.5L562.2 107.1L559.6 106.1Z" fill="#457198" stroke="#457198"/>
<path d="M566.6 114.1L569.0 114.8L567.6 112.7L565.1 111.9Z" fill="#4d649b" stroke="#4d649b"/>
<path d="M551.4 98.5L554.1 99.4L552.6 96.3L549.9 95.2Z" fill="#368a93" stroke="#368a93"/>
<path d="M557.0 105.3L559.6 106.1L558.2 103.4L555.5 102.4Z" fill="#3f7a96" stroke="#3f7a96"/>
<path d="M562.5 111.2L565.1 111.9L563.6 109.5L561.1 108.7Z" fill="#476d99" stroke="#476d99"/>
<path d="M568.0 116.2L570.5 116.8L569.0 114.8L566.6 114.1Z" fill="#4f609a" stroke="#4f609a"/>
<path d="M547.2 94.4L549.9 95.2L548.5 91.7L545.7 90.7Z" fill="#359490" stroke="#359490"/>
<path d="M552.9 101.7L555.5 102.4L554.1 99.4L551.4 98.5Z" fill="#398594" stroke="#398594"/>
<path d="M558.5 108.0L561.1 108.7L559.6 106.1L557.0 105.3Z" fill="#427697" stroke="#427697"/>
<path d="M564.0 113.5L566.6 114.1L565.1 111.9L562.5 111.2Z" fill="#4a699a" stroke="#4a699a"/>
<path d="M569.5 118.3L572.0 118.7L570.5 116.8L568.0 116.2Z" fill="#515d99" stroke="#515d99"/>
<path d="M548.7 97.8L551.4 98.5L549.9 95.2L547.2 94.4Z" fill="#358f92" stroke="#358f92"/>
<path d="M554.4 104.7L557.0 105.3L555.5 102.4L552.9 101.7Z" fill="#3c7f95" stroke="#3c7f95"/>
<path d="M560.0 110.6L562.5 111.2L561.1 108.7L558.5 108.0Z" fill="#457198" stroke="#457198"/>
<path d="M565.5 115.8L568.0 116.2L566.6 114.1L564.0 113.5Z" fill="#4c659b" stroke="#4c659b"/>
<path d="M571.0 120.3L573.5 120.6L572.0 118.7L569.5 118.3Z" fill="#535a98" stroke="#535a98"/>
<path d="M544.4 93.8L547.2 94.4L545.7 90.7L542.9 90.0Z" fill="#34988e" stroke="#34988e"/>
<path d="M550.2 101.1L552.9 101.7L551.4 98.5L548.7 97.8Z" fill="#368993" stroke="#368993"/>
<path d="M555.8 107.6L558.5 108.0L557.0 105.3L554.4 104.7Z" fill="#3f7a96" stroke="#3f7a96"/>
<path d="M561.4 113.2L564.0 113.5L562.5 111.2L560.0 110.6Z" fill="#476d99" stroke="#476d99"/>
<path d="M567.0 118.0L569.5 118.3L568.0 116.2L565.5 115.8Z" fill="#4e629a" stroke="#4e629a"/>
<path d="M572.5 122.2L575.0 122.4L573.5 120.6L571.0 120.3Z" fill="#555797" stroke="#555797"/>
<path d="M545.9 97.4L548.7 97.8L547.2 94.4L544.4 93.8Z" fill="#359390" stroke="#359390"/>
<path d="M551.7 104.3L554.4 104.7L552.9 101.7L550.2 101.1Z" fill="#398494" stroke="#398494"/>
<path d="M557.3 110.3L560.0 110.6L558.5 108.0L555.8 107.6Z" fill="#427697" stroke="#427697"/>
<path d="M562.9 115.6L565.5 115.8L564.0 113.5L561.4 113.2Z" fill="#49699a" stroke="#49699a"/>
<path d="M568.5 120.1L571.0 120.3L569.5 118.3L567.0 118.0Z" fill="#505e99" stroke="#505e99"/>
<path d="M574.0 124.1L576.5 124.2L575.0 122.4L572.5 122.2Z" fill="#575596" stroke="#575596"/>
<path d="M541.6 93.4L544.4 93.8L542.9 90.0L540.1 89.5Z" fill="#349c8d" stroke="#349c8d"/>
<path d="M547.4 100.8L550.2 101.1L548.7 97.8L545.9 97.4Z" fill="#358d92" stroke="#358d92"/>
<path d="M553.1 107.3L555.8 107.6L554.4 104.7L551.7 104.3Z" fill="#3d7f95" stroke="#3d7f95"/>
<path d="M558.8 112.9L561.4 113.2L560.0 110.6L557.3 110.3Z" fill="#457198" stroke="#457198"/>
<path d="M564.4 117.9L567.0 118.0L565.5 115.8L562.9 115.6Z" fill="#4c669a" stroke="#4c669a"/>
<path d="M570.0 122.2L572.5 122.2L571.0 120.3L568.5 120.1Z" fill="#525b98" stroke="#525b98"/>
<path d="M575.5 125.9L578.0 125.9L576.5 124.2L574.0 124.1Z" fill="#585295" stroke="#585295"/>
<path d="M543.1 97.2L545.9 97.4L544.4 93.8L541.6 93.4Z" fill="#34968f" stroke="#34968f"/>
<path d="M548.9 104.1L551.7 104.3L550.2 101.1L547.4 100.8Z" fill="#378894" stroke="#378894"/>
<path d="M554.6 110.1L557.3 110.3L555.8 107.6L553.1 107.3Z" fill="#3f7a96" stroke="#3f7a96"/>
<path d="M560.3 115.5L562.9 115.6L561.4 113.2L558.8 112.9Z" fill="#476d99" stroke="#476d99"/>
<path d="M565.9 120.1L568.5 120.1L567.0 118.0L564.4 117.9Z" fill="#4e629b" stroke="#4e629b"/>
<path d="M571.5 124.2L574.0 124.1L572.5 122.2L570.0 122.2Z" fill="#545897" stroke="#545897"/>
<path d="M577.0 127.7L579.5 127.5L578.0 125.9L575.5 125.9Z" fill="#5a5094" stroke="#5a5094"/>
<path d="M538.7 93.4L541.6 93.4L540.1 89.5L537.2 89.3Z" fill="#339f8c" stroke="#339f8c"/>
<path d="M544.6 100.7L547.4 100.8L545.9 97.4L543.1 97.2Z" fill="#359091" stroke="#359091"/>
<path d="M550.4 107.2L553.1 107.3L551.7 104.3L548.9 104.1Z" fill="#3a8295" stroke="#3a8295"/>
<path d="M556.1 112.9L558.8 112.9L557.3 110.3L554.6 110.1Z" fill="#427597" stroke="#427597"/>
<path d="M561.8 117.9L564.4 117.9L562.9 115.6L560.3 115.5Z" fill="#49699a" stroke="#49699a"/>
<path d="M567.4 122.3L570.0 122.2L568.5 120.1L565.9 120.1Z" fill="#505f99" stroke="#505f99"/>
<path d="M573.0 126.1L575.5 125.9L574.0 124.1L571.5 124.2Z" fill="#565696" stroke="#565696"/>
<path d="M578.5 129.4L581.0 129.1L579.5 127.5L577.0 127.7Z" fill="#5b4e93" stroke="#5b4e93"/>
<path d="M540.2 97.2L543.1 97.2L541.6 93.4L538.7 93.4Z" fill="#34998e" stroke="#34998e"/>
<path d="M546.1 104.1L548.9 104.1L547.4 100.8L544.6 100.7Z" fill="#368b93" stroke="#368b93"/>
<path d="M551.9 110.2L554.6 110.1L553.1 107.3L550.4 107.2Z" fill="#3d7d96" stroke="#3d7d96"/>
<path d="M557.6 115.5L560.3 115.5L558.8 112.9L556.1 112.9Z" fill="#457198" stroke="#457198"/>
<path d="M563.3 120.2L565.9 120.1L564.4 117.9L561.8 117.9Z" fill="#4c669a" stroke="#4c669a"/>
<path d="M568.9 124.3L571.5 124.2L570.0 122.2L567.4 122.3Z" fill="#525c98" stroke="#525c98"/>
<path d="M574.5 127.9L577.0 127.7L575.5 125.9L573.0 126.1Z" fill="#585395" stroke="#585395"/>
<path d="M580.0 131.0L582.5 130.7L581.0 129.1L578.5 129.4Z" fill="#5d4c92" stroke="#5d4c92"/>
<path d="M535.8 93.6L538.7 93.4L537.2 89.3L534.2 89.5Z" fill="#33a28b" stroke="#33a28b"/>
<path d="M541.7 100.9L544.6 100.7L543.1 97.2L540.2 97.2Z" fill="#359390" stroke="#359390"/>
<path d="M547.6 107.3L550.4 107.2L548.9 104.1L546.1 104.1Z" fill="#388694" stroke="#388694"/>
<path d="M553.4 113.0L556.1 112.9L554.6 110.1L551.9 110.2Z" fill="#407997" stroke="#407997"/>
<path d="M559.1 118.1L561.8 117.9L560.3 115.5L557.6 115.5Z" fill="#476d99" stroke="#476d99"/>
<path d="M564.8 122.5L567.4 122.3L565.9 120.1L563.3 120.2Z" fill="#4e629b" stroke="#4e629b"/>
<path d="M570.4 126.3L573.0 126.1L571.5 124.2L568.9 124.3Z" fill="#545997" stroke="#545997"/>
<path d="M576.0 129.7L578.5 129.4L577.0 127.7L574.5 127.9Z" fill="#595194" stroke="#595194"/>
<path d="M581.6 132.6L584.0 132.2L582.5 130.7L580.0 131.0Z" fill="#5e4a92" stroke="#5e4a92"/>
<path d="M537.3 97.6L540.2 97.2L538.7 93.4L535.8 93.6Z" fill="#349b8d" stroke="#349b8d"/>
<path d="M543.3 104.4L546.1 104.1L544.6 100.7L541.7 100.9Z" fill="#358e92" stroke="#358e92"/>
<path d="M549.1 110.4L551.9 110.2L550.4 107.2L547.6 107.3Z" fill="#3c8095" stroke="#3c8095"/>
<path d="M554.9 115.8L557.6 115.5L556.1 112.9L553.4 113.0Z" fill="#437498" stroke="#437498"/>
<path d="M560.6 120.5L563.3 120.2L561.8 117.9L559.1 118.1Z" fill="#4a699a" stroke="#4a699a"/>
<path d="M566.3 124.6L568.9 124.3L567.4 122.3L564.8 122.5Z" fill="#505f99" stroke="#505f99"/>
<path d="M571.9 128.3L574.5 127.9L573.0 126.1L570.4 126.3Z" fill="#565696" stroke="#565696"/>
<path d="M577.5 131.4L580.0 131.0L578.5 129.4L576.0 129.7Z" fill="#5b4f93" stroke="#5b4f93"/>
<path d="M583.1 134.2L585.6 133.7L584.0 132.2L581.6 132.6Z" fill="#5f4891" stroke="#5f4891"/>
<path d="M532.8 94.1L535.8 93.6L534.2 89.5L531.3 89.9Z" fill="#34a38a" stroke="#34a38a"/>
<path d="M538.8 101.3L541.7 100.9L540.2 97.2L537.3 97.6Z" fill="#34958f" stroke="#34958f"/>
<path d="M544.8 107.7L547.6 107.3L546.1 104.1L543.3 104.4Z" fill="#378994" stroke="#378994"/>
<path d="M550.6 113.4L553.4 113.0L551.9 110.2L549.1 110.4Z" fill="#3f7b96" stroke="#3f7b96"/>
<path d="M556.4 118.4L559.1 118.1L557.6 115.5L554.9 115.8Z" fill="#467098" stroke="#467098"/>
<path d="M562.1 122.8L564.8 122.5L563.3 120.2L560.6 120.5Z" fill="#4c659b" stroke="#4c659b"/>
<path d="M567.8 126.7L570.4 126.3L568.9 124.3L566.3 124.6Z" fill="#525c98" stroke="#525c98"/>
<path d="M573.5 130.1L576.0 129.7L574.5 127.9L571.9 128.3Z" fill="#575495" stroke="#575495"/>
<path d="M579.1 133.1L581.6 132.6L580.0 131.0L577.5 131.4Z" fill="#5c4c93" stroke="#5c4c93"/>
<path d="M584.7 135.7L587.1 135.2L585.6 133.7L583.1 134.2Z" fill="#604690" stroke="#604690"/>
<path d="M534.4 98.2L537.3 97.6L535.8 93.6L532.8 94.1Z" fill="#349d8d" stroke="#349d8d"/>
<path d="M540.4 104.9L543.3 104.4L541.7 100.9L538.8 101.3Z" fill="#359091" stroke="#359091"/>
<path d="M546.3 110.9L549.1 110.4L547.6 107.3L544.8 107.7Z" fill="#3a8395" stroke="#3a8395"/>
<path d="M552.1 116.2L554.9 115.8L553.4 113.0L550.6 113.4Z" fill="#417797" stroke="#417797"/>
<path d="M557.9 120.9L560.6 120.5L559.1 118.1L556.4 118.4Z" fill="#486c99" stroke="#486c99"/>
<path d="M563.7 125.1L566.3 124.6L564.8 122.5L562.1 122.8Z" fill="#4e629b" stroke="#4e629b"/>
<path d="M569.3 128.7L571.9 128.3L570.4 126.3L567.8 126.7Z" fill="#545997" stroke="#545997"/>
<path d="M575.0 131.9L577.5 131.4L576.0 129.7L573.5 130.1Z" fill="#595194" stroke="#595194"/>
<path d="M580.6 134.8L583.1 134.2L581.6 132.6L579.1 133.1Z" fill="#5e4a92" stroke="#5e4a92"/>
<path d="M586.3 137.2L588.7 136.6L587.1 135.2L584.7 135.7Z" fill="#624490" stroke="#624490"/>
<path d="M529.8 95.0L532.8 94.1L531.3 89.9L528.2 90.7Z" fill="#35a388" stroke="#35a388"/>
<path d="M535.9 102.0L538.8 101.3L537.3 97.6L534.4 98.2Z" fill="#34978f" stroke="#34978f"/>
<path d="M541.9 108.3L544.8 107.7L543.3 104.4L540.4 104.9Z" fill="#368b93" stroke="#368b93"/>
<path d="M547.8 113.9L550.6 113.4L549.1 110.4L546.3 110.9Z" fill="#3d7e96" stroke="#3d7e96"/>
<path d="M553.7 118.9L556.4 118.4L554.9 115.8L552.1 116.2Z" fill="#447298" stroke="#447298"/>
<path d="M559.4 123.3L562.1 122.8L560.6 120.5L557.9 120.9Z" fill="#4a689a" stroke="#4a689a"/>
<path d="M565.2 127.2L567.8 126.7L566.3 124.6L563.7 125.1Z" fill="#505f99" stroke="#505f99"/>
<path d="M570.9 130.7L573.5 130.1L571.9 128.3L569.3 128.7Z" fill="#565696" stroke="#565696"/>
<path d="M576.5 133.7L579.1 133.1L577.5 131.4L575.0 131.9Z" fill="#5b4f94" stroke="#5b4f94"/>
<path d="M582.2 136.3L584.7 135.7L583.1 134.2L580.6 134.8Z" fill="#5f4991" stroke="#5f4991"/>
<path d="M587.8 138.7L590.3 138.0L588.7 136.6L586.3 137.2Z" fill="#63438f" stroke="#63438f"/>
<path d="M531.4 99.0L534.4 98.2L532.8 94.1L529.8 95.0Z" fill="#339f8c" stroke="#339f8c"/>
<path d="M537.4 105.6L540.4 104.9L538.8 101.3L535.9 102.0Z" fill="#359291" stroke="#359291"/>
<path d="M543.4 111.5L546.3 110.9L544.8 107.7L541.9 108.3Z" fill="#398594" stroke="#398594"/>
<path d="M549.3 116.8L552.1 116.2L550.6 113.4L547.8 113.9Z" fill="#407997" stroke="#407997"/>
<path d="M555.2 121.5L557.9 120.9L556.4 118.4L553.7 118.9Z" fill="#476e99" stroke="#476e99"/>
<path d="M561.0 125.6L563.7 125.1L562.1 122.8L559.4 123.3Z" fill="#4c649b" stroke="#4c649b"/>
<path d="M566.7 129.3L569.3 128.7L567.8 126.7L565.2 127.2Z" fill="#525c98" stroke="#525c98"/>
<path d="M572.4 132.6L575.0 131.9L573.5 130.1L570.9 130.7Z" fill="#575495" stroke="#575495"/>
<path d="M578.1 135.4L580.6 134.8L579.1 133.1L576.5 133.7Z" fill="#5c4d93" stroke="#5c4d93"/>
<path d="M583.8 137.9L586.3 137.2L584.7 135.7L582.2 136.3Z" fill="#604790" stroke="#604790"/>
<path d="M589.4 140.1L591.9 139.3L590.3 138.0L587.8 138.7Z" fill="#64418f" stroke="#64418f"/>
<path d="M526.8 96.1L529.8 95.0L528.2 90.7L525.2 91.8Z" fill="#35a487" stroke="#35a487"/>
<path d="M532.9 102.9L535.9 102.0L534.4 98.2L531.4 99.0Z" fill="#34988e" stroke="#34988e"/>
<path d="M539.0 109.1L541.9 108.3L540.4 104.9L537.4 105.6Z" fill="#358c92" stroke="#358c92"/>
<path d="M545.0 114.6L547.8 113.9L546.3 110.9L543.4 111.5Z" fill="#3c8095" stroke="#3c8095"/>
<path d="M550.9 119.5L553.7 118.9L552.1 116.2L549.3 116.8Z" fill="#437498" stroke="#437498"/>
<path d="M556.7 124.0L559.4 123.3L557.9 120.9L555.2 121.5Z" fill="#496a9a" stroke="#496a9a"/>
<path d="M562.5 127.9L565.2 127.2L563.7 125.1L561.0 125.6Z" fill="#4f619a" stroke="#4f619a"/>
<path d="M568.2 131.3L570.9 130.7L569.3 128.7L566.7 129.3Z" fill="#545997" stroke="#545997"/>
<path d="M574.0 134.4L576.5 133.7L575.0 131.9L572.4 132.6Z" fill="#595194" stroke="#595194"/>
<path d="M579.7 137.1L582.2 136.3L580.6 134.8L578.1 135.4Z" fill="#5d4b92" stroke="#5d4b92"/>
<path d="M585.3 139.4L587.8 138.7L586.3 137.2L583.8 137.9Z" fill="#614590" stroke="#614590"/>
<path d="M591.0 141.5L593.4 140.7L591.9 139.3L589.4 140.1Z" fill="#64408e" stroke="#64408e"/>
<path d="M528.3 100.2L531.4 99.0L529.8 95.0L526.8 96.1Z" fill="#339f8c" stroke="#339f8c"/>
<path d="M534.5 106.6L537.4 105.6L535.9 102.0L532.9 102.9Z" fill="#359390" stroke="#359390"/>
<path d="M540.5 112.4L543.4 111.5L541.9 108.3L539.0 109.1Z" fill="#388794" stroke="#388794"/>
<path d="M546.5 117.6L549.3 116.8L547.8 113.9L545.0 114.6Z" fill="#3f7b96" stroke="#3f7b96"/>
<path d="M552.4 122.2L555.2 121.5L553.7 118.9L550.9 119.5Z" fill="#457098" stroke="#457098"/>
<path d="M558.2 126.3L561.0 125.6L559.4 123.3L556.7 124.0Z" fill="#4b669a" stroke="#4b669a"/>
<path d="M564.0 130.0L566.7 129.3L565.2 127.2L562.5 127.9Z" fill="#515e99" stroke="#515e99"/>
<path d="M569.8 133.3L572.4 132.6L570.9 130.7L568.2 131.3Z" fill="#565696" stroke="#565696"/>
<path d="M575.5 136.2L578.1 135.4L576.5 133.7L574.0 134.4Z" fill="#5b4f94" stroke="#5b4f94"/>
<path d="M581.2 138.7L583.8 137.9L582.2 136.3L579.7 137.1Z" fill="#5f4991" stroke="#5f4991"/>
<path d="M586.9 140.9L589.4 140.1L587.8 138.7L585.3 139.4Z" fill="#62448f" stroke="#62448f"/>
<path d="M592.6 142.8L595.0 142.0L593.4 140.7L591.0 141.5Z" fill="#653e8d" stroke="#653e8d"/>
<path d="M523.7 97.6L526.8 96.1L525.2 91.8L522.1 93.2Z" fill="#35a487" stroke="#35a487"/>
<path d="M529.9 104.1L532.9 102.9L531.4 99.0L528.3 100.2Z" fill="#34998e" stroke="#34998e"/>
<path d="M536.0 110.1L539.0 109.1L537.4 105.6L534.5 106.6Z" fill="#358d92" stroke="#358d92"/>
<path d="M542.1 115.5L545.0 114.6L543.4 111.5L540.5 112.4Z" fill="#3b8195" stroke="#3b8195"/>
<path d="M548.0 120.4L550.9 119.5L549.3 116.8L546.5 117.6Z" fill="#427697" stroke="#427697"/>
<path d="M553.9 124.8L556.7 124.0L555.2 121.5L552.4 122.2Z" fill="#486c99" stroke="#486c99"/>
<path d="M559.8 128.6L562.5 127.9L561.0 125.6L558.2 126.3Z" fill="#4d639b" stroke="#4d639b"/>
<path d="M565.6 132.1L568.2 131.3L566.7 129.3L564.0 130.0Z" fill="#535b98" stroke="#535b98"/>
<path d="M571.3 135.2L574.0 134.4L572.4 132.6L569.8 133.3Z" fill="#585395" stroke="#585395"/>
<path d="M577.1 137.9L579.7 137.1L578.1 135.4L575.5 136.2Z" fill="#5c4d93" stroke="#5c4d93"/>
<path d="M582.8 140.3L585.3 139.4L583.8 137.9L581.2 138.7Z" fill="#604791" stroke="#604791"/>
<path d="M588.5 142.4L591.0 141.5L589.4 140.1L586.9 140.9Z" fill="#63428f" stroke="#63428f"/>
<path d="M594.2 144.2L596.6 143.3L595.0 142.0L592.6 142.8Z" fill="#663d8b" stroke="#663d8b"/>
<path d="M525.3 101.7L528.3 100.2L526.8 96.1L523.7 97.6Z" fill="#33a08c" stroke="#33a08c"/>
<path d="M531.5 107.9L534.5 106.6L532.9 102.9L529.9 104.1Z" fill="#359390" stroke="#359390"/>
<path d="M537.6 113.5L540.5 112.4L539.0 109.1L536.0 110.1Z" fill="#378894" stroke="#378894"/>
<path d="M543.6 118.5L546.5 117.6L545.0 114.6L542.1 115.5Z" fill="#3e7c96" stroke="#3e7c96"/>
<path d="M549.6 123.1L552.4 122.2L550.9 119.5L548.0 120.4Z" fill="#447298" stroke="#447298"/>
<path d="M555.5 127.2L558.2 126.3L556.7 124.0L553.9 124.8Z" fill="#4a689a" stroke="#4a689a"/>
<path d="M561.3 130.9L564.0 130.0L562.5 127.9L559.8 128.6Z" fill="#4f609a" stroke="#4f609a"/>
<path d="M567.1 134.1L569.8 133.3L568.2 131.3L565.6 132.1Z" fill="#555897" stroke="#555897"/>
<path d="M572.9 137.0L575.5 136.2L574.0 134.4L571.3 135.2Z" fill="#595194" stroke="#595194"/>
<path d="M578.7 139.6L581.2 138.7L579.7 137.1L577.1 137.9Z" fill="#5d4b92" stroke="#5d4b92"/>
<path d="M584.4 141.8L586.9 140.9L585.3 139.4L582.8 140.3Z" fill="#614590" stroke="#614590"/>
<path d="M590.1 143.8L592.6 142.8L591.0 141.5L588.5 142.4Z" fill="#64418e" stroke="#64418e"/>
<path d="M595.8 145.5L598.3 144.5L596.6 143.3L594.2 144.2Z" fill="#673b8a" stroke="#673b8a"/>
<path d="M520.6 99.4L523.7 97.6L522.1 93.2L519.0 95.0Z" fill="#35a488" stroke="#35a488"/>
<path d="M526.9 105.7L529.9 104.1L528.3 100.2L525.3 101.7Z" fill="#34998e" stroke="#34998e"/>
<path d="M533.0 111.4L536.0 110.1L534.5 106.6L531.5 107.9Z" fill="#358e92" stroke="#358e92"/>
<path d="M539.1 116.7L542.1 115.5L540.5 112.4L537.6 113.5Z" fill="#3a8395" stroke="#3a8395"/>
<path d="M545.2 121.4L548.0 120.4L546.5 117.6L543.6 118.5Z" fill="#417897" stroke="#417897"/>
<path d="M551.1 125.7L553.9 124.8L552.4 122.2L549.6 123.1Z" fill="#476e99" stroke="#476e99"/>
<path d="M557.0 129.6L559.8 128.6L558.2 126.3L555.5 127.2Z" fill="#4c659b" stroke="#4c659b"/>
<path d="M562.9 133.0L565.6 132.1L564.0 130.0L561.3 130.9Z" fill="#525d99" stroke="#525d99"/>
<path d="M568.7 136.1L571.3 135.2L569.8 133.3L567.1 134.1Z" fill="#565596" stroke="#565596"/>
<path d="M574.5 138.8L577.1 137.9L575.5 136.2L572.9 137.0Z" fill="#5b4f93" stroke="#5b4f93"/>
<path d="M580.2 141.2L582.8 140.3L581.2 138.7L578.7 139.6Z" fill="#5f4991" stroke="#5f4991"/>
<path d="M586.0 143.3L588.5 142.4L586.9 140.9L584.4 141.8Z" fill="#62448f" stroke="#62448f"/>
<path d="M591.7 145.2L594.2 144.2L592.6 142.8L590.1 143.8Z" fill="#653f8d" stroke="#653f8d"/>
<path d="M597.5 146.8L599.9 145.8L598.3 144.5L595.8 145.5Z" fill="#683a88" stroke="#683a88"/>
<path d="M522.2 103.5L525.3 101.7L523.7 97.6L520.6 99.4Z" fill="#339f8c" stroke="#339f8c"/>
<path d="M528.4 109.4L531.5 107.9L529.9 104.1L526.9 105.7Z" fill="#359490" stroke="#359490"/>
<path d="M534.6 114.8L537.6 113.5L536.0 110.1L533.0 111.4Z" fill="#378993" stroke="#378993"/>
<path d="M540.7 119.7L543.6 118.5L542.1 115.5L539.1 116.7Z" fill="#3d7d96" stroke="#3d7d96"/>
<path d="M546.7 124.2L549.6 123.1L548.0 120.4L545.2 121.4Z" fill="#437398" stroke="#437398"/>
<path d="M552.7 128.2L555.5 127.2L553.9 124.8L551.1 125.7Z" fill="#496a9a" stroke="#496a9a"/>
<path d="M558.6 131.8L561.3 130.9L559.8 128.6L557.0 129.6Z" fill="#4e619a" stroke="#4e619a"/>
<path d="M564.4 135.1L567.1 134.1L565.6 132.1L562.9 133.0Z" fill="#535a97" stroke="#535a97"/>
<path d="M570.3 138.0L572.9 137.0L571.3 135.2L568.7 136.1Z" fill="#585395" stroke="#585395"/>
<path d="M576.1 140.5L578.7 139.6L577.1 137.9L574.5 138.8Z" fill="#5c4d93" stroke="#5c4d93"/>
<path d="M581.8 142.8L584.4 141.8L582.8 140.3L580.2 141.2Z" fill="#604791" stroke="#604791"/>
<path d="M587.6 144.8L590.1 143.8L588.5 142.4L586.0 143.3Z" fill="#63428f" stroke="#63428f"/>
<path d="M593.3 146.5L595.8 145.5L594.2 144.2L591.7 145.2Z" fill="#663d8c" stroke="#663d8c"/>
<path d="M599.1 148.1L601.5 147.0L599.9 145.8L597.5 146.8Z" fill="#693987" stroke="#693987"/>
<path d="M517.4 101.5L520.6 99.4L519.0 95.0L515.8 97.2Z" fill="#35a388" stroke="#35a388"/>
<path d="M523.8 107.5L526.9 105.7L525.3 101.7L522.2 103.5Z" fill="#34998e" stroke="#34998e"/>
<path d="M530.0 113.0L533.0 111.4L531.5 107.9L528.4 109.4Z" fill="#358e92" stroke="#358e92"/>
<path d="M536.2 118.0L539.1 116.7L537.6 113.5L534.6 114.8Z" fill="#3a8395" stroke="#3a8395"/>
<path d="M542.2 122.7L545.2 121.4L543.6 118.5L540.7 119.7Z" fill="#407997" stroke="#407997"/>
<path d="M548.2 126.9L551.1 125.7L549.6 123.1L546.7 124.2Z" fill="#466f99" stroke="#466f99"/>
<path d="M554.2 130.6L557.0 129.6L555.5 127.2L552.7 128.2Z" fill="#4b669a" stroke="#4b669a"/>
<path d="M560.1 134.0L562.9 133.0L561.3 130.9L558.6 131.8Z" fill="#505e99" stroke="#505e99"/>
<path d="M566.0 137.1L568.7 136.1L567.1 134.1L564.4 135.1Z" fill="#555796" stroke="#555796"/>
<path d="M571.8 139.8L574.5 138.8L572.9 137.0L570.3 138.0Z" fill="#5a5094" stroke="#5a5094"/>
<path d="M577.6 142.2L580.2 141.2L578.7 139.6L576.1 140.5Z" fill="#5d4b92" stroke="#5d4b92"/>
<path d="M583.4 144.4L586.0 143.3L584.4 141.8L581.8 142.8Z" fill="#614590" stroke="#614590"/>
<path d="M589.2 146.2L591.7 145.2L590.1 143.8L587.6 144.8Z" fill="#64418e" stroke="#64418e"/>
<path d="M595.0 147.9L597.5 146.8L595.8 145.5L593.3 146.5Z" fill="#673c8a" stroke="#673c8a"/>
<path d="M600.7 149.3L603.2 148.2L601.5 147.0L599.1 148.1Z" fill="#6a3786" stroke="#6a3786"/>
<path d="M519.1 105.6L522.2 103.5L520.6 99.4L517.4 101.5Z" fill="#339e8c" stroke="#339e8c"/>
<path d="M525.4 111.2L528.4 109.4L526.9 105.7L523.8 107.5Z" fill="#359390" stroke="#359390"/>
<path d="M531.6 116.4L534.6 114.8L533.0 111.4L530.0 113.0Z" fill="#368993" stroke="#368993"/>
<path d="M537.7 121.1L540.7 119.7L539.1 116.7L536.2 118.0Z" fill="#3d7e96" stroke="#3d7e96"/>
<path d="M543.8 125.5L546.7 124.2L545.2 121.4L542.2 122.7Z" fill="#437498" stroke="#437498"/>
<path d="M549.8 129.4L552.7 128.2L551.1 125.7L548.2 126.9Z" fill="#486b99" stroke="#486b99"/>
<path d="M555.8 133.0L558.6 131.8L557.0 129.6L554.2 130.6Z" fill="#4d639b" stroke="#4d639b"/>
<path d="M561.7 136.2L564.4 135.1L562.9 133.0L560.1 134.0Z" fill="#525b98" stroke="#525b98"/>
<path d="M567.6 139.0L570.3 138.0L568.7 136.1L566.0 137.1Z" fill="#575495" stroke="#575495"/>
<path d="M573.4 141.6L576.1 140.5L574.5 138.8L571.8 139.8Z" fill="#5b4e93" stroke="#5b4e93"/>
<path d="M579.2 143.9L581.8 142.8L580.2 141.2L577.6 142.2Z" fill="#5f4991" stroke="#5f4991"/>
<path d="M585.0 145.9L587.6 144.8L586.0 143.3L583.4 144.4Z" fill="#62448f" stroke="#62448f"/>
<path d="M590.8 147.6L593.3 146.5L591.7 145.2L589.2 146.2Z" fill="#653f8d" stroke="#653f8d"/>
<path d="M596.6 149.2L599.1 148.1L597.5 146.8L595.0 147.9Z" fill="#683b89" stroke="#683b89"/>
<path d="M602.4 150.6L604.8 149.4L603.2 148.2L600.7 149.3Z" fill="#6a3685" stroke="#6a3685"/>
<path d="M514.3 104.0L517.4 101.5L515.8 97.2L512.6 99.7Z" fill="#34a28a" stroke="#34a28a"/>
<path d="M520.7 109.6L523.8 107.5L522.2 103.5L519.1 105.6Z" fill="#34988f" stroke="#34988f"/>
<path d="M526.9 114.8L530.0 113.0L528.4 109.4L525.4 111.2Z" fill="#358e92" stroke="#358e92"/>
<path d="M533.2 119.6L536.2 118.0L534.6 114.8L531.6 116.4Z" fill="#3a8395" stroke="#3a8395"/>
<path d="M539.3 124.1L542.2 122.7L540.7 119.7L537.7 121.1Z" fill="#407997" stroke="#407997"/>
<path d="M545.3 128.2L548.2 126.9L546.7 124.2L543.8 125.5Z" fill="#457098" stroke="#457098"/>
<path d="M551.4 131.9L554.2 130.6L552.7 128.2L549.8 129.4Z" fill="#4b679a" stroke="#4b679a"/>
<path d="M557.3 135.2L560.1 134.0L558.6 131.8L555.8 133.0Z" fill="#505f9a" stroke="#505f9a"/>
<path d="M563.2 138.2L566.0 137.1L564.4 135.1L561.7 136.2Z" fill="#545897" stroke="#545897"/>
<path d="M569.1 140.9L571.8 139.8L570.3 138.0L567.6 139.0Z" fill="#595295" stroke="#595295"/>
<path d="M575.0 143.3L577.6 142.2L576.1 140.5L573.4 141.6Z" fill="#5d4c92" stroke="#5d4c92"/>
<path d="M580.8 145.5L583.4 144.4L581.8 142.8L579.2 143.9Z" fill="#604791" stroke="#604791"/>
<path d="M586.7 147.4L589.2 146.2L587.6 144.8L585.0 145.9Z" fill="#63428f" stroke="#63428f"/>
<path d="M592.5 149.0L595.0 147.9L593.3 146.5L590.8 147.6Z" fill="#663e8c" stroke="#663e8c"/>
<path d="M598.3 150.5L600.7 149.3L599.1 148.1L596.6 149.2Z" fill="#683988" stroke="#683988"/>
<path d="M604.1 151.8L606.5 150.6L604.8 149.4L602.4 150.6Z" fill="#6b3584" stroke="#6b3584"/>
<path d="M515.9 108.1L519.1 105.6L517.4 101.5L514.3 104.0Z" fill="#349d8d" stroke="#349d8d"/>
<path d="M522.3 113.3L525.4 111.2L523.8 107.5L520.7 109.6Z" fill="#359390" stroke="#359390"/>
<path d="M528.5 118.2L531.6 116.4L530.0 113.0L526.9 114.8Z" fill="#378994" stroke="#378994"/>
<path d="M534.7 122.7L537.7 121.1L536.2 118.0L533.2 119.6Z" fill="#3d7e96" stroke="#3d7e96"/>
<path d="M540.8 126.9L543.8 125.5L542.2 122.7L539.3 124.1Z" fill="#437598" stroke="#437598"/>
<path d="M546.9 130.7L549.8 129.4L548.2 126.9L545.3 128.2Z" fill="#486c99" stroke="#486c99"/>
<path d="M552.9 134.2L555.8 133.0L554.2 130.6L551.4 131.9Z" fill="#4d649b" stroke="#4d649b"/>
<path d="M558.9 137.4L561.7 136.2L560.1 134.0L557.3 135.2Z" fill="#525c98" stroke="#525c98"/>
<path d="M564.8 140.2L567.6 139.0L566.0 137.1L563.2 138.2Z" fill="#565596" stroke="#565596"/>
<path d="M570.7 142.7L573.4 141.6L571.8 139.8L569.1 140.9Z" fill="#5a4f94" stroke="#5a4f94"/>
<path d="M576.6 145.0L579.2 143.9L577.6 142.2L575.0 143.3Z" fill="#5e4a92" stroke="#5e4a92"/>
<path d="M582.4 147.0L585.0 145.9L583.4 144.4L580.8 145.5Z" fill="#614590" stroke="#614590"/>
<path d="M588.3 148.8L590.8 147.6L589.2 146.2L586.7 147.4Z" fill="#64418e" stroke="#64418e"/>
<path d="M594.1 150.4L596.6 149.2L595.0 147.9L592.5 149.0Z" fill="#673c8a" stroke="#673c8a"/>
<path d="M599.9 151.8L602.4 150.6L600.7 149.3L598.3 150.5Z" fill="#693887" stroke="#693887"/>
<path d="M605.8 153.0L608.2 151.8L606.5 150.6L604.1 151.8Z" fill="#6b3483" stroke="#6b3483"/>
<path d="M511.1 106.8L514.3 104.0L512.6 99.7L509.5 102.6Z" fill="#33a18c" stroke="#33a18c"/>
<path d="M517.5 112.0L520.7 109.6L519.1 105.6L515.9 108.1Z" fill="#34978f" stroke="#34978f"/>
<path d="M523.9 116.9L526.9 114.8L525.4 111.2L522.3 113.3Z" fill="#358d92" stroke="#358d92"/>
<path d="M530.1 121.4L533.2 119.6L531.6 116.4L528.5 118.2Z" fill="#3a8395" stroke="#3a8395"/>
<path d="M536.3 125.7L539.3 124.1L537.7 121.1L534.7 122.7Z" fill="#407997" stroke="#407997"/>
<path d="M542.4 129.6L545.3 128.2L543.8 125.5L540.8 126.9Z" fill="#457098" stroke="#457098"/>
<path d="M548.5 133.2L551.4 131.9L549.8 129.4L546.9 130.7Z" fill="#4a689a" stroke="#4a689a"/>
<path d="M554.5 136.5L557.3 135.2L555.8 133.0L552.9 134.2Z" fill="#4f609a" stroke="#4f609a"/>
<path d="M560.5 139.5L563.2 138.2L561.7 136.2L558.9 137.4Z" fill="#545997" stroke="#545997"/>
<path d="M566.4 142.1L569.1 140.9L567.6 139.0L564.8 140.2Z" fill="#585395" stroke="#585395"/>
<path d="M572.3 144.5L575.0 143.3L573.4 141.6L570.7 142.7Z" fill="#5c4d93" stroke="#5c4d93"/>
<path d="M578.2 146.7L580.8 145.5L579.2 143.9L576.6 145.0Z" fill="#5f4891" stroke="#5f4891"/>
<path d="M584.1 148.6L586.7 147.4L585.0 145.9L582.4 147.0Z" fill="#62448f" stroke="#62448f"/>
<path d="M589.9 150.3L592.5 149.0L590.8 147.6L588.3 148.8Z" fill="#653f8d" stroke="#653f8d"/>
<path d="M595.8 151.7L598.3 150.5L596.6 149.2L594.1 150.4Z" fill="#683b89" stroke="#683b89"/>
<path d="M601.6 153.1L604.1 151.8L602.4 150.6L599.9 151.8Z" fill="#6a3785" stroke="#6a3785"/>
<path d="M607.4 154.2L609.9 152.9L608.2 151.8L605.8 153.0Z" fill="#6c3382" stroke="#6c3382"/>
<path d="M512.7 110.9L515.9 108.1L514.3 104.0L511.1 106.8Z" fill="#349b8e" stroke="#349b8e"/>
<path d="M519.1 115.7L522.3 113.3L520.7 109.6L517.5 112.0Z" fill="#359191" stroke="#359191"/>
<path d="M525.4 120.2L528.5 118.2L526.9 114.8L523.9 116.9Z" fill="#378894" stroke="#378894"/>
<path d="M531.7 124.6L534.7 122.7L533.2 119.6L530.1 121.4Z" fill="#3d7e96" stroke="#3d7e96"/>
<path d="M537.9 128.6L540.8 126.9L539.3 124.1L536.3 125.7Z" fill="#437597" stroke="#437597"/>
<path d="M544.0 132.2L546.9 130.7L545.3 128.2L542.4 129.6Z" fill="#486c99" stroke="#486c99"/>
<path d="M550.0 135.6L552.9 134.2L551.4 131.9L548.5 133.2Z" fill="#4c649b" stroke="#4c649b"/>
<path d="M556.1 138.7L558.9 137.4L557.3 135.2L554.5 136.5Z" fill="#515d99" stroke="#515d99"/>
<path d="M562.0 141.5L564.8 140.2L563.2 138.2L560.5 139.5Z" fill="#555796" stroke="#555796"/>
<path d="M568.0 144.0L570.7 142.7L569.1 140.9L566.4 142.1Z" fill="#595194" stroke="#595194"/>
<path d="M573.9 146.3L576.6 145.0L575.0 143.3L572.3 144.5Z" fill="#5d4b92" stroke="#5d4b92"/>
<path d="M579.8 148.3L582.4 147.0L580.8 145.5L578.2 146.7Z" fill="#604690" stroke="#604690"/>
<path d="M585.7 150.1L588.3 148.8L586.7 147.4L584.1 148.6Z" fill="#63428f" stroke="#63428f"/>
<path d="M591.6 151.7L594.1 150.4L592.5 149.0L589.9 150.3Z" fill="#663e8c" stroke="#663e8c"/>
<path d="M597.4 153.1L599.9 151.8L598.3 150.5L595.8 151.7Z" fill="#683988" stroke="#683988"/>
<path d="M603.3 154.3L605.8 153.0L604.1 151.8L601.6 153.1Z" fill="#6b3684" stroke="#6b3684"/>
<path d="M609.1 155.4L611.6 154.1L609.9 152.9L607.4 154.2Z" fill="#6d3281" stroke="#6d3281"/>
<path d="M507.9 110.0L511.1 106.8L509.5 102.6L506.3 105.9Z" fill="#339e8d" stroke="#339e8d"/>
<path d="M514.4 114.7L517.5 112.0L515.9 108.1L512.7 110.9Z" fill="#359590" stroke="#359590"/>
<path d="M520.7 119.2L523.9 116.9L522.3 113.3L519.1 115.7Z" fill="#358c93" stroke="#358c93"/>
<path d="M527.0 123.5L530.1 121.4L528.5 118.2L525.4 120.2Z" fill="#3a8295" stroke="#3a8295"/>
<path d="M533.3 127.5L536.3 125.7L534.7 122.7L531.7 124.6Z" fill="#407997" stroke="#407997"/>
<path d="M539.4 131.3L542.4 129.6L540.8 126.9L537.9 128.6Z" fill="#457098" stroke="#457098"/>
<path d="M545.5 134.8L548.5 133.2L546.9 130.7L544.0 132.2Z" fill="#4a689a" stroke="#4a689a"/>
<path d="M551.6 137.9L554.5 136.5L552.9 134.2L550.0 135.6Z" fill="#4f619a" stroke="#4f619a"/>
<path d="M557.6 140.8L560.5 139.5L558.9 137.4L556.1 138.7Z" fill="#535a98" stroke="#535a98"/>
<path d="M563.6 143.5L566.4 142.1L564.8 140.2L562.0 141.5Z" fill="#575495" stroke="#575495"/>
<path d="M569.6 145.8L572.3 144.5L570.7 142.7L568.0 144.0Z" fill="#5b4e93" stroke="#5b4e93"/>
<path d="M575.5 147.9L578.2 146.7L576.6 145.0L573.9 146.3Z" fill="#5e4991" stroke="#5e4991"/>
<path d="M581.4 149.8L584.1 148.6L582.4 147.0L579.8 148.3Z" fill="#614590" stroke="#614590"/>
<path d="M587.3 151.5L589.9 150.3L588.3 148.8L585.7 150.1Z" fill="#64418e" stroke="#64418e"/>
<path d="M593.2 153.0L595.8 151.7L594.1 150.4L591.6 151.7Z" fill="#673c8b" stroke="#673c8b"/>
<path d="M599.1 154.4L601.6 153.1L599.9 151.8L597.4 153.1Z" fill="#693887" stroke="#693887"/>
<path d="M605.0 155.5L607.4 154.2L605.8 153.0L603.3 154.3Z" fill="#6b3583" stroke="#6b3583"/>
<path d="M610.9 156.6L613.3 155.2L611.6 154.1L609.1 155.4Z" fill="#6d3181" stroke="#6d3181"/>
<path d="M509.5 114.0L512.7 110.9L511.1 106.8L507.9 110.0Z" fill="#34988f" stroke="#34988f"/>
<path d="M516.0 118.3L519.1 115.7L517.5 112.0L514.4 114.7Z" fill="#358f91" stroke="#358f91"/>
<path d="M522.3 122.6L525.4 120.2L523.9 116.9L520.7 119.2Z" fill="#388794" stroke="#388794"/>
<path d="M528.6 126.6L531.7 124.6L530.1 121.4L527.0 123.5Z" fill="#3d7d96" stroke="#3d7d96"/>
<path d="M534.8 130.4L537.9 128.6L536.3 125.7L533.3 127.5Z" fill="#437598" stroke="#437598"/>
<path d="M541.0 133.9L544.0 132.2L542.4 129.6L539.4 131.3Z" fill="#486c99" stroke="#486c99"/>
<path d="M547.1 137.2L550.0 135.6L548.5 133.2L545.5 134.8Z" fill="#4c659b" stroke="#4c659b"/>
<path d="M553.2 140.2L556.1 138.7L554.5 136.5L551.6 137.9Z" fill="#515e99" stroke="#515e99"/>
<path d="M559.2 142.9L562.0 141.5L560.5 139.5L557.6 140.8Z" fill="#555797" stroke="#555797"/>
<path d="M565.2 145.4L568.0 144.0L566.4 142.1L563.6 143.5Z" fill="#595194" stroke="#595194"/>
<path d="M571.2 147.6L573.9 146.3L572.3 144.5L569.6 145.8Z" fill="#5c4c93" stroke="#5c4c93"/>
<path d="M577.1 149.6L579.8 148.3L578.2 146.7L575.5 147.9Z" fill="#604791" stroke="#604791"/>
<path d="M583.1 151.4L585.7 150.1L584.1 148.6L581.4 149.8Z" fill="#62438f" stroke="#62438f"/>
<path d="M589.0 153.0L591.6 151.7L589.9 150.3L587.3 151.5Z" fill="#653f8d" stroke="#653f8d"/>
<path d="M594.9 154.4L597.4 153.1L595.8 151.7L593.2 153.0Z" fill="#683b89" stroke="#683b89"/>
<path d="M600.8 155.7L603.3 154.3L601.6 153.1L599.1 154.4Z" fill="#6a3786" stroke="#6a3786"/>
<path d="M606.7 156.8L609.1 155.4L607.4 154.2L605.0 155.5Z" fill="#6c3482" stroke="#6c3482"/>
<path d="M612.6 157.7L615.0 156.3L613.3 155.2L610.9 156.6Z" fill="#6e3180" stroke="#6e3180"/>
<path d="M504.7 113.6L507.9 110.0L506.3 105.9L503.0 109.5Z" fill="#349b8e" stroke="#349b8e"/>
<path d="M511.2 117.7L514.4 114.7L512.7 110.9L509.5 114.0Z" fill="#359290" stroke="#359290"/>
<path d="M517.6 121.8L520.7 119.2L519.1 115.7L516.0 118.3Z" fill="#368a93" stroke="#368a93"/>
<path d="M523.9 125.8L527.0 123.5L525.4 120.2L522.3 122.6Z" fill="#3b8195" stroke="#3b8195"/>
<path d="M530.2 129.6L533.3 127.5L531.7 124.6L528.6 126.6Z" fill="#407897" stroke="#407897"/>
<path d="M536.4 133.1L539.4 131.3L537.9 128.6L534.8 130.4Z" fill="#457098" stroke="#457098"/>
<path d="M542.6 136.4L545.5 134.8L544.0 132.2L541.0 133.9Z" fill="#4a699a" stroke="#4a699a"/>
<path d="M548.7 139.5L551.6 137.9L550.0 135.6L547.1 137.2Z" fill="#4e619a" stroke="#4e619a"/>
<path d="M554.8 142.3L557.6 140.8L556.1 138.7L553.2 140.2Z" fill="#535b98" stroke="#535b98"/>
<path d="M560.8 144.9L563.6 143.5L562.0 141.5L559.2 142.9Z" fill="#575596" stroke="#575596"/>
<path d="M566.8 147.2L569.6 145.8L568.0 144.0L565.2 145.4Z" fill="#5a4f94" stroke="#5a4f94"/>
<path d="M572.8 149.3L575.5 147.9L573.9 146.3L571.2 147.6Z" fill="#5e4a92" stroke="#5e4a92"/>
<path d="M578.8 151.2L581.4 149.8L579.8 148.3L577.1 149.6Z" fill="#614690" stroke="#614690"/>
<path d="M584.7 152.9L587.3 151.5L585.7 150.1L583.1 151.4Z" fill="#63428f" stroke="#63428f"/>
<path d="M590.6 154.4L593.2 153.0L591.6 151.7L589.0 153.0Z" fill="#663e8c" stroke="#663e8c"/>
<path d="M596.6 155.7L599.1 154.4L597.4 153.1L594.9 154.4Z" fill="#683988" stroke="#683988"/>
<path d="M602.5 156.9L605.0 155.5L603.3 154.3L600.8 155.7Z" fill="#6a3685" stroke="#6a3685"/>
<path d="M608.4 158.0L610.9 156.6L609.1 155.4L606.7 156.8Z" fill="#6c3382" stroke="#6c3382"/>
<path d="M614.3 158.9L616.7 157.5L615.0 156.3L612.6 157.7Z" fill="#6e307f" stroke="#6e307f"/>
<path d="M506.3 117.4L509.5 114.0L507.9 110.0L504.7 113.6Z" fill="#359590" stroke="#359590"/>
<path d="M512.8 121.3L516.0 118.3L514.4 114.7L511.2 117.7Z" fill="#358d92" stroke="#358d92"/>
<path d="M519.2 125.1L522.3 122.6L520.7 119.2L517.6 121.8Z" fill="#398594" stroke="#398594"/>
<path d="M525.5 128.9L528.6 126.6L527.0 123.5L523.9 125.8Z" fill="#3e7c96" stroke="#3e7c96"/>
<path d="M531.8 132.4L534.8 130.4L533.3 127.5L530.2 129.6Z" fill="#437498" stroke="#437498"/>
<path d="M538.0 135.8L541.0 133.9L539.4 131.3L536.4 133.1Z" fill="#486c99" stroke="#486c99"/>
<path d="M544.2 138.9L547.1 137.2L545.5 134.8L542.6 136.4Z" fill="#4c659b" stroke="#4c659b"/>
<path d="M550.3 141.8L553.2 140.2L551.6 137.9L548.7 139.5Z" fill="#505e99" stroke="#505e99"/>
<path d="M556.4 144.4L559.2 142.9L557.6 140.8L554.8 142.3Z" fill="#555897" stroke="#555897"/>
<path d="M562.4 146.8L565.2 145.4L563.6 143.5L560.8 144.9Z" fill="#585295" stroke="#585295"/>
<path d="M568.4 149.0L571.2 147.6L569.6 145.8L566.8 147.2Z" fill="#5c4d93" stroke="#5c4d93"/>
<path d="M574.4 151.0L577.1 149.6L575.5 147.9L572.8 149.3Z" fill="#5f4891" stroke="#5f4891"/>
<path d="M580.4 152.8L583.1 151.4L581.4 149.8L578.8 151.2Z" fill="#624490" stroke="#624490"/>
<path d="M586.4 154.4L589.0 153.0L587.3 151.5L584.7 152.9Z" fill="#64408e" stroke="#64408e"/>
<path d="M592.3 155.8L594.9 154.4L593.2 153.0L590.6 154.4Z" fill="#673c8a" stroke="#673c8a"/>
<path d="M598.3 157.1L600.8 155.7L599.1 154.4L596.6 155.7Z" fill="#693887" stroke="#693887"/>
<path d="M604.2 158.2L606.7 156.8L605.0 155.5L602.5 156.9Z" fill="#6b3584" stroke="#6b3584"/>
<path d="M610.1 159.2L612.6 157.7L610.9 156.6L608.4 158.0Z" fill="#6d3281" stroke="#6d3281"/>
<path d="M501.5 117.5L504.7 113.6L503.0 109.5L499.8 113.6Z" fill="#34978f" stroke="#34978f"/>
<path d="M616.1 160.0L618.5 158.6L616.7 157.5L614.3 158.9Z" fill="#6e307f" stroke="#6e307f"/>
<path d="M508.0 121.1L511.2 117.7L509.5 114.0L506.3 117.4Z" fill="#358f91" stroke="#358f91"/>
<path d="M514.4 124.7L517.6 121.8L516.0 118.3L512.8 121.3Z" fill="#378894" stroke="#378894"/>
<path d="M520.8 128.3L523.9 125.8L522.3 122.6L519.2 125.1Z" fill="#3c7f95" stroke="#3c7f95"/>
<path d="M527.1 131.8L530.2 129.6L528.6 126.6L525.5 128.9Z" fill="#417797" stroke="#417797"/>
<path d="M533.4 135.2L536.4 133.1L534.8 130.4L531.8 132.4Z" fill="#467099" stroke="#467099"/>
<path d="M539.6 138.3L542.6 136.4L541.0 133.9L538.0 135.8Z" fill="#4a689a" stroke="#4a689a"/>
<path d="M545.8 141.2L548.7 139.5L547.1 137.2L544.2 138.9Z" fill="#4e629a" stroke="#4e629a"/>
<path d="M551.9 143.9L554.8 142.3L553.2 140.2L550.3 141.8Z" fill="#525b98" stroke="#525b98"/>
<path d="M558.0 146.4L560.8 144.9L559.2 142.9L556.4 144.4Z" fill="#565596" stroke="#565596"/>
<path d="M564.0 148.7L566.8 147.2L565.2 145.4L562.4 146.8Z" fill="#5a5094" stroke="#5a5094"/>
<path d="M570.1 150.8L572.8 149.3L571.2 147.6L568.4 149.0Z" fill="#5d4b92" stroke="#5d4b92"/>
<path d="M576.1 152.6L578.8 151.2L577.1 149.6L574.4 151.0Z" fill="#604790" stroke="#604790"/>
<path d="M582.1 154.3L584.7 152.9L583.1 151.4L580.4 152.8Z" fill="#63438f" stroke="#63438f"/>
<path d="M588.0 155.8L590.6 154.4L589.0 153.0L586.4 154.4Z" fill="#653f8d" stroke="#653f8d"/>
<path d="M594.0 157.2L596.6 155.7L594.9 154.4L592.3 155.8Z" fill="#683b89" stroke="#683b89"/>
<path d="M600.0 158.4L602.5 156.9L600.8 155.7L598.3 157.1Z" fill="#6a3786" stroke="#6a3786"/>
<path d="M605.9 159.4L608.4 158.0L606.7 156.8L604.2 158.2Z" fill="#6c3483" stroke="#6c3483"/>
<path d="M611.9 160.4L614.3 158.9L612.6 157.7L610.1 159.2Z" fill="#6d3180" stroke="#6d3180"/>
<path d="M503.1 121.2L506.3 117.4L504.7 113.6L501.5 117.5Z" fill="#359191" stroke="#359191"/>
<path d="M617.8 161.2L620.2 159.7L618.5 158.6L616.1 160.0Z" fill="#6e307f" stroke="#6e307f"/>
<path d="M509.6 124.6L512.8 121.3L511.2 117.7L508.0 121.1Z" fill="#368a93" stroke="#368a93"/>
<path d="M516.0 128.0L519.2 125.1L517.6 121.8L514.4 124.7Z" fill="#3a8295" stroke="#3a8295"/>
<path d="M522.4 131.4L525.5 128.9L523.9 125.8L520.8 128.3Z" fill="#3f7a96" stroke="#3f7a96"/>
<path d="M528.7 134.7L531.8 132.4L530.2 129.6L527.1 131.8Z" fill="#447398" stroke="#447398"/>
<path d="M535.0 137.8L538.0 135.8L536.4 133.1L533.4 135.2Z" fill="#486c99" stroke="#486c99"/>
<path d="M541.2 140.7L544.2 138.9L542.6 136.4L539.6 138.3Z" fill="#4c659b" stroke="#4c659b"/>
<path d="M547.3 143.5L550.3 141.8L548.7 139.5L545.8 141.2Z" fill="#505e99" stroke="#505e99"/>
<path d="M553.5 146.1L556.4 144.4L554.8 142.3L551.9 143.9Z" fill="#545897" stroke="#545897"/>
<path d="M559.6 148.4L562.4 146.8L560.8 144.9L558.0 146.4Z" fill="#585395" stroke="#585395"/>
<path d="M565.6 150.5L568.4 149.0L566.8 147.2L564.0 148.7Z" fill="#5b4e93" stroke="#5b4e93"/>
<path d="M571.7 152.5L574.4 151.0L572.8 149.3L570.1 150.8Z" fill="#5e4991" stroke="#5e4991"/>
<path d="M577.7 154.2L580.4 152.8L578.8 151.2L576.1 152.6Z" fill="#614590" stroke="#614590"/>
<path d="M583.7 155.8L586.4 154.4L584.7 152.9L582.1 154.3Z" fill="#64418e" stroke="#64418e"/>
<path d="M589.7 157.3L592.3 155.8L590.6 154.4L588.0 155.8Z" fill="#663d8b" stroke="#663d8b"/>
<path d="M595.7 158.5L598.3 157.1L596.6 155.7L594.0 157.2Z" fill="#683988" stroke="#683988"/>
<path d="M601.7 159.6L604.2 158.2L602.5 156.9L600.0 158.4Z" fill="#6a3685" stroke="#6a3685"/>
<path d="M607.6 160.6L610.1 159.2L608.4 158.0L605.9 159.4Z" fill="#6c3382" stroke="#6c3382"/>
<path d="M498.3 121.8L501.5 117.5L499.8 113.6L496.6 118.0Z" fill="#359291" stroke="#359291"/>
<path d="M613.6 161.5L616.1 160.0L614.3 158.9L611.9 160.4Z" fill="#6e3080" stroke="#6e3080"/>
<path d="M504.8 124.8L508.0 121.1L506.3 117.4L503.1 121.2Z" fill="#368c93" stroke="#368c93"/>
<path d="M619.6 162.3L622.0 160.8L620.2 159.7L617.8 161.2Z" fill="#6f2f7e" stroke="#6f2f7e"/>
<path d="M511.2 127.9L514.4 124.7L512.8 121.3L509.6 124.6Z" fill="#398594" stroke="#398594"/>
<path d="M517.6 131.1L520.8 128.3L519.2 125.1L516.0 128.0Z" fill="#3d7d96" stroke="#3d7d96"/>
<path d="M524.0 134.3L527.1 131.8L525.5 128.9L522.4 131.4Z" fill="#427697" stroke="#427697"/>
<path d="M530.3 137.4L533.4 135.2L531.8 132.4L528.7 134.7Z" fill="#466f99" stroke="#466f99"/>
<path d="M536.6 140.3L539.6 138.3L538.0 135.8L535.0 137.8Z" fill="#4a689a" stroke="#4a689a"/>
<path d="M542.8 143.1L545.8 141.2L544.2 138.9L541.2 140.7Z" fill="#4e619a" stroke="#4e619a"/>
<path d="M548.9 145.7L551.9 143.9L550.3 141.8L547.3 143.5Z" fill="#525b98" stroke="#525b98"/>
<path d="M555.1 148.1L558.0 146.4L556.4 144.4L553.5 146.1Z" fill="#565696" stroke="#565696"/>
<path d="M561.2 150.3L564.0 148.7L562.4 146.8L559.6 148.4Z" fill="#5a5094" stroke="#5a5094"/>
<path d="M567.3 152.3L570.1 150.8L568.4 149.0L565.6 150.5Z" fill="#5d4c92" stroke="#5d4c92"/>
<path d="M573.3 154.2L576.1 152.6L574.4 151.0L571.7 152.5Z" fill="#604791" stroke="#604791"/>
<path d="M579.4 155.8L582.1 154.3L580.4 152.8L577.7 154.2Z" fill="#62438f" stroke="#62438f"/>
<path d="M585.4 157.3L588.0 155.8L586.4 154.4L583.7 155.8Z" fill="#65408e" stroke="#65408e"/>
<path d="M591.4 158.7L594.0 157.2L592.3 155.8L589.7 157.3Z" fill="#673c8a" stroke="#673c8a"/>
<path d="M597.4 159.9L600.0 158.4L598.3 157.1L595.7 158.5Z" fill="#693887" stroke="#693887"/>
<path d="M603.4 160.9L605.9 159.4L604.2 158.2L601.7 159.6Z" fill="#6b3584" stroke="#6b3584"/>
<path d="M609.4 161.9L611.9 160.4L610.1 159.2L607.6 160.6Z" fill="#6d3281" stroke="#6d3281"/>
<path d="M499.9 125.3L503.1 121.2L501.5 117.5L498.3 121.8Z" fill="#358d92" stroke="#358d92"/>
<path d="M615.4 162.7L617.8 161.2L616.1 160.0L613.6 161.5Z" fill="#6e307f" stroke="#6e307f"/>
<path d="M506.4 128.1L509.6 124.6L508.0 121.1L504.8 124.8Z" fill="#388694" stroke="#388694"/>
<path d="M512.8 131.1L516.0 128.0L514.4 124.7L511.2 127.9Z" fill="#3c7f95" stroke="#3c7f95"/>
<path d="M519.2 134.1L522.4 131.4L520.8 128.3L517.6 131.1Z" fill="#407897" stroke="#407897"/>
<path d="M525.6 137.1L528.7 134.7L527.1 131.8L524.0 134.3Z" fill="#457198" stroke="#457198"/>
<path d="M531.9 140.0L535.0 137.8L533.4 135.2L530.3 137.4Z" fill="#496b99" stroke="#496b99"/>
<path d="M538.1 142.8L541.2 140.7L539.6 138.3L536.6 140.3Z" fill="#4c649b" stroke="#4c649b"/>
<path d="M544.4 145.4L547.3 143.5L545.8 141.2L542.8 143.1Z" fill="#505e99" stroke="#505e99"/>
<path d="M550.5 147.8L553.5 146.1L551.9 143.9L548.9 145.7Z" fill="#545897" stroke="#545897"/>
<path d="M556.7 150.1L559.6 148.4L558.0 146.4L555.1 148.1Z" fill="#585395" stroke="#585395"/>
<path d="M562.8 152.2L565.6 150.5L564.0 148.7L561.2 150.3Z" fill="#5b4e93" stroke="#5b4e93"/>
<path d="M568.9 154.1L571.7 152.5L570.1 150.8L567.3 152.3Z" fill="#5e4a92" stroke="#5e4a92"/>
<path d="M575.0 155.8L577.7 154.2L576.1 152.6L573.3 154.2Z" fill="#614690" stroke="#614690"/>
<path d="M581.0 157.4L583.7 155.8L582.1 154.3L579.4 155.8Z" fill="#63428f" stroke="#63428f"/>
<path d="M587.1 158.8L589.7 157.3L588.0 155.8L585.4 157.3Z" fill="#663e8c" stroke="#663e8c"/>
<path d="M593.1 160.0L595.7 158.5L594.0 157.2L591.4 158.7Z" fill="#683a89" stroke="#683a89"/>
<path d="M599.1 161.2L601.7 159.6L600.0 158.4L597.4 159.9Z" fill="#6a3785" stroke="#6a3785"/>
<path d="M605.1 162.2L607.6 160.6L605.9 159.4L603.4 160.9Z" fill="#6c3483" stroke="#6c3483"/>
<path d="M495.0 126.4L498.3 121.8L496.6 118.0L493.4 122.9Z" fill="#358d92" stroke="#358d92"/>
<path d="M611.1 163.1L613.6 161.5L611.9 160.4L609.4 161.9Z" fill="#6d3180" stroke="#6d3180"/>
<path d="M501.5 128.8L504.8 124.8L503.1 121.2L499.9 125.3Z" fill="#378794" stroke="#378794"/>
<path d="M617.1 163.9L619.6 162.3L617.8 161.2L615.4 162.7Z" fill="#6e307f" stroke="#6e307f"/>
<path d="M508.0 131.4L511.2 127.9L509.6 124.6L506.4 128.1Z" fill="#3b8195" stroke="#3b8195"/>
<path d="M514.4 134.2L517.6 131.1L516.0 128.0L512.8 131.1Z" fill="#3f7a96" stroke="#3f7a96"/>
<path d="M520.8 137.0L524.0 134.3L522.4 131.4L519.2 134.1Z" fill="#437498" stroke="#437498"/>
<path d="M527.2 139.8L530.3 137.4L528.7 134.7L525.6 137.1Z" fill="#476d99" stroke="#476d99"/>
<path d="M533.5 142.5L536.6 140.3L535.0 137.8L531.9 140.0Z" fill="#4b679a" stroke="#4b679a"/>
<path d="M539.7 145.1L542.8 143.1L541.2 140.7L538.1 142.8Z" fill="#4f619a" stroke="#4f619a"/>
<path d="M546.0 147.6L548.9 145.7L547.3 143.5L544.4 145.4Z" fill="#525b98" stroke="#525b98"/>
<path d="M552.2 149.9L555.1 148.1L553.5 146.1L550.5 147.8Z" fill="#565696" stroke="#565696"/>
<path d="M558.3 152.0L561.2 150.3L559.6 148.4L556.7 150.1Z" fill="#595194" stroke="#595194"/>
<path d="M564.4 154.0L567.3 152.3L565.6 150.5L562.8 152.2Z" fill="#5c4c92" stroke="#5c4c92"/>
<path d="M570.5 155.8L573.3 154.2L571.7 152.5L568.9 154.1Z" fill="#5f4891" stroke="#5f4891"/>
<path d="M576.6 157.4L579.4 155.8L577.7 154.2L575.0 155.8Z" fill="#62448f" stroke="#62448f"/>
<path d="M582.7 158.9L585.4 157.3L583.7 155.8L581.0 157.4Z" fill="#64418e" stroke="#64418e"/>
<path d="M588.7 160.2L591.4 158.7L589.7 157.3L587.1 158.8Z" fill="#673d8b" stroke="#673d8b"/>
<path d="M594.8 161.4L597.4 159.9L595.7 158.5L593.1 160.0Z" fill="#693987" stroke="#693987"/>
<path d="M600.8 162.5L603.4 160.9L601.7 159.6L599.1 161.2Z" fill="#6b3684" stroke="#6b3684"/>
<path d="M606.9 163.4L609.4 161.9L607.6 160.6L605.1 162.2Z" fill="#6c3382" stroke="#6c3382"/>
<path d="M496.7 129.8L499.9 125.3L498.3 121.8L495.0 126.4Z" fill="#378794" stroke="#378794"/>
<path d="M612.9 164.3L615.4 162.7L613.6 161.5L611.1 163.1Z" fill="#6e3080" stroke="#6e3080"/>
<path d="M503.2 132.0L506.4 128.1L504.8 124.8L501.5 128.8Z" fill="#3b8295" stroke="#3b8295"/>
<path d="M509.6 134.5L512.8 131.1L511.2 127.9L508.0 131.4Z" fill="#3e7c96" stroke="#3e7c96"/>
<path d="M516.0 137.1L519.2 134.1L517.6 131.1L514.4 134.2Z" fill="#427697" stroke="#427697"/>
<path d="M522.4 139.8L525.6 137.1L524.0 134.3L520.8 137.0Z" fill="#467099" stroke="#467099"/>
<path d="M528.8 142.4L531.9 140.0L530.3 137.4L527.2 139.8Z" fill="#49699a" stroke="#49699a"/>
<path d="M535.1 145.0L538.1 142.8L536.6 140.3L533.5 142.5Z" fill="#4d639b" stroke="#4d639b"/>
<path d="M541.3 147.4L544.4 145.4L542.8 143.1L539.7 145.1Z" fill="#515e99" stroke="#515e99"/>
<path d="M547.6 149.7L550.5 147.8L548.9 145.7L546.0 147.6Z" fill="#545897" stroke="#545897"/>
<path d="M553.8 151.9L556.7 150.1L555.1 148.1L552.2 149.9Z" fill="#585395" stroke="#585395"/>
<path d="M559.9 153.9L562.8 152.2L561.2 150.3L558.3 152.0Z" fill="#5b4e93" stroke="#5b4e93"/>
<path d="M566.1 155.7L568.9 154.1L567.3 152.3L564.4 154.0Z" fill="#5e4a92" stroke="#5e4a92"/>
<path d="M572.2 157.4L575.0 155.8L573.3 154.2L570.5 155.8Z" fill="#604690" stroke="#604690"/>
<path d="M578.3 159.0L581.0 157.4L579.4 155.8L576.6 157.4Z" fill="#63428f" stroke="#63428f"/>
<path d="M584.4 160.4L587.1 158.8L585.4 157.3L582.7 158.9Z" fill="#653f8d" stroke="#653f8d"/>
<path d="M590.4 161.6L593.1 160.0L591.4 158.7L588.7 160.2Z" fill="#673b89" stroke="#673b89"/>
<path d="M596.5 162.7L599.1 161.2L597.4 159.9L594.8 161.4Z" fill="#693886" stroke="#693886"/>
<path d="M602.6 163.8L605.1 162.2L603.4 160.9L600.8 162.5Z" fill="#6b3583" stroke="#6b3583"/>
<path d="M608.6 164.7L611.1 163.1L609.4 161.9L606.9 163.4Z" fill="#6d3281" stroke="#6d3281"/>
<path d="M498.3 133.1L501.5 128.8L499.9 125.3L496.7 129.8Z" fill="#3b8295" stroke="#3b8295"/>
<path d="M614.7 165.5L617.1 163.9L615.4 162.7L612.9 164.3Z" fill="#6e307f" stroke="#6e307f"/>
<path d="M504.8 135.1L508.0 131.4L506.4 128.1L503.2 132.0Z" fill="#3e7d96" stroke="#3e7d96"/>
<path d="M511.2 137.5L514.4 134.2L512.8 131.1L509.6 134.5Z" fill="#417797" stroke="#417797"/>
<path d="M517.7 139.9L520.8 137.0L519.2 134.1L516.0 137.1Z" fill="#457198" stroke="#457198"/>
<path d="M524.0 142.4L527.2 139.8L525.6 137.1L522.4 139.8Z" fill="#486c99" stroke="#486c99"/>
<path d="M530.4 144.9L533.5 142.5L531.9 140.0L528.8 142.4Z" fill="#4c669a" stroke="#4c669a"/>
<path d="M536.7 147.3L539.7 145.1L538.1 142.8L535.1 145.0Z" fill="#4f609a" stroke="#4f609a"/>
<path d="M543.0 149.6L546.0 147.6L544.4 145.4L541.3 147.4Z" fill="#535b98" stroke="#535b98"/>
<path d="M549.2 151.8L552.2 149.9L550.5 147.8L547.6 149.7Z" fill="#565696" stroke="#565696"/>
<path d="M555.4 153.8L558.3 152.0L556.7 150.1L553.8 151.9Z" fill="#595194" stroke="#595194"/>
<path d="M561.6 155.7L564.4 154.0L562.8 152.2L559.9 153.9Z" fill="#5c4c93" stroke="#5c4c93"/>
<path d="M567.7 157.5L570.5 155.8L568.9 154.1L566.1 155.7Z" fill="#5f4891" stroke="#5f4891"/>
<path d="M573.8 159.1L576.6 157.4L575.0 155.8L572.2 157.4Z" fill="#624490" stroke="#624490"/>
<path d="M580.0 160.5L582.7 158.9L581.0 157.4L578.3 159.0Z" fill="#64418e" stroke="#64418e"/>
<path d="M586.1 161.8L588.7 160.2L587.1 158.8L584.4 160.4Z" fill="#663d8b" stroke="#663d8b"/>
<path d="M592.1 163.0L594.8 161.4L593.1 160.0L590.4 161.6Z" fill="#683a88" stroke="#683a88"/>
<path d="M598.2 164.1L600.8 162.5L599.1 161.2L596.5 162.7Z" fill="#6a3685" stroke="#6a3685"/>
<path d="M604.3 165.0L606.9 163.4L605.1 162.2L602.6 163.8Z" fill="#6c3483" stroke="#6c3483"/>
<path d="M610.4 165.9L612.9 164.3L611.1 163.1L608.6 164.7Z" fill="#6d3180" stroke="#6d3180"/>
<path d="M499.9 136.2L503.2 132.0L501.5 128.8L498.3 133.1Z" fill="#3e7d96" stroke="#3e7d96"/>
<path d="M506.4 138.1L509.6 134.5L508.0 131.4L504.8 135.1Z" fill="#417897" stroke="#417897"/>
<path d="M512.8 140.3L516.0 137.1L514.4 134.2L511.2 137.5Z" fill="#447398" stroke="#447398"/>
<path d="M519.3 142.6L522.4 139.8L520.8 137.0L517.7 139.9Z" fill="#476d99" stroke="#476d99"/>
<path d="M525.6 145.0L528.8 142.4L527.2 139.8L524.0 142.4Z" fill="#4a689a" stroke="#4a689a"/>
<path d="M532.0 147.3L535.1 145.0L533.5 142.5L530.4 144.9Z" fill="#4e629b" stroke="#4e629b"/>
<path d="M538.3 149.6L541.3 147.4L539.7 145.1L536.7 147.3Z" fill="#515d99" stroke="#515d99"/>
<path d="M544.6 151.7L547.6 149.7L546.0 147.6L543.0 149.6Z" fill="#555897" stroke="#555897"/>
<path d="M550.8 153.8L553.8 151.9L552.2 149.9L549.2 151.8Z" fill="#585395" stroke="#585395"/>
<path d="M557.0 155.7L559.9 153.9L558.3 152.0L555.4 153.8Z" fill="#5b4e93" stroke="#5b4e93"/>
<path d="M563.2 157.5L566.1 155.7L564.4 154.0L561.6 155.7Z" fill="#5e4a92" stroke="#5e4a92"/>
<path d="M569.4 159.1L572.2 157.4L570.5 155.8L567.7 157.5Z" fill="#604690" stroke="#604690"/>
<path d="M575.5 160.6L578.3 159.0L576.6 157.4L573.8 159.1Z" fill="#63438f" stroke="#63438f"/>
<path d="M581.6 162.0L584.4 160.4L582.7 158.9L580.0 160.5Z" fill="#65408e" stroke="#65408e"/>
<path d="M587.8 163.3L590.4 161.6L588.7 160.2L586.1 161.8Z" fill="#673c8a" stroke="#673c8a"/>
<path d="M593.9 164.4L596.5 162.7L594.8 161.4L592.1 163.0Z" fill="#693887" stroke="#693887"/>
<path d="M600.0 165.4L602.6 163.8L600.8 162.5L598.2 164.1Z" fill="#6b3584" stroke="#6b3584"/>
<path d="M606.1 166.3L608.6 164.7L606.9 163.4L604.3 165.0Z" fill="#6c3382" stroke="#6c3382"/>
<path d="M612.1 167.1L614.7 165.5L612.9 164.3L610.4 165.9Z" fill="#6e3080" stroke="#6e3080"/>
<path d="M501.5 139.2L504.8 135.1L503.2 132.0L499.9 136.2Z" fill="#417897" stroke="#417897"/>
<path d="M508.0 141.0L511.2 137.5L509.6 134.5L506.4 138.1Z" fill="#437398" stroke="#437398"/>
<path d="M514.5 143.1L517.7 139.9L516.0 137.1L512.8 140.3Z" fill="#466f99" stroke="#466f99"/>
<path d="M520.9 145.2L524.0 142.4L522.4 139.8L519.3 142.6Z" fill="#49699a" stroke="#49699a"/>
<path d="M527.2 147.4L530.4 144.9L528.8 142.4L525.6 145.0Z" fill="#4c649b" stroke="#4c649b"/>
<path d="M533.6 149.6L536.7 147.3L535.1 145.0L532.0 147.3Z" fill="#505f99" stroke="#505f99"/>
<path d="M539.9 151.8L543.0 149.6L541.3 147.4L538.3 149.6Z" fill="#535a98" stroke="#535a98"/>
<path d="M546.2 153.8L549.2 151.8L547.6 149.7L544.6 151.7Z" fill="#565596" stroke="#565596"/>
<path d="M552.4 155.7L555.4 153.8L553.8 151.9L550.8 153.8Z" fill="#595194" stroke="#595194"/>
<path d="M558.7 157.6L561.6 155.7L559.9 153.9L557.0 155.7Z" fill="#5c4c93" stroke="#5c4c93"/>
<path d="M564.8 159.2L567.7 157.5L566.1 155.7L563.2 157.5Z" fill="#5f4891" stroke="#5f4891"/>
<path d="M571.0 160.8L573.8 159.1L572.2 157.4L569.4 159.1Z" fill="#614590" stroke="#614590"/>
<path d="M577.2 162.2L580.0 160.5L578.3 159.0L575.5 160.6Z" fill="#64418f" stroke="#64418f"/>
<path d="M583.3 163.5L586.1 161.8L584.4 160.4L581.6 162.0Z" fill="#663e8c" stroke="#663e8c"/>
<path d="M589.5 164.7L592.1 163.0L590.4 161.6L587.8 163.3Z" fill="#683a89" stroke="#683a89"/>
<path d="M595.6 165.7L598.2 164.1L596.5 162.7L593.9 164.4Z" fill="#6a3786" stroke="#6a3786"/>
<path d="M601.7 166.7L604.3 165.0L602.6 163.8L600.0 165.4Z" fill="#6b3483" stroke="#6b3483"/>
<path d="M607.8 167.5L610.4 165.9L608.6 164.7L606.1 166.3Z" fill="#6d3281" stroke="#6d3281"/>
<path d="M503.2 142.1L506.4 138.1L504.8 135.1L501.5 139.2Z" fill="#437398" stroke="#437398"/>
<path d="M509.6 143.8L512.8 140.3L511.2 137.5L508.0 141.0Z" fill="#466f99" stroke="#466f99"/>
<path d="M516.1 145.7L519.3 142.6L517.7 139.9L514.5 143.1Z" fill="#496b9a" stroke="#496b9a"/>
<path d="M522.5 147.7L525.6 145.0L524.0 142.4L520.9 145.2Z" fill="#4c669a" stroke="#4c669a"/>
<path d="M528.9 149.8L532.0 147.3L530.4 144.9L527.2 147.4Z" fill="#4f619a" stroke="#4f619a"/>
<path d="M535.2 151.9L538.3 149.6L536.7 147.3L533.6 149.6Z" fill="#525c98" stroke="#525c98"/>
<path d="M541.5 153.9L544.6 151.7L543.0 149.6L539.9 151.8Z" fill="#555797" stroke="#555797"/>
<path d="M547.8 155.8L550.8 153.8L549.2 151.8L546.2 153.8Z" fill="#585395" stroke="#585395"/>
<path d="M554.1 157.6L557.0 155.7L555.4 153.8L552.4 155.7Z" fill="#5b4e93" stroke="#5b4e93"/>
<path d="M560.3 159.4L563.2 157.5L561.6 155.7L558.7 157.6Z" fill="#5e4a92" stroke="#5e4a92"/>
<path d="M566.5 160.9L569.4 159.1L567.7 157.5L564.8 159.2Z" fill="#604790" stroke="#604790"/>
<path d="M572.7 162.4L575.5 160.6L573.8 159.1L571.0 160.8Z" fill="#62438f" stroke="#62438f"/>
<path d="M578.9 163.7L581.6 162.0L580.0 160.5L577.2 162.2Z" fill="#64408e" stroke="#64408e"/>
<path d="M585.0 165.0L587.8 163.3L586.1 161.8L583.3 163.5Z" fill="#673c8b" stroke="#673c8b"/>
<path d="M591.2 166.1L593.9 164.4L592.1 163.0L589.5 164.7Z" fill="#693988" stroke="#693988"/>
<path d="M597.3 167.1L600.0 165.4L598.2 164.1L595.6 165.7Z" fill="#6a3685" stroke="#6a3685"/>
<path d="M603.5 168.0L606.1 166.3L604.3 165.0L601.7 166.7Z" fill="#6c3382" stroke="#6c3382"/>
<path d="M609.6 168.8L612.1 167.1L610.4 165.9L607.8 167.5Z" fill="#6d3180" stroke="#6d3180"/>
<path d="M504.8 144.8L508.0 141.0L506.4 138.1L503.2 142.1Z" fill="#466f99" stroke="#466f99"/>
<path d="M511.2 146.4L514.5 143.1L512.8 140.3L509.6 143.8Z" fill="#486b99" stroke="#486b99"/>
<path d="M517.7 148.3L520.9 145.2L519.3 142.6L516.1 145.7Z" fill="#4b679a" stroke="#4b679a"/>
<path d="M524.1 150.2L527.2 147.4L525.6 145.0L522.5 147.7Z" fill="#4e629b" stroke="#4e629b"/>
<path d="M530.5 152.1L533.6 149.6L532.0 147.3L528.9 149.8Z" fill="#515e99" stroke="#515e99"/>
<path d="M536.8 154.1L539.9 151.8L538.3 149.6L535.2 151.9Z" fill="#545997" stroke="#545997"/>
<path d="M543.1 156.0L546.2 153.8L544.6 151.7L541.5 153.9Z" fill="#575596" stroke="#575596"/>
<path d="M549.4 157.8L552.4 155.7L550.8 153.8L547.8 155.8Z" fill="#5a5094" stroke="#5a5094"/>
<path d="M555.7 159.5L558.7 157.6L557.0 155.7L554.1 157.6Z" fill="#5c4c93" stroke="#5c4c93"/>
<path d="M561.9 161.1L564.8 159.2L563.2 157.5L560.3 159.4Z" fill="#5f4891" stroke="#5f4891"/>
<path d="M568.2 162.6L571.0 160.8L569.4 159.1L566.5 160.9Z" fill="#614590" stroke="#614590"/>
<path d="M574.4 164.0L577.2 162.2L575.5 160.6L572.7 162.4Z" fill="#63428f" stroke="#63428f"/>
<path d="M580.6 165.2L583.3 163.5L581.6 162.0L578.9 163.7Z" fill="#653e8d" stroke="#653e8d"/>
<path d="M586.7 166.4L589.5 164.7L587.8 163.3L585.0 165.0Z" fill="#673b89" stroke="#673b89"/>
<path d="M592.9 167.4L595.6 165.7L593.9 164.4L591.2 166.1Z" fill="#693886" stroke="#693886"/>
<path d="M599.1 168.4L601.7 166.7L600.0 165.4L597.3 167.1Z" fill="#6b3584" stroke="#6b3584"/>
<path d="M605.2 169.2L607.8 167.5L606.1 166.3L603.5 168.0Z" fill="#6c3281" stroke="#6c3281"/>
<path d="M506.4 147.5L509.6 143.8L508.0 141.0L504.8 144.8Z" fill="#486b99" stroke="#486b99"/>
<path d="M512.8 149.0L516.1 145.7L514.5 143.1L511.2 146.4Z" fill="#4a679a" stroke="#4a679a"/>
<path d="M519.3 150.7L522.5 147.7L520.9 145.2L517.7 148.3Z" fill="#4d639b" stroke="#4d639b"/>
<path d="M525.7 152.5L528.9 149.8L527.2 147.4L524.1 150.2Z" fill="#505f99" stroke="#505f99"/>
<path d="M532.1 154.4L535.2 151.9L533.6 149.6L530.5 152.1Z" fill="#535b98" stroke="#535b98"/>
<path d="M538.4 156.2L541.5 153.9L539.9 151.8L536.8 154.1Z" fill="#565696" stroke="#565696"/>
<path d="M544.8 158.0L547.8 155.8L546.2 153.8L543.1 156.0Z" fill="#585295" stroke="#585295"/>
<path d="M551.1 159.7L554.1 157.6L552.4 155.7L549.4 157.8Z" fill="#5b4e93" stroke="#5b4e93"/>
<path d="M557.4 161.3L560.3 159.4L558.7 157.6L555.7 159.5Z" fill="#5e4a92" stroke="#5e4a92"/>
<path d="M563.6 162.8L566.5 160.9L564.8 159.2L561.9 161.1Z" fill="#604790" stroke="#604790"/>
<path d="M569.8 164.2L572.7 162.4L571.0 160.8L568.2 162.6Z" fill="#62438f" stroke="#62438f"/>
<path d="M576.1 165.5L578.9 163.7L577.2 162.2L574.4 164.0Z" fill="#64408e" stroke="#64408e"/>
<path d="M582.3 166.7L585.0 165.0L583.3 163.5L580.6 165.2Z" fill="#663d8b" stroke="#663d8b"/>
<path d="M588.5 167.8L591.2 166.1L589.5 164.7L586.7 166.4Z" fill="#683a88" stroke="#683a88"/>
<path d="M594.7 168.8L597.3 167.1L595.6 165.7L592.9 167.4Z" fill="#6a3785" stroke="#6a3785"/>
<path d="M600.8 169.7L603.5 168.0L601.7 166.7L599.1 168.4Z" fill="#6c3483" stroke="#6c3483"/>
<path d="M607.0 170.5L609.6 168.8L607.8 167.5L605.2 169.2Z" fill="#6d3281" stroke="#6d3281"/>
<path d="M508.0 150.1L511.2 146.4L509.6 143.8L506.4 147.5Z" fill="#4b679a" stroke="#4b679a"/>
<path d="M514.4 151.5L517.7 148.3L516.1 145.7L512.8 149.0Z" fill="#4d649b" stroke="#4d649b"/>
<path d="M520.9 153.1L524.1 150.2L522.5 147.7L519.3 150.7Z" fill="#4f609a" stroke="#4f609a"/>
<path d="M527.3 154.8L530.5 152.1L528.9 149.8L525.7 152.5Z" fill="#525c98" stroke="#525c98"/>
<path d="M533.7 156.5L536.8 154.1L535.2 151.9L532.1 154.4Z" fill="#555897" stroke="#555897"/>
<path d="M540.1 158.2L543.1 156.0L541.5 153.9L538.4 156.2Z" fill="#575495" stroke="#575495"/>
<path d="M546.4 159.9L549.4 157.8L547.8 155.8L544.8 158.0Z" fill="#5a5094" stroke="#5a5094"/>
<path d="M552.7 161.5L555.7 159.5L554.1 157.6L551.1 159.7Z" fill="#5d4c92" stroke="#5d4c92"/>
<path d="M559.0 163.1L561.9 161.1L560.3 159.4L557.4 161.3Z" fill="#5f4891" stroke="#5f4891"/>
<path d="M565.3 164.5L568.2 162.6L566.5 160.9L563.6 162.8Z" fill="#614590" stroke="#614590"/>
<path d="M571.5 165.8L574.4 164.0L572.7 162.4L569.8 164.2Z" fill="#63428f" stroke="#63428f"/>
<path d="M577.8 167.1L580.6 165.2L578.9 163.7L576.1 165.5Z" fill="#653f8d" stroke="#653f8d"/>
<path d="M584.0 168.2L586.7 166.4L585.0 165.0L582.3 166.7Z" fill="#673b8a" stroke="#673b8a"/>
<path d="M590.2 169.2L592.9 167.4L591.2 166.1L588.5 167.8Z" fill="#693887" stroke="#693887"/>
<path d="M596.4 170.2L599.1 168.4L597.3 167.1L594.7 168.8Z" fill="#6b3584" stroke="#6b3584"/>
<path d="M602.6 171.0L605.2 169.2L603.5 168.0L600.8 169.7Z" fill="#6c3382" stroke="#6c3382"/>
<path d="M509.6 152.5L512.8 149.0L511.2 146.4L508.0 150.1Z" fill="#4d649b" stroke="#4d649b"/>
<path d="M516.1 153.9L519.3 150.7L517.7 148.3L514.4 151.5Z" fill="#4f619a" stroke="#4f619a"/>
<path d="M522.5 155.4L525.7 152.5L524.1 150.2L520.9 153.1Z" fill="#515d99" stroke="#515d99"/>
<path d="M528.9 157.0L532.1 154.4L530.5 152.1L527.3 154.8Z" fill="#545997" stroke="#545997"/>
<path d="M535.3 158.6L538.4 156.2L536.8 154.1L533.7 156.5Z" fill="#565596" stroke="#565596"/>
<path d="M541.7 160.3L544.8 158.0L543.1 156.0L540.1 158.2Z" fill="#595194" stroke="#595194"/>
<path d="M548.0 161.8L551.1 159.7L549.4 157.8L546.4 159.9Z" fill="#5b4e93" stroke="#5b4e93"/>
<path d="M554.4 163.4L557.4 161.3L555.7 159.5L552.7 161.5Z" fill="#5e4a92" stroke="#5e4a92"/>
<path d="M560.7 164.8L563.6 162.8L561.9 161.1L559.0 163.1Z" fill="#604790" stroke="#604790"/>
<path d="M567.0 166.1L569.8 164.2L568.2 162.6L565.3 164.5Z" fill="#62438f" stroke="#62438f"/>
<path d="M573.2 167.4L576.1 165.5L574.4 164.0L571.5 165.8Z" fill="#64418e" stroke="#64418e"/>
<path d="M579.5 168.6L582.3 166.7L580.6 165.2L577.8 167.1Z" fill="#663d8b" stroke="#663d8b"/>
<path d="M585.7 169.6L588.5 167.8L586.7 166.4L584.0 168.2Z" fill="#683a88" stroke="#683a88"/>
<path d="M592.0 170.6L594.7 168.8L592.9 167.4L590.2 169.2Z" fill="#6a3786" stroke="#6a3786"/>
<path d="M598.2 171.5L600.8 169.7L599.1 168.4L596.4 170.2Z" fill="#6b3483" stroke="#6b3483"/>
<path d="M604.4 172.3L607.0 170.5L605.2 169.2L602.6 171.0Z" fill="#6d3281" stroke="#6d3281"/>
<path d="M511.2 154.9L514.4 151.5L512.8 149.0L509.6 152.5Z" fill="#4f619a" stroke="#4f619a"/>
<path d="M517.7 156.2L520.9 153.1L519.3 150.7L516.1 153.9Z" fill="#515d99" stroke="#515d99"/>
<path d="M524.1 157.6L527.3 154.8L525.7 152.5L522.5 155.4Z" fill="#535a98" stroke="#535a98"/>
<path d="M530.6 159.1L533.7 156.5L532.1 154.4L528.9 157.0Z" fill="#565696" stroke="#565696"/>
<path d="M537.0 160.7L540.1 158.2L538.4 156.2L535.3 158.6Z" fill="#585395" stroke="#585395"/>
<path d="M543.3 162.2L546.4 159.9L544.8 158.0L541.7 160.3Z" fill="#5b4f94" stroke="#5b4f94"/>
<path d="M549.7 163.7L552.7 161.5L551.1 159.7L548.0 161.8Z" fill="#5d4b92" stroke="#5d4b92"/>
<path d="M556.0 165.1L559.0 163.1L557.4 161.3L554.4 163.4Z" fill="#5f4891" stroke="#5f4891"/>
<path d="M562.4 166.5L565.3 164.5L563.6 162.8L560.7 164.8Z" fill="#614590" stroke="#614590"/>
<path d="M568.6 167.8L571.5 165.8L569.8 164.2L567.0 166.1Z" fill="#63428f" stroke="#63428f"/>
<path d="M574.9 168.9L577.8 167.1L576.1 165.5L573.2 167.4Z" fill="#653f8d" stroke="#653f8d"/>
<path d="M581.2 170.0L584.0 168.2L582.3 166.7L579.5 168.6Z" fill="#673c8a" stroke="#673c8a"/>
<path d="M587.5 171.0L590.2 169.2L588.5 167.8L585.7 169.6Z" fill="#693987" stroke="#693987"/>
<path d="M593.7 172.0L596.4 170.2L594.7 168.8L592.0 170.6Z" fill="#6a3685" stroke="#6a3685"/>
<path d="M600.0 172.8L602.6 171.0L600.8 169.7L598.2 171.5Z" fill="#6c3382" stroke="#6c3382"/>
<path d="M512.8 157.2L516.1 153.9L514.4 151.5L511.2 154.9Z" fill="#515d99" stroke="#515d99"/>
<path d="M519.3 158.4L522.5 155.4L520.9 153.1L517.7 156.2Z" fill="#535a98" stroke="#535a98"/>
<path d="M525.7 159.8L528.9 157.0L527.3 154.8L524.1 157.6Z" fill="#555797" stroke="#555797"/>
<path d="M532.2 161.2L535.3 158.6L533.7 156.5L530.6 159.1Z" fill="#575495" stroke="#575495"/>
<path d="M538.6 162.7L541.7 160.3L540.1 158.2L537.0 160.7Z" fill="#5a5094" stroke="#5a5094"/>
<path d="M545.0 164.1L548.0 161.8L546.4 159.9L543.3 162.2Z" fill="#5c4d93" stroke="#5c4d93"/>
<path d="M551.4 165.5L554.4 163.4L552.7 161.5L549.7 163.7Z" fill="#5e4a92" stroke="#5e4a92"/>
<path d="M557.7 166.9L560.7 164.8L559.0 163.1L556.0 165.1Z" fill="#604690" stroke="#604690"/>
<path d="M564.0 168.1L567.0 166.1L565.3 164.5L562.4 166.5Z" fill="#62438f" stroke="#62438f"/>
<path d="M570.3 169.3L573.2 167.4L571.5 165.8L568.6 167.8Z" fill="#64418e" stroke="#64418e"/>
<path d="M576.6 170.5L579.5 168.6L577.8 167.1L574.9 168.9Z" fill="#663d8c" stroke="#663d8c"/>
<path d="M582.9 171.5L585.7 169.6L584.0 168.2L581.2 170.0Z" fill="#683a89" stroke="#683a89"/>
<path d="M589.2 172.5L592.0 170.6L590.2 169.2L587.5 171.0Z" fill="#6a3786" stroke="#6a3786"/>
<path d="M595.5 173.3L598.2 171.5L596.4 170.2L593.7 172.0Z" fill="#6b3584" stroke="#6b3584"/>
<path d="M601.7 174.1L604.4 172.3L602.6 171.0L600.0 172.8Z" fill="#6c3282" stroke="#6c3282"/>
<path d="M514.4 159.5L517.7 156.2L516.1 153.9L512.8 157.2Z" fill="#535a98" stroke="#535a98"/>
<path d="M520.9 160.6L524.1 157.6L522.5 155.4L519.3 158.4Z" fill="#555897" stroke="#555897"/>
<path d="M527.4 161.9L530.6 159.1L528.9 157.0L525.7 159.8Z" fill="#575496" stroke="#575496"/>
<path d="M533.8 163.2L537.0 160.7L535.3 158.6L532.2 161.2Z" fill="#595194" stroke="#595194"/>
<path d="M540.2 164.6L543.3 162.2L541.7 160.3L538.6 162.7Z" fill="#5b4e93" stroke="#5b4e93"/>
<path d="M546.6 165.9L549.7 163.7L548.0 161.8L545.0 164.1Z" fill="#5d4b92" stroke="#5d4b92"/>
<path d="M553.0 167.3L556.0 165.1L554.4 163.4L551.4 165.5Z" fill="#5f4891" stroke="#5f4891"/>
<path d="M559.4 168.6L562.4 166.5L560.7 164.8L557.7 166.9Z" fill="#614590" stroke="#614590"/>
<path d="M565.7 169.8L568.6 167.8L567.0 166.1L564.0 168.1Z" fill="#63428f" stroke="#63428f"/>
<path d="M572.1 170.9L574.9 168.9L573.2 167.4L570.3 169.3Z" fill="#653f8d" stroke="#653f8d"/>
<path d="M578.4 172.0L581.2 170.0L579.5 168.6L576.6 170.5Z" fill="#673c8a" stroke="#673c8a"/>
<path d="M584.7 172.9L587.5 171.0L585.7 169.6L582.9 171.5Z" fill="#693987" stroke="#693987"/>
<path d="M591.0 173.8L593.7 172.0L592.0 170.6L589.2 172.5Z" fill="#6a3685" stroke="#6a3685"/>
<path d="M597.3 174.7L600.0 172.8L598.2 171.5L595.5 173.3Z" fill="#6c3483" stroke="#6c3483"/>
<path d="M516.0 161.7L519.3 158.4L517.7 156.2L514.4 159.5Z" fill="#555897" stroke="#555897"/>
<path d="M522.5 162.7L525.7 159.8L524.1 157.6L520.9 160.6Z" fill="#575596" stroke="#575596"/>
<path d="M529.0 163.9L532.2 161.2L530.6 159.1L527.4 161.9Z" fill="#595295" stroke="#595295"/>
<path d="M535.5 165.2L538.6 162.7L537.0 160.7L533.8 163.2Z" fill="#5b4f94" stroke="#5b4f94"/>
<path d="M541.9 166.5L545.0 164.1L543.3 162.2L540.2 164.6Z" fill="#5d4c92" stroke="#5d4c92"/>
<path d="M548.3 167.8L551.4 165.5L549.7 163.7L546.6 165.9Z" fill="#5f4991" stroke="#5f4991"/>
<path d="M554.7 169.0L557.7 166.9L556.0 165.1L553.0 167.3Z" fill="#614690" stroke="#614690"/>
<path d="M561.1 170.2L564.0 168.1L562.4 166.5L559.4 168.6Z" fill="#62438f" stroke="#62438f"/>
<path d="M567.4 171.4L570.3 169.3L568.6 167.8L565.7 169.8Z" fill="#64418e" stroke="#64418e"/>
<path d="M573.8 172.4L576.6 170.5L574.9 168.9L572.1 170.9Z" fill="#663d8c" stroke="#663d8c"/>
<path d="M580.1 173.4L582.9 171.5L581.2 170.0L578.4 172.0Z" fill="#683a89" stroke="#683a89"/>
<path d="M586.4 174.4L589.2 172.5L587.5 171.0L584.7 172.9Z" fill="#693886" stroke="#693886"/>
<path d="M592.7 175.2L595.5 173.3L593.7 172.0L591.0 173.8Z" fill="#6b3584" stroke="#6b3584"/>
<path d="M599.1 176.0L601.7 174.1L600.0 172.8L597.3 174.7Z" fill="#6c3382" stroke="#6c3382"/>
<path d="M517.7 163.8L520.9 160.6L519.3 158.4L516.0 161.7Z" fill="#575596" stroke="#575596"/>
<path d="M524.2 164.8L527.4 161.9L525.7 159.8L522.5 162.7Z" fill="#585295" stroke="#585295"/>
<path d="M530.6 165.9L533.8 163.2L532.2 161.2L529.0 163.9Z" fill="#5a5094" stroke="#5a5094"/>
<path d="M537.1 167.1L540.2 164.6L538.6 162.7L535.5 165.2Z" fill="#5c4d93" stroke="#5c4d93"/>
<path d="M543.5 168.3L546.6 165.9L545.0 164.1L541.9 166.5Z" fill="#5e4a92" stroke="#5e4a92"/>
<path d="M550.0 169.5L553.0 167.3L551.4 165.5L548.3 167.8Z" fill="#604791" stroke="#604791"/>
<path d="M556.4 170.7L559.4 168.6L557.7 166.9L554.7 169.0Z" fill="#624490" stroke="#624490"/>
<path d="M562.8 171.8L565.7 169.8L564.0 168.1L561.1 170.2Z" fill="#63428f" stroke="#63428f"/>
<path d="M569.1 172.9L572.1 170.9L570.3 169.3L567.4 171.4Z" fill="#653f8d" stroke="#653f8d"/>
<path d="M575.5 173.9L578.4 172.0L576.6 170.5L573.8 172.4Z" fill="#673c8a" stroke="#673c8a"/>
<path d="M581.9 174.9L584.7 172.9L582.9 171.5L580.1 173.4Z" fill="#693988" stroke="#693988"/>
<path d="M588.2 175.8L591.0 173.8L589.2 172.5L586.4 174.4Z" fill="#6a3685" stroke="#6a3685"/>
<path d="M594.5 176.6L597.3 174.7L595.5 173.3L592.7 175.2Z" fill="#6b3483" stroke="#6b3483"/>
<path d="M519.3 165.8L522.5 162.7L520.9 160.6L517.7 163.8Z" fill="#585295" stroke="#585295"/>
<path d="M525.8 166.8L529.0 163.9L527.4 161.9L524.2 164.8Z" fill="#5a5094" stroke="#5a5094"/>
<path d="M532.3 167.8L535.5 165.2L533.8 163.2L530.6 165.9Z" fill="#5c4d93" stroke="#5c4d93"/>
<path d="M538.7 169.0L541.9 166.5L540.2 164.6L537.1 167.1Z" fill="#5d4b92" stroke="#5d4b92"/>
<path d="M545.2 170.1L548.3 167.8L546.6 165.9L543.5 168.3Z" fill="#5f4891" stroke="#5f4891"/>
<path d="M551.6 171.3L554.7 169.0L553.0 167.3L550.0 169.5Z" fill="#614590" stroke="#614590"/>
<path d="M558.1 172.4L561.1 170.2L559.4 168.6L556.4 170.7Z" fill="#63438f" stroke="#63438f"/>
<path d="M564.5 173.5L567.4 171.4L565.7 169.8L562.8 171.8Z" fill="#64408e" stroke="#64408e"/>
<path d="M570.9 174.5L573.8 172.4L572.1 170.9L569.1 172.9Z" fill="#663d8c" stroke="#663d8c"/>
<path d="M577.2 175.4L580.1 173.4L578.4 172.0L575.5 173.9Z" fill="#683a89" stroke="#683a89"/>
<path d="M583.6 176.3L586.4 174.4L584.7 172.9L581.9 174.9Z" fill="#693886" stroke="#693886"/>
<path d="M590.0 177.2L592.7 175.2L591.0 173.8L588.2 175.8Z" fill="#6b3584" stroke="#6b3584"/>
<path d="M596.3 177.9L599.1 176.0L597.3 174.7L594.5 176.6Z" fill="#6c3382" stroke="#6c3382"/>
<path d="M520.9 167.8L524.2 164.8L522.5 162.7L519.3 165.8Z" fill="#5a5094" stroke="#5a5094"/>
<path d="M527.4 168.7L530.6 165.9L529.0 163.9L525.8 166.8Z" fill="#5b4e93" stroke="#5b4e93"/>
<path d="M533.9 169.7L537.1 167.1L535.5 165.2L532.3 167.8Z" fill="#5d4b92" stroke="#5d4b92"/>
<path d="M540.4 170.8L543.5 168.3L541.9 166.5L538.7 169.0Z" fill="#5f4991" stroke="#5f4991"/>
<path d="M546.9 171.9L550.0 169.5L548.3 167.8L545.2 170.1Z" fill="#604690" stroke="#604690"/>
<path d="M553.3 173.0L556.4 170.7L554.7 169.0L551.6 171.3Z" fill="#62448f" stroke="#62448f"/>
<path d="M559.8 174.0L562.8 171.8L561.1 170.2L558.1 172.4Z" fill="#64418e" stroke="#64418e"/>
<path d="M566.2 175.0L569.1 172.9L567.4 171.4L564.5 173.5Z" fill="#653f8d" stroke="#653f8d"/>
<path d="M572.6 176.0L575.5 173.9L573.8 172.4L570.9 174.5Z" fill="#673c8a" stroke="#673c8a"/>
<path d="M579.0 176.9L581.9 174.9L580.1 173.4L577.2 175.4Z" fill="#693988" stroke="#693988"/>
<path d="M585.4 177.7L588.2 175.8L586.4 174.4L583.6 176.3Z" fill="#6a3785" stroke="#6a3785"/>
<path d="M591.8 178.5L594.5 176.6L592.7 175.2L590.0 177.2Z" fill="#6b3483" stroke="#6b3483"/>
<path d="M522.5 169.8L525.8 166.8L524.2 164.8L520.9 167.8Z" fill="#5b4e93" stroke="#5b4e93"/>
<path d="M529.1 170.6L532.3 167.8L530.6 165.9L527.4 168.7Z" fill="#5d4c92" stroke="#5d4c92"/>
<path d="M535.6 171.6L538.7 169.0L537.1 167.1L533.9 169.7Z" fill="#5e4991" stroke="#5e4991"/>
<path d="M542.1 172.6L545.2 170.1L543.5 168.3L540.4 170.8Z" fill="#604791" stroke="#604791"/>
<path d="M548.6 173.6L551.6 171.3L550.0 169.5L546.9 171.9Z" fill="#614590" stroke="#614590"/>
<path d="M555.0 174.6L558.1 172.4L556.4 170.7L553.3 173.0Z" fill="#63428f" stroke="#63428f"/>
<path d="M561.5 175.6L564.5 173.5L562.8 171.8L559.8 174.0Z" fill="#64408e" stroke="#64408e"/>
<path d="M567.9 176.6L570.9 174.5L569.1 172.9L566.2 175.0Z" fill="#663d8b" stroke="#663d8b"/>
<path d="M574.3 177.5L577.2 175.4L575.5 173.9L572.6 176.0Z" fill="#683a89" stroke="#683a89"/>
<path d="M580.8 178.4L583.6 176.3L581.9 174.9L579.0 176.9Z" fill="#693886" stroke="#693886"/>
<path d="M587.2 179.2L590.0 177.2L588.2 175.8L585.4 177.7Z" fill="#6b3684" stroke="#6b3684"/>
<path d="M593.6 179.9L596.3 177.9L594.5 176.6L591.8 178.5Z" fill="#6c3382" stroke="#6c3382"/>
<path d="M524.2 171.7L527.4 168.7L525.8 166.8L522.5 169.8Z" fill="#5d4c92" stroke="#5d4c92"/>
<path d="M530.7 172.5L533.9 169.7L532.3 167.8L529.1 170.6Z" fill="#5e4a92" stroke="#5e4a92"/>
<path d="M537.2 173.4L540.4 170.8L538.7 169.0L535.6 171.6Z" fill="#5f4891" stroke="#5f4891"/>
<path d="M543.7 174.3L546.9 171.9L545.2 170.1L542.1 172.6Z" fill="#614590" stroke="#614590"/>
<path d="M550.2 175.3L553.3 173.0L551.6 171.3L548.6 173.6Z" fill="#62438f" stroke="#62438f"/>
<path d="M556.7 176.3L559.8 174.0L558.1 172.4L555.0 174.6Z" fill="#64418e" stroke="#64418e"/>
<path d="M563.2 177.2L566.2 175.0L564.5 173.5L561.5 175.6Z" fill="#653e8c" stroke="#653e8c"/>
<path d="M569.6 178.1L572.6 176.0L570.9 174.5L567.9 176.6Z" fill="#673c8a" stroke="#673c8a"/>
<path d="M576.1 179.0L579.0 176.9L577.2 175.4L574.3 177.5Z" fill="#693988" stroke="#693988"/>
<path d="M582.5 179.8L585.4 177.7L583.6 176.3L580.8 178.4Z" fill="#6a3785" stroke="#6a3785"/>
<path d="M588.9 180.6L591.8 178.5L590.0 177.2L587.2 179.2Z" fill="#6b3483" stroke="#6b3483"/>
<path d="M525.8 173.6L529.1 170.6L527.4 168.7L524.2 171.7Z" fill="#5e4a92" stroke="#5e4a92"/>
<path d="M532.4 174.3L535.6 171.6L533.9 169.7L530.7 172.5Z" fill="#5f4891" stroke="#5f4891"/>
<path d="M538.9 175.2L542.1 172.6L540.4 170.8L537.2 173.4Z" fill="#614690" stroke="#614690"/>
<path d="M545.4 176.1L548.6 173.6L546.9 171.9L543.7 174.3Z" fill="#62448f" stroke="#62448f"/>
<path d="M551.9 177.0L555.0 174.6L553.3 173.0L550.2 175.3Z" fill="#63428f" stroke="#63428f"/>
<path d="M558.4 177.9L561.5 175.6L559.8 174.0L556.7 176.3Z" fill="#653f8d" stroke="#653f8d"/>
<path d="M564.9 178.8L567.9 176.6L566.2 175.0L563.2 177.2Z" fill="#663d8b" stroke="#663d8b"/>
<path d="M571.4 179.6L574.3 177.5L572.6 176.0L569.6 178.1Z" fill="#683a89" stroke="#683a89"/>
<path d="M577.9 180.4L580.8 178.4L579.0 176.9L576.1 179.0Z" fill="#693886" stroke="#693886"/>
<path d="M584.3 181.2L587.2 179.2L585.4 177.7L582.5 179.8Z" fill="#6b3684" stroke="#6b3684"/>
<path d="M590.8 181.9L593.6 179.9L591.8 178.5L588.9 180.6Z" fill="#6c3382" stroke="#6c3382"/>
<path d="M527.5 175.4L530.7 172.5L529.1 170.6L525.8 173.6Z" fill="#5f4891" stroke="#5f4891"/>
<path d="M534.0 176.1L537.2 173.4L535.6 171.6L532.4 174.3Z" fill="#604690" stroke="#604690"/>
<path d="M540.6 176.9L543.7 174.3L542.1 172.6L538.9 175.2Z" fill="#624490" stroke="#624490"/>
<path d="M547.1 177.7L550.2 175.3L548.6 173.6L545.4 176.1Z" fill="#63428f" stroke="#63428f"/>
<path d="M553.6 178.6L556.7 176.3L555.0 174.6L551.9 177.0Z" fill="#64408e" stroke="#64408e"/>
<path d="M560.2 179.5L563.2 177.2L561.5 175.6L558.4 177.9Z" fill="#663e8c" stroke="#663e8c"/>
<path d="M566.7 180.3L569.6 178.1L567.9 176.6L564.9 178.8Z" fill="#673b8a" stroke="#673b8a"/>
<path d="M573.2 181.1L576.1 179.0L574.3 177.5L571.4 179.6Z" fill="#693987" stroke="#693987"/>
<path d="M579.6 181.9L582.5 179.8L580.8 178.4L577.9 180.4Z" fill="#6a3785" stroke="#6a3785"/>
<path d="M586.1 182.6L588.9 180.6L587.2 179.2L584.3 181.2Z" fill="#6b3483" stroke="#6b3483"/>
<path d="M529.1 177.2L532.4 174.3L530.7 172.5L527.5 175.4Z" fill="#604690" stroke="#604690"/>
<path d="M535.7 177.8L538.9 175.2L537.2 173.4L534.0 176.1Z" fill="#614590" stroke="#614590"/>
<path d="M542.3 178.6L545.4 176.1L543.7 174.3L540.6 176.9Z" fill="#63438f" stroke="#63438f"/>
<path d="M548.8 179.4L551.9 177.0L550.2 175.3L547.1 177.7Z" fill="#64418e" stroke="#64418e"/>
<path d="M555.4 180.2L558.4 177.9L556.7 176.3L553.6 178.6Z" fill="#653f8d" stroke="#653f8d"/>
<path d="M561.9 181.0L564.9 178.8L563.2 177.2L560.2 179.5Z" fill="#673c8b" stroke="#673c8b"/>
<path d="M568.4 181.8L571.4 179.6L569.6 178.1L566.7 180.3Z" fill="#683a88" stroke="#683a88"/>
<path d="M574.9 182.6L577.9 180.4L576.1 179.0L573.2 181.1Z" fill="#693886" stroke="#693886"/>
<path d="M581.4 183.3L584.3 181.2L582.5 179.8L579.6 181.9Z" fill="#6b3584" stroke="#6b3584"/>
<path d="M587.9 184.0L590.8 181.9L588.9 180.6L586.1 182.6Z" fill="#6c3382" stroke="#6c3382"/>
<path d="M530.8 178.9L534.0 176.1L532.4 174.3L529.1 177.2Z" fill="#614590" stroke="#614590"/>
<path d="M537.4 179.6L540.6 176.9L538.9 175.2L535.7 177.8Z" fill="#62438f" stroke="#62438f"/>
<path d="M544.0 180.3L547.1 177.7L545.4 176.1L542.3 178.6Z" fill="#64418e" stroke="#64418e"/>
<path d="M550.5 181.0L553.6 178.6L551.9 177.0L548.8 179.4Z" fill="#653f8d" stroke="#653f8d"/>
<path d="M557.1 181.8L560.2 179.5L558.4 177.9L555.4 180.2Z" fill="#663d8b" stroke="#663d8b"/>
<path d="M563.6 182.6L566.7 180.3L564.9 178.8L561.9 181.0Z" fill="#683b89" stroke="#683b89"/>
<path d="M570.2 183.3L573.2 181.1L571.4 179.6L568.4 181.8Z" fill="#693987" stroke="#693987"/>
<path d="M576.7 184.1L579.6 181.9L577.9 180.4L574.9 182.6Z" fill="#6a3685" stroke="#6a3685"/>
<path d="M583.2 184.8L586.1 182.6L584.3 181.2L581.4 183.3Z" fill="#6b3483" stroke="#6b3483"/>
<path d="M532.5 180.6L535.7 177.8L534.0 176.1L530.8 178.9Z" fill="#62438f" stroke="#62438f"/>
<path d="M539.1 181.2L542.3 178.6L540.6 176.9L537.4 179.6Z" fill="#63428f" stroke="#63428f"/>
<path d="M545.7 181.9L548.8 179.4L547.1 177.7L544.0 180.3Z" fill="#65408e" stroke="#65408e"/>
<path d="M552.2 182.6L555.4 180.2L553.6 178.6L550.5 181.0Z" fill="#663e8c" stroke="#663e8c"/>
<path d="M558.8 183.4L561.9 181.0L560.2 179.5L557.1 181.8Z" fill="#673c8a" stroke="#673c8a"/>
<path d="M565.4 184.1L568.4 181.8L566.7 180.3L563.6 182.6Z" fill="#683988" stroke="#683988"/>
<path d="M571.9 184.8L574.9 182.6L573.2 181.1L570.2 183.3Z" fill="#6a3786" stroke="#6a3786"/>
<path d="M578.5 185.5L581.4 183.3L579.6 181.9L576.7 184.1Z" fill="#6b3584" stroke="#6b3584"/>
<path d="M585.0 186.2L587.9 184.0L586.1 182.6L583.2 184.8Z" fill="#6c3382" stroke="#6c3382"/>
<path d="M534.1 182.3L537.4 179.6L535.7 177.8L532.5 180.6Z" fill="#63428f" stroke="#63428f"/>
<path d="M540.8 182.9L544.0 180.3L542.3 178.6L539.1 181.2Z" fill="#64408e" stroke="#64408e"/>
<path d="M547.4 183.5L550.5 181.0L548.8 179.4L545.7 181.9Z" fill="#653e8c" stroke="#653e8c"/>
<path d="M554.0 184.2L557.1 181.8L555.4 180.2L552.2 182.6Z" fill="#673c8b" stroke="#673c8b"/>
<path d="M560.6 184.9L563.6 182.6L561.9 181.0L558.8 183.4Z" fill="#683a89" stroke="#683a89"/>
<path d="M567.2 185.6L570.2 183.3L568.4 181.8L565.4 184.1Z" fill="#693887" stroke="#693887"/>
<path d="M573.7 186.3L576.7 184.1L574.9 182.6L571.9 184.8Z" fill="#6a3685" stroke="#6a3685"/>
<path d="M580.3 186.9L583.2 184.8L581.4 183.3L578.5 185.5Z" fill="#6b3483" stroke="#6b3483"/>
<path d="M535.8 184.0L539.1 181.2L537.4 179.6L534.1 182.3Z" fill="#64408e" stroke="#64408e"/>
<path d="M542.5 184.5L545.7 181.9L544.0 180.3L540.8 182.9Z" fill="#653f8d" stroke="#653f8d"/>
<path d="M549.1 185.1L552.2 182.6L550.5 181.0L547.4 183.5Z" fill="#663d8b" stroke="#663d8b"/>
<path d="M555.7 185.8L558.8 183.4L557.1 181.8L554.0 184.2Z" fill="#683b89" stroke="#683b89"/>
<path d="M562.3 186.4L565.4 184.1L563.6 182.6L560.6 184.9Z" fill="#693987" stroke="#693987"/>
<path d="M568.9 187.1L571.9 184.8L570.2 183.3L567.2 185.6Z" fill="#6a3786" stroke="#6a3786"/>
<path d="M575.5 187.7L578.5 185.5L576.7 184.1L573.7 186.3Z" fill="#6b3584" stroke="#6b3584"/>
<path d="M582.1 188.4L585.0 186.2L583.2 184.8L580.3 186.9Z" fill="#6c3382" stroke="#6c3382"/>
<path d="M537.5 185.6L540.8 182.9L539.1 181.2L535.8 184.0Z" fill="#653f8d" stroke="#653f8d"/>
<path d="M544.2 186.1L547.4 183.5L545.7 181.9L542.5 184.5Z" fill="#663d8b" stroke="#663d8b"/>
<path d="M550.8 186.7L554.0 184.2L552.2 182.6L549.1 185.1Z" fill="#673b8a" stroke="#673b8a"/>
<path d="M557.5 187.3L560.6 184.9L558.8 183.4L555.7 185.8Z" fill="#683988" stroke="#683988"/>
<path d="M564.1 188.0L567.2 185.6L565.4 184.1L562.3 186.4Z" fill="#693886" stroke="#693886"/>
<path d="M570.7 188.6L573.7 186.3L571.9 184.8L568.9 187.1Z" fill="#6a3685" stroke="#6a3685"/>
<path d="M577.3 189.2L580.3 186.9L578.5 185.5L575.5 187.7Z" fill="#6b3483" stroke="#6b3483"/>
<path d="M539.2 187.2L542.5 184.5L540.8 182.9L537.5 185.6Z" fill="#663d8b" stroke="#663d8b"/>
<path d="M545.9 187.7L549.1 185.1L547.4 183.5L544.2 186.1Z" fill="#673b8a" stroke="#673b8a"/>
<path d="M552.6 188.3L555.7 185.8L554.0 184.2L550.8 186.7Z" fill="#683a88" stroke="#683a88"/>
<path d="M559.2 188.9L562.3 186.4L560.6 184.9L557.5 187.3Z" fill="#693887" stroke="#693887"/>
<path d="M565.9 189.4L568.9 187.1L567.2 185.6L564.1 188.0Z" fill="#6a3685" stroke="#6a3685"/>
<path d="M572.5 190.0L575.5 187.7L573.7 186.3L570.7 188.6Z" fill="#6b3584" stroke="#6b3584"/>
<path d="M579.1 190.6L582.1 188.4L580.3 186.9L577.3 189.2Z" fill="#6c3382" stroke="#6c3382"/>
<path d="M540.9 188.8L544.2 186.1L542.5 184.5L539.2 187.2Z" fill="#673b8a" stroke="#673b8a"/>
<path d="M547.6 189.3L550.8 186.7L549.1 185.1L545.9 187.7Z" fill="#683a89" stroke="#683a89"/>
<path d="M554.3 189.8L557.5 187.3L555.7 185.8L552.6 188.3Z" fill="#693987" stroke="#693987"/>
<path d="M561.0 190.4L564.1 188.0L562.3 186.4L559.2 188.9Z" fill="#6a3786" stroke="#6a3786"/>
<path d="M567.7 190.9L570.7 188.6L568.9 187.1L565.9 189.4Z" fill="#6b3584" stroke="#6b3584"/>
<path d="M574.3 191.5L577.3 189.2L575.5 187.7L572.5 190.0Z" fill="#6c3483" stroke="#6c3483"/>
<path d="M542.7 190.4L545.9 187.7L544.2 186.1L540.9 188.8Z" fill="#683a88" stroke="#683a88"/>
<path d="M549.4 190.9L552.6 188.3L550.8 186.7L547.6 189.3Z" fill="#693987" stroke="#693987"/>
<path d="M556.1 191.3L559.2 188.9L557.5 187.3L554.3 189.8Z" fill="#6a3786" stroke="#6a3786"/>
<path d="M562.8 191.9L565.9 189.4L564.1 188.0L561.0 190.4Z" fill="#6a3685" stroke="#6a3685"/>
<path d="M569.5 192.4L572.5 190.0L570.7 188.6L567.7 190.9Z" fill="#6b3483" stroke="#6b3483"/>
<path d="M576.1 192.9L579.1 190.6L577.3 189.2L574.3 191.5Z" fill="#6c3382" stroke="#6c3382"/>
<path d="M544.4 192.0L547.6 189.3L545.9 187.7L542.7 190.4Z" fill="#693987" stroke="#693987"/>
<path d="M551.1 192.4L554.3 189.8L552.6 188.3L549.4 190.9Z" fill="#693886" stroke="#693886"/>
<path d="M557.9 192.9L561.0 190.4L559.2 188.9L556.1 191.3Z" fill="#6a3685" stroke="#6a3685"/>
<path d="M564.6 193.4L567.7 190.9L565.9 189.4L562.8 191.9Z" fill="#6b3584" stroke="#6b3584"/>
<path d="M571.3 193.9L574.3 191.5L572.5 190.0L569.5 192.4Z" fill="#6c3382" stroke="#6c3382"/>
<path d="M546.1 193.5L549.4 190.9L547.6 189.3L544.4 192.0Z" fill="#693886" stroke="#693886"/>
<path d="M552.9 193.9L556.1 191.3L554.3 189.8L551.1 192.4Z" fill="#6a3685" stroke="#6a3685"/>
<path d="M559.6 194.4L562.8 191.9L561.0 190.4L557.9 192.9Z" fill="#6b3584" stroke="#6b3584"/>
<path d="M566.4 194.8L569.5 192.4L567.7 190.9L564.6 193.4Z" fill="#6c3483" stroke="#6c3483"/>
<path d="M573.1 195.3L576.1 192.9L574.3 191.5L571.3 193.9Z" fill="#6c3281" stroke="#6c3281"/>
<path d="M547.9 195.0L551.1 192.4L549.4 190.9L546.1 193.5Z" fill="#6a3685" stroke="#6a3685"/>
<path d="M554.7 195.4L557.9 192.9L556.1 191.3L552.9 193.9Z" fill="#6b3584" stroke="#6b3584"/>
<path d="M561.4 195.8L564.6 193.4L562.8 191.9L559.6 194.4Z" fill="#6b3483" stroke="#6b3483"/>
<path d="M568.2 196.3L571.3 193.9L569.5 192.4L566.4 194.8Z" fill="#6c3382" stroke="#6c3382"/>
<path d="M549.7 196.6L552.9 193.9L551.1 192.4L547.9 195.0Z" fill="#6b3584" stroke="#6b3584"/>
<path d="M556.5 196.9L559.6 194.4L557.9 192.9L554.7 195.4Z" fill="#6b3483" stroke="#6b3483"/>
<path d="M563.2 197.3L566.4 194.8L564.6 193.4L561.4 195.8Z" fill="#6c3382" stroke="#6c3382"/>
<path d="M570.0 197.7L573.1 195.3L571.3 193.9L568.2 196.3Z" fill="#6d3281" stroke="#6d3281"/>
<path d="M551.4 198.1L554.7 195.4L552.9 193.9L549.7 196.6Z" fill="#6b3483" stroke="#6b3483"/>
<path d="M558.3 198.4L561.4 195.8L559.6 194.4L556.5 196.9Z" fill="#6c3382" stroke="#6c3382"/>
<path d="M565.1 198.8L568.2 196.3L566.4 194.8L563.2 197.3Z" fill="#6d3281" stroke="#6d3281"/>
<path d="M553.2 199.6L556.5 196.9L554.7 195.4L551.4 198.1Z" fill="#6c3382" stroke="#6c3382"/>
<path d="M560.1 199.9L563.2 197.3L561.4 195.8L558.3 198.4Z" fill="#6d3281" stroke="#6d3281"/>
<path d="M566.9 200.2L570.0 197.7L568.2 196.3L565.1 198.8Z" fill="#6d3180" stroke="#6d3180"/>
<path d="M555.0 201.0L558.3 198.4L556.5 196.9L553.2 199.6Z" fill="#6d3281" stroke="#6d3281"/>
<path d="M561.9 201.3L565.1 198.8L563.2 197.3L560.1 199.9Z" fill="#6d3181" stroke="#6d3181"/>
<path d="M556.8 202.5L560.1 199.9L558.3 198.4L555.0 201.0Z" fill="#6d3181" stroke="#6d3181"/>
<path d="M563.7 202.8L566.9 200.2L565.1 198.8L561.9 201.3Z" fill="#6d3180" stroke="#6d3180"/>
<path d="M558.7 204.0L561.9 201.3L560.1 199.9L556.8 202.5Z" fill="#6d3180" stroke="#6d3180"/>
<path d="M560.5 205.4L563.7 202.8L561.9 201.3L558.7 204.0Z" fill="#6e307f" stroke="#6e307f"/>
</g>

<circle cx="545.8" cy="80.6" r="2.6" fill="#000"/>
<circle cx="562.3" cy="101.6" r="2.6" fill="#000"/>
<circle cx="572.3" cy="100.6" r="2.6" fill="#000"/>
<circle cx="546.6" cy="102.4" r="2.6" fill="#000"/>
<circle cx="544.6" cy="106.6" r="2.6" fill="#000"/>
<circle cx="548.0" cy="107.3" r="2.6" fill="#000"/>
<circle cx="532.4" cy="113.3" r="2.6" fill="#000"/>
<circle cx="547.1" cy="115.3" r="2.6" fill="#000"/>
<circle cx="546.3" cy="117.3" r="2.6" fill="#000"/>
<circle cx="503.5" cy="115.0" r="2.6" fill="#000"/>
<circle cx="520.3" cy="116.2" r="2.6" fill="#000"/>
<circle cx="522.8" cy="119.7" r="2.6" fill="#000"/>
<circle cx="556.4" cy="148.9" r="2.6" fill="#000"/>
<circle cx="578.5" cy="154.0" r="2.6" fill="#000"/>
<circle cx="593.4" cy="154.0" r="2.6" fill="#000"/>
<circle cx="586.4" cy="159.9" r="2.6" fill="#000"/>
<circle cx="593.3" cy="162.3" r="2.6" fill="#000"/>
<circle cx="593.3" cy="164.2" r="2.6" fill="#000"/>
<circle cx="601.5" cy="167.5" r="2.6" fill="#000"/>
<circle cx="553.8" cy="168.9" r="2.6" fill="#000"/>
<circle cx="568.2" cy="171.2" r="2.6" fill="#000"/>
<circle cx="541.8" cy="178.0" r="2.6" fill="#000"/>
<circle cx="581.6" cy="189.3" r="2.6" fill="#000"/>
<circle cx="548.2" cy="195.7" r="2.6" fill="#000"/>
<text transform="translate(400.9 45.9) rotate(-16.0)" font-size="8.8" text-anchor="middle" dominant-baseline="central" >50</text>
<text transform="translate(405.2 72.4) rotate(-16.0)" font-size="8.8" text-anchor="middle" dominant-baseline="central" >40</text>
<text transform="translate(409.8 96.3) rotate(-16.0)" font-size="8.8" text-anchor="middle" dominant-baseline="central" >30</text>
<text transform="translate(413.5 120.3) rotate(-16.0)" font-size="8.8" text-anchor="middle" dominant-baseline="central" >20</text>
<text transform="translate(416.6 141.3) rotate(-16.0)" font-size="8.8" text-anchor="middle" dominant-baseline="central" >10</text>
<text transform="translate(417.8 164.0) rotate(-30.0)" font-size="8.8" text-anchor="middle" dominant-baseline="central" >50</text>
<text transform="translate(436.0 177.9) rotate(-30.0)" font-size="8.8" text-anchor="middle" dominant-baseline="central" >40</text>
<text transform="translate(455.2 193.1) rotate(-30.0)" font-size="8.8" text-anchor="middle" dominant-baseline="central" >30</text>
<text transform="translate(477.1 210.7) rotate(-30.0)" font-size="8.8" text-anchor="middle" dominant-baseline="central" >20</text>
<text transform="translate(501.1 230.1) rotate(-30.0)" font-size="8.8" text-anchor="middle" dominant-baseline="central" >10</text>
<text transform="translate(526.8 251.6) rotate(-30.0)" font-size="8.8" text-anchor="middle" dominant-baseline="central" >0</text>
<text transform="translate(548.3 251.1) rotate(31.0)" font-size="8.8" text-anchor="middle" dominant-baseline="central" >0</text>
<text transform="translate(574.8 230.4) rotate(31.0)" font-size="8.8" text-anchor="middle" dominant-baseline="central" >10</text>
<text transform="translate(598.7 210.7) rotate(31.0)" font-size="8.8" text-anchor="middle" dominant-baseline="central" >20</text>
<text transform="translate(620.2 193.8) rotate(31.0)" font-size="8.8" text-anchor="middle" dominant-baseline="central" >30</text>
<text transform="translate(639.1 177.9) rotate(31.0)" font-size="8.8" text-anchor="middle" dominant-baseline="central" >40</text>
<text transform="translate(656.3 163.3) rotate(31.0)" font-size="8.8" text-anchor="middle" dominant-baseline="central" >50</text>
<text transform="translate(451.2 211.3) rotate(40.6)" font-size="9.4" text-anchor="middle" dominant-baseline="central" >Soil Temperature (°C)</text>
<text transform="translate(624.6 210.5) rotate(-40.2)" font-size="9.3" text-anchor="middle" dominant-baseline="central" >Soil volumetric water content (m<tspan font-size="5.8" dy="-3">3</tspan><tspan dy="3"> m</tspan><tspan font-size="5.8" dy="-3">−3</tspan><tspan dy="3">)</tspan></text>
<text transform="translate(396.0 115.5) rotate(80.5)" font-size="10.8" text-anchor="middle" dominant-baseline="central" >R<tspan font-size="7.4" dy="2.2">H</tspan><tspan dy="-2.2"> (µg C cm</tspan><tspan font-size="5.8" dy="-3">−2</tspan><tspan dy="3"> hr</tspan><tspan font-size="5.8" dy="-3">−1</tspan><tspan dy="3">)</tspan></text>
<text x="377.8" y="24.6" font-size="31" fill="#000">(b)</text>
</g>
<g id="panel-c">
<line x1="153.2" y1="535.2" x2="49.8" y2="449.2" stroke="#7c7c7c" stroke-width="0.55"/>
<line x1="153.2" y1="535.2" x2="270.8" y2="455.2" stroke="#7c7c7c" stroke-width="0.55"/>
<line x1="49.8" y1="449.2" x2="33.2" y2="331.3" stroke="#7c7c7c" stroke-width="0.55"/>
<line x1="270.8" y1="455.2" x2="287.0" y2="336.2" stroke="#7c7c7c" stroke-width="0.55"/>
<line x1="181.8" y1="515.8" x2="76.3" y2="437.7" stroke="#7c7c7c" stroke-width="0.55"/>
<line x1="127.8" y1="514.1" x2="245.5" y2="442.2" stroke="#7c7c7c" stroke-width="0.55"/>
<line x1="76.3" y1="437.7" x2="64.3" y2="323.8" stroke="#7c7c7c" stroke-width="0.55"/>
<line x1="46.8" y1="428.1" x2="163.5" y2="381.6" stroke="#7c7c7c" stroke-width="0.55"/>
<line x1="245.5" y1="442.2" x2="257.3" y2="327.4" stroke="#7c7c7c" stroke-width="0.55"/>
<line x1="273.7" y1="434.0" x2="163.5" y2="381.6" stroke="#7c7c7c" stroke-width="0.55"/>
<line x1="207.4" y1="498.3" x2="100.8" y2="427.1" stroke="#7c7c7c" stroke-width="0.55"/>
<line x1="105.1" y1="495.3" x2="222.3" y2="430.2" stroke="#7c7c7c" stroke-width="0.55"/>
<line x1="100.8" y1="427.1" x2="92.5" y2="316.9" stroke="#7c7c7c" stroke-width="0.55"/>
<line x1="43.7" y1="405.9" x2="163.5" y2="362.4" stroke="#7c7c7c" stroke-width="0.55"/>
<line x1="222.3" y1="430.2" x2="230.4" y2="319.5" stroke="#7c7c7c" stroke-width="0.55"/>
<line x1="276.8" y1="411.5" x2="163.5" y2="362.4" stroke="#7c7c7c" stroke-width="0.55"/>
<line x1="230.6" y1="482.6" x2="123.3" y2="417.3" stroke="#7c7c7c" stroke-width="0.55"/>
<line x1="84.8" y1="478.4" x2="201.1" y2="419.3" stroke="#7c7c7c" stroke-width="0.55"/>
<line x1="123.3" y1="417.3" x2="118.3" y2="310.7" stroke="#7c7c7c" stroke-width="0.55"/>
<line x1="40.4" y1="382.4" x2="163.6" y2="342.5" stroke="#7c7c7c" stroke-width="0.55"/>
<line x1="201.1" y1="419.3" x2="206.1" y2="312.2" stroke="#7c7c7c" stroke-width="0.55"/>
<line x1="280.0" y1="387.8" x2="163.6" y2="342.5" stroke="#7c7c7c" stroke-width="0.55"/>
<line x1="251.6" y1="468.3" x2="144.1" y2="408.3" stroke="#7c7c7c" stroke-width="0.55"/>
<line x1="66.5" y1="463.1" x2="181.6" y2="409.2" stroke="#7c7c7c" stroke-width="0.55"/>
<line x1="144.1" y1="408.3" x2="141.9" y2="305.0" stroke="#7c7c7c" stroke-width="0.55"/>
<line x1="36.9" y1="357.6" x2="163.6" y2="321.6" stroke="#7c7c7c" stroke-width="0.55"/>
<line x1="181.6" y1="409.2" x2="183.9" y2="305.7" stroke="#7c7c7c" stroke-width="0.55"/>
<line x1="283.4" y1="362.8" x2="163.6" y2="321.6" stroke="#7c7c7c" stroke-width="0.55"/>
<line x1="270.8" y1="455.2" x2="163.5" y2="399.9" stroke="#7c7c7c" stroke-width="0.55"/>
<line x1="49.8" y1="449.2" x2="163.5" y2="399.9" stroke="#7c7c7c" stroke-width="0.55"/>
<line x1="163.5" y1="399.9" x2="163.6" y2="299.7" stroke="#7c7c7c" stroke-width="0.55"/>
<line x1="33.2" y1="331.3" x2="163.6" y2="299.7" stroke="#7c7c7c" stroke-width="0.55"/>
<line x1="287.0" y1="336.2" x2="163.6" y2="299.7" stroke="#7c7c7c" stroke-width="0.55"/>
<line x1="153.2" y1="535.2" x2="150.7" y2="536.9" stroke="#7c7c7c" stroke-width="0.55"/>
<line x1="153.2" y1="535.2" x2="155.5" y2="537.2" stroke="#7c7c7c" stroke-width="0.55"/>
<line x1="127.8" y1="514.1" x2="125.2" y2="515.7" stroke="#7c7c7c" stroke-width="0.55"/>
<line x1="181.8" y1="515.8" x2="184.2" y2="517.6" stroke="#7c7c7c" stroke-width="0.55"/>
<line x1="105.1" y1="495.3" x2="102.5" y2="496.7" stroke="#7c7c7c" stroke-width="0.55"/>
<line x1="207.4" y1="498.3" x2="209.9" y2="500.0" stroke="#7c7c7c" stroke-width="0.55"/>
<line x1="84.8" y1="478.4" x2="82.1" y2="479.7" stroke="#7c7c7c" stroke-width="0.55"/>
<line x1="230.6" y1="482.6" x2="233.2" y2="484.1" stroke="#7c7c7c" stroke-width="0.55"/>
<line x1="66.5" y1="463.1" x2="63.7" y2="464.4" stroke="#7c7c7c" stroke-width="0.55"/>
<line x1="251.6" y1="468.3" x2="254.3" y2="469.7" stroke="#7c7c7c" stroke-width="0.55"/>
<line x1="49.8" y1="449.2" x2="47.1" y2="450.4" stroke="#7c7c7c" stroke-width="0.55"/>
<line x1="270.8" y1="455.2" x2="273.5" y2="456.6" stroke="#7c7c7c" stroke-width="0.55"/>
<circle cx="170.6" cy="377.8" r="2.6" fill="#000"/>
<circle cx="159.5" cy="383.2" r="2.6" fill="#000"/>
<circle cx="154.5" cy="388.3" r="2.6" fill="#000"/>
<circle cx="163.3" cy="390.8" r="2.6" fill="#000"/>

<linearGradient id="gc" gradientUnits="userSpaceOnUse" x1="150" y1="372" x2="158.2" y2="401.4"><stop offset="0" stop-color="#52c888"/><stop offset="0.55" stop-color="#3bb58e"/><stop offset="1" stop-color="#249e98"/></linearGradient><path d="M132.1 389.7L137.1 384.1L143.0 378.8L150.3 374.9L158.2 372.9L166.1 372.6L173.9 373.9L180.5 376.6L187.1 380.8L193.7 386.1L199.6 390.7L188.4 387.4L180.5 386.1L172.6 386.7L164.7 389.3L158.2 393.3L151.6 398.6L145.0 405.8Z" fill="url(#gc)" opacity="0.77"/>
<circle cx="171.4" cy="378.6" r="2.6" fill="#000"/>
<circle cx="170.7" cy="354.5" r="2.6" fill="#000"/>
<circle cx="160.1" cy="370.0" r="2.6" fill="#000"/>
<circle cx="178.3" cy="367.0" r="2.6" fill="#000"/>
<circle cx="182.5" cy="368.9" r="2.6" fill="#000"/>
<circle cx="178.3" cy="378.4" r="2.6" fill="#000"/>
<circle cx="192.1" cy="378.8" r="2.6" fill="#000"/>
<circle cx="192.8" cy="379.9" r="2.6" fill="#000"/>
<circle cx="131.2" cy="391.7" r="2.6" fill="#000"/>
<circle cx="177.2" cy="390.0" r="2.6" fill="#000"/>
<circle cx="187.1" cy="389.7" r="2.6" fill="#000"/>
<circle cx="188.7" cy="390.4" r="2.6" fill="#000"/>
<circle cx="177.2" cy="397.5" r="2.6" fill="#000"/>
<circle cx="194.1" cy="397.5" r="2.6" fill="#000"/>
<circle cx="198.9" cy="395.0" r="2.6" fill="#000"/>
<circle cx="200.0" cy="394.0" r="2.6" fill="#000"/>
<text transform="translate(23.2 335.7) rotate(-16.0)" font-size="8.8" text-anchor="middle" dominant-baseline="central" >50</text>
<text transform="translate(28.2 361.5) rotate(-16.0)" font-size="8.8" text-anchor="middle" dominant-baseline="central" >40</text>
<text transform="translate(31.8 386.4) rotate(-16.0)" font-size="8.8" text-anchor="middle" dominant-baseline="central" >30</text>
<text transform="translate(35.6 409.5) rotate(-16.0)" font-size="8.8" text-anchor="middle" dominant-baseline="central" >20</text>
<text transform="translate(38.1 432.0) rotate(-16.0)" font-size="8.8" text-anchor="middle" dominant-baseline="central" >10</text>
<text transform="translate(38.6 454.3) rotate(-30.0)" font-size="8.8" text-anchor="middle" dominant-baseline="central" >50</text>
<text transform="translate(56.2 468.2) rotate(-30.0)" font-size="8.8" text-anchor="middle" dominant-baseline="central" >40</text>
<text transform="translate(74.7 483.8) rotate(-30.0)" font-size="8.8" text-anchor="middle" dominant-baseline="central" >30</text>
<text transform="translate(94.3 501.7) rotate(-30.0)" font-size="8.8" text-anchor="middle" dominant-baseline="central" >20</text>
<text transform="translate(116.4 521.1) rotate(-30.0)" font-size="8.8" text-anchor="middle" dominant-baseline="central" >10</text>
<text transform="translate(140.3 543.3) rotate(-30.0)" font-size="8.8" text-anchor="middle" dominant-baseline="central" >0</text>
<text transform="translate(162.5 544.3) rotate(39.0)" font-size="8.8" text-anchor="middle" dominant-baseline="central" >0</text>
<text transform="translate(191.6 524.9) rotate(39.0)" font-size="8.8" text-anchor="middle" dominant-baseline="central" >10</text>
<text transform="translate(216.9 507.3) rotate(39.0)" font-size="8.8" text-anchor="middle" dominant-baseline="central" >20</text>
<text transform="translate(240.0 490.1) rotate(39.0)" font-size="8.8" text-anchor="middle" dominant-baseline="central" >30</text>
<text transform="translate(260.2 475.7) rotate(39.0)" font-size="8.8" text-anchor="middle" dominant-baseline="central" >40</text>
<text transform="translate(280.3 461.9) rotate(39.0)" font-size="8.8" text-anchor="middle" dominant-baseline="central" >50</text>
<text transform="translate(67.6 501.0) rotate(43.8)" font-size="9.4" text-anchor="middle" dominant-baseline="central" >Soil Temperature (°C)</text>
<text transform="translate(242.3 508.3) rotate(-35.4)" font-size="9.2" text-anchor="middle" dominant-baseline="central" >Soil volumetric water content (m<tspan font-size="5.8" dy="-3">3</tspan><tspan dy="3"> m</tspan><tspan font-size="5.8" dy="-3">−3</tspan><tspan dy="3">)</tspan></text>
<text transform="translate(19.8 404.3) rotate(80.1)" font-size="11.0" text-anchor="middle" dominant-baseline="central" >R<tspan font-size="7.4" dy="2.2">S</tspan><tspan dy="-2.2"> (µg C cm</tspan><tspan font-size="5.8" dy="-3">−2</tspan><tspan dy="3"> hr</tspan><tspan font-size="5.8" dy="-3">−1</tspan><tspan dy="3">)</tspan></text>
<text x="-1.0" y="314.1" font-size="31" fill="#000">(c)</text>
</g>
<g id="panel-d">
<line x1="538.8" y1="536.7" x2="428.0" y2="452.1" stroke="#7c7c7c" stroke-width="0.55"/>
<line x1="538.8" y1="536.7" x2="647.1" y2="452.1" stroke="#7c7c7c" stroke-width="0.55"/>
<line x1="428.0" y1="452.1" x2="410.3" y2="334.7" stroke="#7c7c7c" stroke-width="0.55"/>
<line x1="647.1" y1="452.1" x2="664.4" y2="335.0" stroke="#7c7c7c" stroke-width="0.55"/>
<line x1="565.1" y1="516.2" x2="453.5" y2="439.5" stroke="#7c7c7c" stroke-width="0.55"/>
<line x1="511.9" y1="516.2" x2="621.4" y2="439.5" stroke="#7c7c7c" stroke-width="0.55"/>
<line x1="453.5" y1="439.5" x2="440.6" y2="326.0" stroke="#7c7c7c" stroke-width="0.55"/>
<line x1="424.8" y1="431.3" x2="536.9" y2="380.0" stroke="#7c7c7c" stroke-width="0.55"/>
<line x1="621.4" y1="439.5" x2="633.9" y2="326.2" stroke="#7c7c7c" stroke-width="0.55"/>
<line x1="650.2" y1="431.4" x2="536.9" y2="380.0" stroke="#7c7c7c" stroke-width="0.55"/>
<line x1="588.8" y1="497.7" x2="476.9" y2="427.9" stroke="#7c7c7c" stroke-width="0.55"/>
<line x1="487.7" y1="497.7" x2="597.7" y2="427.9" stroke="#7c7c7c" stroke-width="0.55"/>
<line x1="476.9" y1="427.9" x2="468.0" y2="318.0" stroke="#7c7c7c" stroke-width="0.55"/>
<line x1="421.5" y1="409.3" x2="536.9" y2="361.0" stroke="#7c7c7c" stroke-width="0.55"/>
<line x1="597.7" y1="427.9" x2="606.2" y2="318.2" stroke="#7c7c7c" stroke-width="0.55"/>
<line x1="653.4" y1="409.4" x2="536.9" y2="361.0" stroke="#7c7c7c" stroke-width="0.55"/>
<line x1="610.1" y1="481.0" x2="498.5" y2="417.2" stroke="#7c7c7c" stroke-width="0.55"/>
<line x1="465.9" y1="481.1" x2="575.9" y2="417.3" stroke="#7c7c7c" stroke-width="0.55"/>
<line x1="498.5" y1="417.2" x2="492.9" y2="310.8" stroke="#7c7c7c" stroke-width="0.55"/>
<line x1="418.0" y1="385.9" x2="536.8" y2="341.0" stroke="#7c7c7c" stroke-width="0.55"/>
<line x1="575.9" y1="417.3" x2="581.0" y2="310.9" stroke="#7c7c7c" stroke-width="0.55"/>
<line x1="656.9" y1="386.1" x2="536.8" y2="341.0" stroke="#7c7c7c" stroke-width="0.55"/>
<line x1="629.5" y1="465.9" x2="518.4" y2="407.4" stroke="#7c7c7c" stroke-width="0.55"/>
<line x1="446.0" y1="465.9" x2="555.7" y2="407.4" stroke="#7c7c7c" stroke-width="0.55"/>
<line x1="518.4" y1="407.4" x2="515.8" y2="304.2" stroke="#7c7c7c" stroke-width="0.55"/>
<line x1="414.3" y1="361.1" x2="536.8" y2="320.1" stroke="#7c7c7c" stroke-width="0.55"/>
<line x1="555.7" y1="407.4" x2="557.9" y2="304.2" stroke="#7c7c7c" stroke-width="0.55"/>
<line x1="660.5" y1="361.3" x2="536.8" y2="320.1" stroke="#7c7c7c" stroke-width="0.55"/>
<line x1="647.1" y1="452.1" x2="536.9" y2="398.2" stroke="#7c7c7c" stroke-width="0.55"/>
<line x1="428.0" y1="452.1" x2="536.9" y2="398.2" stroke="#7c7c7c" stroke-width="0.55"/>
<line x1="536.9" y1="398.2" x2="536.7" y2="298.1" stroke="#7c7c7c" stroke-width="0.55"/>
<line x1="410.3" y1="334.7" x2="536.7" y2="298.1" stroke="#7c7c7c" stroke-width="0.55"/>
<line x1="664.4" y1="335.0" x2="536.7" y2="298.1" stroke="#7c7c7c" stroke-width="0.55"/>
<line x1="538.8" y1="536.7" x2="536.4" y2="538.6" stroke="#7c7c7c" stroke-width="0.55"/>
<line x1="538.8" y1="536.7" x2="541.2" y2="538.6" stroke="#7c7c7c" stroke-width="0.55"/>
<line x1="511.9" y1="516.2" x2="509.4" y2="517.9" stroke="#7c7c7c" stroke-width="0.55"/>
<line x1="565.1" y1="516.2" x2="567.6" y2="517.9" stroke="#7c7c7c" stroke-width="0.55"/>
<line x1="487.7" y1="497.7" x2="485.2" y2="499.3" stroke="#7c7c7c" stroke-width="0.55"/>
<line x1="588.8" y1="497.7" x2="591.3" y2="499.3" stroke="#7c7c7c" stroke-width="0.55"/>
<line x1="465.9" y1="481.1" x2="463.3" y2="482.6" stroke="#7c7c7c" stroke-width="0.55"/>
<line x1="610.1" y1="481.0" x2="612.7" y2="482.5" stroke="#7c7c7c" stroke-width="0.55"/>
<line x1="446.0" y1="465.9" x2="443.4" y2="467.3" stroke="#7c7c7c" stroke-width="0.55"/>
<line x1="629.5" y1="465.9" x2="632.1" y2="467.3" stroke="#7c7c7c" stroke-width="0.55"/>
<line x1="428.0" y1="452.1" x2="425.3" y2="453.5" stroke="#7c7c7c" stroke-width="0.55"/>
<line x1="647.1" y1="452.1" x2="649.8" y2="453.5" stroke="#7c7c7c" stroke-width="0.55"/>
<circle cx="554.5" cy="378.2" r="2.6" fill="#000"/>
<circle cx="522.0" cy="403.4" r="2.6" fill="#000"/>

<linearGradient id="gd" gradientUnits="userSpaceOnUse" x1="560" y1="365" x2="512" y2="408"><stop offset="0" stop-color="#56cb8a"/><stop offset="1" stop-color="#1c9893"/></linearGradient><path d="M506.1 402.1L512.4 395.3L520.3 387.4L529.5 378.8L538.7 371.6L546.6 366.3L552.9 363.3L570.0 370.5L562.4 374.9L554.5 380.8L546.6 388.0L538.7 395.9L530.8 404.5L523.9 411.4Z" fill="url(#gd)" opacity="0.77"/>
<circle cx="548.3" cy="354.5" r="2.6" fill="#000"/>
<circle cx="542.0" cy="366.3" r="2.6" fill="#000"/>
<circle cx="564.1" cy="366.6" r="2.6" fill="#000"/>
<circle cx="531.8" cy="375.1" r="2.6" fill="#000"/>
<circle cx="525.5" cy="380.5" r="2.6" fill="#000"/>
<circle cx="517.9" cy="387.1" r="2.6" fill="#000"/>
<circle cx="536.3" cy="386.4" r="2.6" fill="#000"/>
<circle cx="528.6" cy="389.7" r="2.6" fill="#000"/>
<circle cx="525.8" cy="396.3" r="2.6" fill="#000"/>
<circle cx="529.1" cy="397.0" r="2.6" fill="#000"/>
<circle cx="555.4" cy="391.1" r="2.6" fill="#000"/>
<circle cx="542.9" cy="401.6" r="2.6" fill="#000"/>
<circle cx="523.0" cy="432.2" r="2.6" fill="#000"/>
<text transform="translate(400.9 339.2) rotate(-16.0)" font-size="8.8" text-anchor="middle" dominant-baseline="central" >50</text>
<text transform="translate(405.2 365.7) rotate(-16.0)" font-size="8.8" text-anchor="middle" dominant-baseline="central" >40</text>
<text transform="translate(409.8 389.6) rotate(-16.0)" font-size="8.8" text-anchor="middle" dominant-baseline="central" >30</text>
<text transform="translate(413.5 413.6) rotate(-16.0)" font-size="8.8" text-anchor="middle" dominant-baseline="central" >20</text>
<text transform="translate(416.6 434.6) rotate(-16.0)" font-size="8.8" text-anchor="middle" dominant-baseline="central" >10</text>
<text transform="translate(417.8 457.3) rotate(-30.0)" font-size="8.8" text-anchor="middle" dominant-baseline="central" >50</text>
<text transform="translate(436.0 471.2) rotate(-30.0)" font-size="8.8" text-anchor="middle" dominant-baseline="central" >40</text>
<text transform="translate(455.2 486.4) rotate(-30.0)" font-size="8.8" text-anchor="middle" dominant-baseline="central" >30</text>
<text transform="translate(477.1 504.0) rotate(-30.0)" font-size="8.8" text-anchor="middle" dominant-baseline="central" >20</text>
<text transform="translate(501.1 523.4) rotate(-30.0)" font-size="8.8" text-anchor="middle" dominant-baseline="central" >10</text>
<text transform="translate(526.8 544.9) rotate(-30.0)" font-size="8.8" text-anchor="middle" dominant-baseline="central" >0</text>
<text transform="translate(548.3 544.4) rotate(31.0)" font-size="8.8" text-anchor="middle" dominant-baseline="central" >0</text>
<text transform="translate(574.8 523.7) rotate(31.0)" font-size="8.8" text-anchor="middle" dominant-baseline="central" >10</text>
<text transform="translate(598.7 504.0) rotate(31.0)" font-size="8.8" text-anchor="middle" dominant-baseline="central" >20</text>
<text transform="translate(620.2 487.1) rotate(31.0)" font-size="8.8" text-anchor="middle" dominant-baseline="central" >30</text>
<text transform="translate(639.1 471.2) rotate(31.0)" font-size="8.8" text-anchor="middle" dominant-baseline="central" >40</text>
<text transform="translate(656.3 456.6) rotate(31.0)" font-size="8.8" text-anchor="middle" dominant-baseline="central" >50</text>
<text transform="translate(451.2 504.6) rotate(40.6)" font-size="9.4" text-anchor="middle" dominant-baseline="central" >Soil Temperature (°C)</text>
<text transform="translate(624.6 503.8) rotate(-40.2)" font-size="9.3" text-anchor="middle" dominant-baseline="central" >Soil volumetric water content (m<tspan font-size="5.8" dy="-3">3</tspan><tspan dy="3"> m</tspan><tspan font-size="5.8" dy="-3">−3</tspan><tspan dy="3">)</tspan></text>
<text transform="translate(396.0 408.8) rotate(80.5)" font-size="10.8" text-anchor="middle" dominant-baseline="central" >R<tspan font-size="7.4" dy="2.2">H</tspan><tspan dy="-2.2"> (µg C cm</tspan><tspan font-size="5.8" dy="-3">−2</tspan><tspan dy="3"> hr</tspan><tspan font-size="5.8" dy="-3">−1</tspan><tspan dy="3">)</tspan></text>
<text x="381.1" y="314.3" font-size="31" fill="#000">(d)</text>
</g>
</svg></body></html>
